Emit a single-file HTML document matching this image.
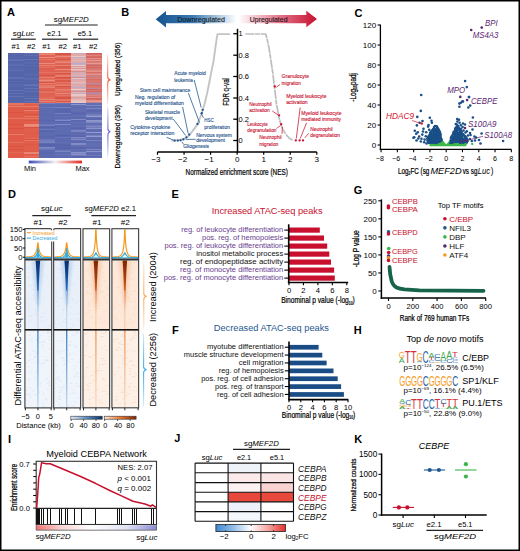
<!DOCTYPE html><html><head><meta charset="utf-8"><title>Figure</title><style>html,body{margin:0;padding:0;background:#fff;width:520px;height:551px;overflow:hidden;}svg{display:block;font-family:"Liberation Sans",sans-serif;}</style></head><body><svg width="520" height="551" viewBox="0 0 520 551" font-family="Liberation Sans, sans-serif"><defs><linearGradient id="gA"><stop offset="0" stop-color="#3d4db5"/><stop offset="0.5" stop-color="#f4f0f0"/><stop offset="1" stop-color="#e0281c"/></linearGradient><linearGradient id="br1" x1="0" y1="0" x2="0" y2="1"><stop offset="0" stop-color="#f25a3c" stop-opacity="0.2"/><stop offset="0.5" stop-color="#f25a3c"/><stop offset="1" stop-color="#f25a3c" stop-opacity="0.2"/></linearGradient><linearGradient id="br2" x1="0" y1="0" x2="0" y2="1"><stop offset="0" stop-color="#5a5acc" stop-opacity="0.2"/><stop offset="0.5" stop-color="#5a5acc"/><stop offset="1" stop-color="#5a5acc" stop-opacity="0.2"/></linearGradient><linearGradient id="gBl" x1="0" x2="1"><stop offset="0" stop-color="#15538f"/><stop offset="0.45" stop-color="#3a78b0"/><stop offset="1" stop-color="#ffffff"/></linearGradient><linearGradient id="gBr" x1="0" x2="1"><stop offset="0" stop-color="#ffffff"/><stop offset="0.55" stop-color="#de6f84"/><stop offset="1" stop-color="#c8102e"/></linearGradient><filter id="bl1" x="-1" y="-0.2" width="3" height="1.4"><feGaussianBlur stdDeviation="0.6"/></filter><filter id="bl2" x="-1" y="-0.2" width="3" height="1.4"><feGaussianBlur stdDeviation="1.5"/></filter><linearGradient id="lnB" x1="0" y1="0" x2="0" y2="1"><stop offset="0" stop-color="#3a7cc0"/><stop offset="0.5" stop-color="#7aa8d8"/><stop offset="1" stop-color="#c4d9ef"/></linearGradient><linearGradient id="lnO" x1="0" y1="0" x2="0" y2="1"><stop offset="0" stop-color="#ee9250"/><stop offset="0.5" stop-color="#f6bc92"/><stop offset="1" stop-color="#fadcc6"/></linearGradient><linearGradient id="wB" x1="0" y1="0" x2="0" y2="1"><stop offset="0" stop-color="#08306b"/><stop offset="0.3" stop-color="#0f4a92"/><stop offset="0.55" stop-color="#2f72b8"/><stop offset="0.8" stop-color="#7aaad8"/><stop offset="1" stop-color="#b9d0ea" stop-opacity="0.6"/></linearGradient><linearGradient id="wO" x1="0" y1="0" x2="0" y2="1"><stop offset="0" stop-color="#7f2704"/><stop offset="0.3" stop-color="#a23a0c"/><stop offset="0.55" stop-color="#cf6228"/><stop offset="0.8" stop-color="#eea070"/><stop offset="1" stop-color="#f6c4a2" stop-opacity="0.6"/></linearGradient><linearGradient id="cbB"><stop offset="0" stop-color="#e8eff8"/><stop offset="0.5" stop-color="#5b8fc6"/><stop offset="1" stop-color="#08306b"/></linearGradient><linearGradient id="cbO"><stop offset="0" stop-color="#fdebdd"/><stop offset="0.5" stop-color="#ee7a32"/><stop offset="1" stop-color="#7f2704"/></linearGradient><linearGradient id="br3" x1="0" y1="0" x2="0" y2="1"><stop offset="0" stop-color="#f8a850" stop-opacity="0.2"/><stop offset="0.5" stop-color="#f8a850"/><stop offset="1" stop-color="#f8a850" stop-opacity="0.2"/></linearGradient><linearGradient id="br4" x1="0" y1="0" x2="0" y2="1"><stop offset="0" stop-color="#36a8e6" stop-opacity="0.2"/><stop offset="0.5" stop-color="#36a8e6"/><stop offset="1" stop-color="#36a8e6" stop-opacity="0.2"/></linearGradient><linearGradient id="gI"><stop offset="0" stop-color="#ef7070"/><stop offset="0.2" stop-color="#f9d2d2"/><stop offset="0.45" stop-color="#ffffff"/><stop offset="0.75" stop-color="#e2e2f6"/><stop offset="1" stop-color="#8a8ad2"/></linearGradient><linearGradient id="gJ"><stop offset="0" stop-color="#3f88d4"/><stop offset="0.25" stop-color="#93bde6"/><stop offset="0.5" stop-color="#ffffff"/><stop offset="0.75" stop-color="#f4a6a2"/><stop offset="1" stop-color="#e5302a"/></linearGradient></defs><rect width="520" height="551" fill="#fff"/><text x="7.00" y="16.30" font-size="11" font-weight="bold">A</text>
<text x="53.80" y="21.60" font-size="7.3" textLength="35.00" lengthAdjust="spacingAndGlyphs">sg<tspan font-style="italic">MEF2D</tspan></text>
<line x1="45.00" y1="25.00" x2="97.70" y2="25.00" stroke="#222" stroke-width="1.2" />
<text x="12.70" y="35.60" font-size="7.3" textLength="21.60" lengthAdjust="spacingAndGlyphs">sg<tspan font-style="italic">Luc</tspan></text>
<text x="47.00" y="35.80" font-size="7.3" textLength="14.50" lengthAdjust="spacingAndGlyphs">e2.1</text>
<text x="77.70" y="35.80" font-size="7.3" textLength="14.60" lengthAdjust="spacingAndGlyphs">e5.1</text>
<line x1="11.00" y1="39.20" x2="35.80" y2="39.20" stroke="#222" stroke-width="1.2" />
<line x1="42.00" y1="39.20" x2="67.70" y2="39.20" stroke="#222" stroke-width="1.2" />
<line x1="73.00" y1="39.20" x2="98.20" y2="39.20" stroke="#222" stroke-width="1.2" />
<text x="11.50" y="48.80" font-size="7" textLength="8.50" lengthAdjust="spacingAndGlyphs">#1</text>
<text x="27.00" y="48.80" font-size="7" textLength="8.50" lengthAdjust="spacingAndGlyphs">#2</text>
<text x="42.30" y="48.80" font-size="7" textLength="8.50" lengthAdjust="spacingAndGlyphs">#1</text>
<text x="58.50" y="48.80" font-size="7" textLength="8.50" lengthAdjust="spacingAndGlyphs">#2</text>
<text x="73.00" y="48.80" font-size="7" textLength="8.50" lengthAdjust="spacingAndGlyphs">#1</text>
<text x="89.00" y="48.80" font-size="7" textLength="8.50" lengthAdjust="spacingAndGlyphs">#2</text>
<g shape-rendering="crispEdges">
<rect x="8.00" y="53.00" width="15.62" height="50.00" fill="#5464a8" />
<rect x="8.00" y="54.00" width="15.62" height="1.00" fill="#5969ac" />
<rect x="8.00" y="57.00" width="15.62" height="1.00" fill="#5868ab" />
<rect x="8.00" y="59.00" width="15.62" height="1.00" fill="#5f6eb0" />
<rect x="8.00" y="60.00" width="15.62" height="1.00" fill="#6372b4" />
<rect x="8.00" y="63.00" width="15.62" height="1.00" fill="#5968ab" />
<rect x="8.00" y="64.00" width="15.62" height="1.00" fill="#5b6bae" />
<rect x="8.00" y="65.00" width="15.62" height="1.00" fill="#5f6eb0" />
<rect x="8.00" y="68.00" width="15.62" height="1.00" fill="#5c6cae" />
<rect x="8.00" y="70.00" width="15.62" height="1.00" fill="#5f6fb1" />
<rect x="8.00" y="77.00" width="15.62" height="1.00" fill="#6070b1" />
<rect x="8.00" y="78.00" width="15.62" height="1.00" fill="#5e6eb0" />
<rect x="8.00" y="81.00" width="15.62" height="1.00" fill="#5969ac" />
<rect x="8.00" y="84.00" width="15.62" height="1.00" fill="#5d6caf" />
<rect x="8.00" y="86.00" width="15.62" height="1.00" fill="#5c6cae" />
<rect x="8.00" y="90.00" width="15.62" height="1.00" fill="#6372b4" />
<rect x="8.00" y="93.00" width="15.62" height="1.00" fill="#606fb1" />
<rect x="8.00" y="96.00" width="15.62" height="1.00" fill="#6372b3" />
<rect x="8.00" y="102.00" width="15.62" height="1.00" fill="#5a69ac" />
<rect x="23.62" y="53.00" width="15.62" height="50.00" fill="#5565a9" />
<rect x="23.62" y="53.00" width="15.62" height="1.00" fill="#6372b3" />
<rect x="23.62" y="55.00" width="15.62" height="1.00" fill="#5f6eb0" />
<rect x="23.62" y="59.00" width="15.62" height="1.00" fill="#6473b4" />
<rect x="23.62" y="62.00" width="15.62" height="1.00" fill="#5b6aad" />
<rect x="23.62" y="63.00" width="15.62" height="1.00" fill="#5969ac" />
<rect x="23.62" y="65.00" width="15.62" height="1.00" fill="#5969ac" />
<rect x="23.62" y="74.00" width="15.62" height="1.00" fill="#5d6daf" />
<rect x="23.62" y="78.00" width="15.62" height="1.00" fill="#5e6daf" />
<rect x="23.62" y="79.00" width="15.62" height="1.00" fill="#5a6aad" />
<rect x="23.62" y="84.00" width="15.62" height="1.00" fill="#606fb1" />
<rect x="23.62" y="85.00" width="15.62" height="1.00" fill="#6373b4" />
<rect x="23.62" y="88.00" width="15.62" height="1.00" fill="#6473b4" />
<rect x="23.62" y="91.00" width="15.62" height="1.00" fill="#6170b2" />
<rect x="23.62" y="96.00" width="15.62" height="1.00" fill="#5a6aad" />
<rect x="23.62" y="98.00" width="15.62" height="1.00" fill="#6473b4" />
<rect x="23.62" y="101.00" width="15.62" height="1.00" fill="#6372b3" />
<rect x="39.25" y="53.00" width="15.62" height="50.00" fill="#df6252" />
<rect x="39.25" y="53.00" width="15.62" height="1.00" fill="#e77b6b" />
<rect x="39.25" y="54.00" width="15.62" height="1.00" fill="#e88778" />
<rect x="39.25" y="57.00" width="15.62" height="1.00" fill="#ea8f81" />
<rect x="39.25" y="59.00" width="15.62" height="1.00" fill="#e57565" />
<rect x="39.25" y="63.00" width="15.62" height="1.00" fill="#e98a7c" />
<rect x="39.25" y="65.00" width="15.62" height="1.00" fill="#e88070" />
<rect x="39.25" y="67.00" width="15.62" height="1.00" fill="#e37364" />
<rect x="39.25" y="68.00" width="15.62" height="1.00" fill="#db5c4c" />
<rect x="39.25" y="72.00" width="15.62" height="1.00" fill="#e47161" />
<rect x="39.25" y="75.00" width="15.62" height="1.00" fill="#d75545" />
<rect x="39.25" y="77.00" width="15.62" height="1.00" fill="#e68071" />
<rect x="39.25" y="79.00" width="15.62" height="1.00" fill="#e47262" />
<rect x="39.25" y="80.00" width="15.62" height="1.00" fill="#e98b7d" />
<rect x="39.25" y="81.00" width="15.62" height="1.00" fill="#e37061" />
<rect x="39.25" y="82.00" width="15.62" height="1.00" fill="#d75444" />
<rect x="39.25" y="83.00" width="15.62" height="1.00" fill="#e88070" />
<rect x="39.25" y="85.00" width="15.62" height="1.00" fill="#e57666" />
<rect x="39.25" y="86.00" width="15.62" height="1.00" fill="#e67868" />
<rect x="39.25" y="87.00" width="15.62" height="1.00" fill="#e68071" />
<rect x="39.25" y="90.00" width="15.62" height="1.00" fill="#db5b4b" />
<rect x="39.25" y="91.00" width="15.62" height="1.00" fill="#e37161" />
<rect x="39.25" y="92.00" width="15.62" height="1.00" fill="#e37162" />
<rect x="39.25" y="97.00" width="15.62" height="1.00" fill="#e26c5c" />
<rect x="39.25" y="98.00" width="15.62" height="1.00" fill="#e16a5a" />
<rect x="39.25" y="99.00" width="15.62" height="1.00" fill="#e88778" />
<rect x="39.25" y="101.00" width="15.62" height="1.00" fill="#e78173" />
<rect x="54.88" y="53.00" width="15.62" height="50.00" fill="#e06454" />
<rect x="54.88" y="53.00" width="15.62" height="1.00" fill="#d85646" />
<rect x="54.88" y="54.00" width="15.62" height="1.00" fill="#d85545" />
<rect x="54.88" y="55.00" width="15.62" height="1.00" fill="#e26c5c" />
<rect x="54.88" y="56.00" width="15.62" height="1.00" fill="#ea8d7f" />
<rect x="54.88" y="57.00" width="15.62" height="1.00" fill="#e26c5c" />
<rect x="54.88" y="59.00" width="15.62" height="1.00" fill="#d95747" />
<rect x="54.88" y="60.00" width="15.62" height="1.00" fill="#e36f5f" />
<rect x="54.88" y="61.00" width="15.62" height="1.00" fill="#e57666" />
<rect x="54.88" y="62.00" width="15.62" height="1.00" fill="#e98b7c" />
<rect x="54.88" y="65.00" width="15.62" height="1.00" fill="#e77e6e" />
<rect x="54.88" y="66.00" width="15.62" height="1.00" fill="#dc5e4e" />
<rect x="54.88" y="67.00" width="15.62" height="1.00" fill="#db5b4b" />
<rect x="54.88" y="69.00" width="15.62" height="1.00" fill="#e98a7b" />
<rect x="54.88" y="72.00" width="15.62" height="1.00" fill="#e67969" />
<rect x="54.88" y="73.00" width="15.62" height="1.00" fill="#d75444" />
<rect x="54.88" y="75.00" width="15.62" height="1.00" fill="#e77f71" />
<rect x="54.88" y="76.00" width="15.62" height="1.00" fill="#e77c6c" />
<rect x="54.88" y="77.00" width="15.62" height="1.00" fill="#d65242" />
<rect x="54.88" y="78.00" width="15.62" height="1.00" fill="#dc5d4d" />
<rect x="54.88" y="79.00" width="15.62" height="1.00" fill="#e47363" />
<rect x="54.88" y="80.00" width="15.62" height="1.00" fill="#da5a4a" />
<rect x="54.88" y="81.00" width="15.62" height="1.00" fill="#da5949" />
<rect x="54.88" y="82.00" width="15.62" height="1.00" fill="#e47565" />
<rect x="54.88" y="84.00" width="15.62" height="1.00" fill="#e47464" />
<rect x="54.88" y="85.00" width="15.62" height="1.00" fill="#e57b6c" />
<rect x="54.88" y="86.00" width="15.62" height="1.00" fill="#d75444" />
<rect x="54.88" y="89.00" width="15.62" height="1.00" fill="#e87e6e" />
<rect x="54.88" y="90.00" width="15.62" height="1.00" fill="#e47262" />
<rect x="54.88" y="91.00" width="15.62" height="1.00" fill="#e36f5f" />
<rect x="54.88" y="93.00" width="15.62" height="1.00" fill="#e9887a" />
<rect x="54.88" y="95.00" width="15.62" height="1.00" fill="#e47364" />
<rect x="54.88" y="97.00" width="15.62" height="1.00" fill="#d65242" />
<rect x="54.88" y="98.00" width="15.62" height="1.00" fill="#d95747" />
<rect x="54.88" y="99.00" width="15.62" height="1.00" fill="#e37060" />
<rect x="54.88" y="100.00" width="15.62" height="1.00" fill="#e57a6b" />
<rect x="54.88" y="101.00" width="15.62" height="1.00" fill="#d95747" />
<rect x="54.88" y="102.00" width="15.62" height="1.00" fill="#e67b6c" />
<rect x="70.50" y="53.00" width="15.62" height="50.00" fill="#deaaaa" />
<rect x="70.50" y="53.00" width="15.62" height="1.00" fill="#ccabbb" />
<rect x="70.50" y="56.00" width="15.62" height="1.00" fill="#ebc8c7" />
<rect x="70.50" y="57.00" width="15.62" height="1.00" fill="#c5abc2" />
<rect x="70.50" y="58.00" width="15.62" height="1.00" fill="#e1b1b1" />
<rect x="70.50" y="60.00" width="15.62" height="1.00" fill="#e3b7b7" />
<rect x="70.50" y="63.00" width="15.62" height="1.00" fill="#b7accf" />
<rect x="70.50" y="64.00" width="15.62" height="1.00" fill="#c8abbf" />
<rect x="70.50" y="65.00" width="15.62" height="1.00" fill="#eccbca" />
<rect x="70.50" y="66.00" width="15.62" height="1.00" fill="#db9998" />
<rect x="70.50" y="67.00" width="15.62" height="1.00" fill="#e5bcbc" />
<rect x="70.50" y="68.00" width="15.62" height="1.00" fill="#da9594" />
<rect x="70.50" y="69.00" width="15.62" height="1.00" fill="#e8c1bf" />
<rect x="70.50" y="70.00" width="15.62" height="1.00" fill="#e0afaf" />
<rect x="70.50" y="71.00" width="15.62" height="1.00" fill="#d88d8b" />
<rect x="70.50" y="72.00" width="15.62" height="1.00" fill="#d3abb4" />
<rect x="70.50" y="74.00" width="15.62" height="1.00" fill="#d4abb4" />
<rect x="70.50" y="75.00" width="15.62" height="1.00" fill="#e2b3b3" />
<rect x="70.50" y="76.00" width="15.62" height="1.00" fill="#c5abc2" />
<rect x="70.50" y="77.00" width="15.62" height="1.00" fill="#d9908e" />
<rect x="70.50" y="78.00" width="15.62" height="1.00" fill="#e7bfbe" />
<rect x="70.50" y="79.00" width="15.62" height="1.00" fill="#d1abb6" />
<rect x="70.50" y="82.00" width="15.62" height="1.00" fill="#e5baba" />
<rect x="70.50" y="83.00" width="15.62" height="1.00" fill="#e1b1b1" />
<rect x="70.50" y="84.00" width="15.62" height="1.00" fill="#d3abb5" />
<rect x="70.50" y="87.00" width="15.62" height="1.00" fill="#b9accd" />
<rect x="70.50" y="89.00" width="15.62" height="1.00" fill="#eccbc9" />
<rect x="70.50" y="90.00" width="15.62" height="1.00" fill="#d1abb6" />
<rect x="70.50" y="91.00" width="15.62" height="1.00" fill="#d88d8b" />
<rect x="70.50" y="92.00" width="15.62" height="1.00" fill="#e3b7b7" />
<rect x="70.50" y="93.00" width="15.62" height="1.00" fill="#c5abc1" />
<rect x="70.50" y="94.00" width="15.62" height="1.00" fill="#ebc9c7" />
<rect x="70.50" y="95.00" width="15.62" height="1.00" fill="#eac6c5" />
<rect x="70.50" y="96.00" width="15.62" height="1.00" fill="#e2b3b3" />
<rect x="70.50" y="97.00" width="15.62" height="1.00" fill="#db9d9c" />
<rect x="70.50" y="99.00" width="15.62" height="1.00" fill="#e3b6b6" />
<rect x="70.50" y="100.00" width="15.62" height="1.00" fill="#e5bdbd" />
<rect x="70.50" y="101.00" width="15.62" height="1.00" fill="#e9c5c4" />
<rect x="70.50" y="102.00" width="15.62" height="1.00" fill="#e9c5c3" />
<rect x="86.12" y="53.00" width="15.62" height="50.00" fill="#d87670" />
<rect x="86.12" y="53.00" width="15.62" height="1.00" fill="#d3615b" />
<rect x="86.12" y="54.00" width="15.62" height="1.00" fill="#d66d67" />
<rect x="86.12" y="55.00" width="15.62" height="1.00" fill="#df857e" />
<rect x="86.12" y="56.00" width="15.62" height="1.00" fill="#d66b65" />
<rect x="86.12" y="57.00" width="15.62" height="1.00" fill="#d4655f" />
<rect x="86.12" y="58.00" width="15.62" height="1.00" fill="#e59289" />
<rect x="86.12" y="60.00" width="15.62" height="1.00" fill="#e8978e" />
<rect x="86.12" y="62.00" width="15.62" height="1.00" fill="#dd8079" />
<rect x="86.12" y="63.00" width="15.62" height="1.00" fill="#e8988e" />
<rect x="86.12" y="64.00" width="15.62" height="1.00" fill="#cf7c7f" />
<rect x="86.12" y="65.00" width="15.62" height="1.00" fill="#d4655f" />
<rect x="86.12" y="67.00" width="15.62" height="1.00" fill="#d46660" />
<rect x="86.12" y="70.00" width="15.62" height="1.00" fill="#e18980" />
<rect x="86.12" y="71.00" width="15.62" height="1.00" fill="#e49087" />
<rect x="86.12" y="72.00" width="15.62" height="1.00" fill="#d66d67" />
<rect x="86.12" y="73.00" width="15.62" height="1.00" fill="#dd827a" />
<rect x="86.12" y="74.00" width="15.62" height="1.00" fill="#e59288" />
<rect x="86.12" y="76.00" width="15.62" height="1.00" fill="#c08497" />
<rect x="86.12" y="78.00" width="15.62" height="1.00" fill="#dd8079" />
<rect x="86.12" y="79.00" width="15.62" height="1.00" fill="#d66e68" />
<rect x="86.12" y="83.00" width="15.62" height="1.00" fill="#be869c" />
<rect x="86.12" y="84.00" width="15.62" height="1.00" fill="#cb7e86" />
<rect x="86.12" y="85.00" width="15.62" height="1.00" fill="#d56963" />
<rect x="86.12" y="88.00" width="15.62" height="1.00" fill="#be859b" />
<rect x="86.12" y="89.00" width="15.62" height="1.00" fill="#d4655f" />
<rect x="86.12" y="91.00" width="15.62" height="1.00" fill="#d56761" />
<rect x="86.12" y="92.00" width="15.62" height="1.00" fill="#c28395" />
<rect x="86.12" y="93.00" width="15.62" height="1.00" fill="#bc879f" />
<rect x="86.12" y="94.00" width="15.62" height="1.00" fill="#c6818e" />
<rect x="86.12" y="95.00" width="15.62" height="1.00" fill="#df857d" />
<rect x="86.12" y="97.00" width="15.62" height="1.00" fill="#e48f86" />
<rect x="86.12" y="98.00" width="15.62" height="1.00" fill="#d3625c" />
<rect x="86.12" y="99.00" width="15.62" height="1.00" fill="#d66c66" />
<rect x="86.12" y="100.00" width="15.62" height="1.00" fill="#e38d84" />
<rect x="86.12" y="101.00" width="15.62" height="1.00" fill="#e8988e" />
<rect x="86.12" y="102.00" width="15.62" height="1.00" fill="#c48291" />
<rect x="8.00" y="103.00" width="15.62" height="55.25" fill="#e05c48" />
<rect x="8.00" y="103.00" width="15.62" height="1.00" fill="#e57561" />
<rect x="8.00" y="104.00" width="15.62" height="1.00" fill="#e57662" />
<rect x="8.00" y="106.00" width="15.62" height="1.00" fill="#e88571" />
<rect x="8.00" y="112.00" width="15.62" height="1.00" fill="#dc5441" />
<rect x="8.00" y="118.00" width="15.62" height="1.00" fill="#e57763" />
<rect x="8.00" y="124.00" width="15.62" height="1.00" fill="#db5340" />
<rect x="8.00" y="128.00" width="15.62" height="1.00" fill="#da513f" />
<rect x="8.00" y="134.00" width="15.62" height="1.00" fill="#e67c68" />
<rect x="8.00" y="142.00" width="15.62" height="1.00" fill="#e4715d" />
<rect x="8.00" y="146.00" width="15.62" height="1.00" fill="#dc5442" />
<rect x="8.00" y="149.00" width="15.62" height="1.00" fill="#dc5442" />
<rect x="8.00" y="152.00" width="15.62" height="1.00" fill="#e36955" />
<rect x="23.62" y="103.00" width="15.62" height="55.25" fill="#e15e4a" />
<rect x="23.62" y="103.00" width="15.62" height="1.00" fill="#e36b57" />
<rect x="23.62" y="106.00" width="15.62" height="1.00" fill="#e77c68" />
<rect x="23.62" y="109.00" width="15.62" height="1.00" fill="#da513f" />
<rect x="23.62" y="110.00" width="15.62" height="1.00" fill="#e8836f" />
<rect x="23.62" y="114.00" width="15.62" height="1.00" fill="#db5340" />
<rect x="23.62" y="116.00" width="15.62" height="1.00" fill="#e57561" />
<rect x="23.62" y="118.00" width="15.62" height="1.00" fill="#e57460" />
<rect x="23.62" y="120.00" width="15.62" height="1.00" fill="#dc5442" />
<rect x="23.62" y="124.00" width="15.62" height="1.00" fill="#e98b77" />
<rect x="23.62" y="125.00" width="15.62" height="1.00" fill="#ea8d79" />
<rect x="23.62" y="126.00" width="15.62" height="1.00" fill="#e88470" />
<rect x="23.62" y="127.00" width="15.62" height="1.00" fill="#db513f" />
<rect x="23.62" y="133.00" width="15.62" height="1.00" fill="#df5a47" />
<rect x="23.62" y="138.00" width="15.62" height="1.00" fill="#e46d59" />
<rect x="23.62" y="139.00" width="15.62" height="1.00" fill="#da503e" />
<rect x="23.62" y="140.00" width="15.62" height="1.00" fill="#e67864" />
<rect x="23.62" y="144.00" width="15.62" height="1.00" fill="#de5845" />
<rect x="23.62" y="151.00" width="15.62" height="1.00" fill="#df5a47" />
<rect x="23.62" y="152.00" width="15.62" height="1.00" fill="#e98773" />
<rect x="23.62" y="153.00" width="15.62" height="1.00" fill="#e88571" />
<rect x="23.62" y="156.00" width="15.62" height="1.00" fill="#e5735f" />
<rect x="39.25" y="103.00" width="15.62" height="55.25" fill="#5c6ab0" />
<rect x="39.25" y="103.00" width="15.62" height="1.00" fill="#7883c1" />
<rect x="39.25" y="107.00" width="15.62" height="1.00" fill="#6875b7" />
<rect x="39.25" y="114.00" width="15.62" height="1.00" fill="#5967ae" />
<rect x="39.25" y="120.00" width="15.62" height="1.00" fill="#5765ac" />
<rect x="39.25" y="124.00" width="15.62" height="1.00" fill="#6c78ba" />
<rect x="39.25" y="125.00" width="15.62" height="1.00" fill="#727ebd" />
<rect x="39.25" y="127.00" width="15.62" height="1.00" fill="#5563ab" />
<rect x="39.25" y="129.00" width="15.62" height="1.00" fill="#6b77b9" />
<rect x="39.25" y="130.00" width="15.62" height="1.00" fill="#5967ae" />
<rect x="39.25" y="131.00" width="15.62" height="1.00" fill="#5664ac" />
<rect x="39.25" y="136.00" width="15.62" height="1.00" fill="#5866ad" />
<rect x="39.25" y="138.00" width="15.62" height="1.00" fill="#5967ae" />
<rect x="39.25" y="139.00" width="15.62" height="1.00" fill="#6b78b9" />
<rect x="39.25" y="140.00" width="15.62" height="1.00" fill="#6e7abb" />
<rect x="39.25" y="141.00" width="15.62" height="1.00" fill="#737ebe" />
<rect x="39.25" y="142.00" width="15.62" height="1.00" fill="#7782c0" />
<rect x="39.25" y="144.00" width="15.62" height="1.00" fill="#5563ab" />
<rect x="39.25" y="145.00" width="15.62" height="1.00" fill="#5563aa" />
<rect x="39.25" y="146.00" width="15.62" height="1.00" fill="#5967ad" />
<rect x="39.25" y="147.00" width="15.62" height="1.00" fill="#7e88c5" />
<rect x="39.25" y="148.00" width="15.62" height="1.00" fill="#717dbd" />
<rect x="39.25" y="149.00" width="15.62" height="1.00" fill="#6875b7" />
<rect x="39.25" y="152.00" width="15.62" height="1.00" fill="#5866ad" />
<rect x="39.25" y="153.00" width="15.62" height="1.00" fill="#5a68ae" />
<rect x="39.25" y="158.00" width="15.62" height="0.25" fill="#5967ae" />
<rect x="54.88" y="103.00" width="15.62" height="55.25" fill="#5d6bb1" />
<rect x="54.88" y="103.00" width="15.62" height="1.00" fill="#6773b7" />
<rect x="54.88" y="106.00" width="15.62" height="1.00" fill="#5664ac" />
<rect x="54.88" y="107.00" width="15.62" height="1.00" fill="#7782c1" />
<rect x="54.88" y="108.00" width="15.62" height="1.00" fill="#5866ad" />
<rect x="54.88" y="109.00" width="15.62" height="1.00" fill="#5866ad" />
<rect x="54.88" y="110.00" width="15.62" height="1.00" fill="#5866ad" />
<rect x="54.88" y="111.00" width="15.62" height="1.00" fill="#5664ac" />
<rect x="54.88" y="112.00" width="15.62" height="1.00" fill="#5967ae" />
<rect x="54.88" y="113.00" width="15.62" height="1.00" fill="#717dbd" />
<rect x="54.88" y="115.00" width="15.62" height="1.00" fill="#5866ad" />
<rect x="54.88" y="116.00" width="15.62" height="1.00" fill="#6774b7" />
<rect x="54.88" y="117.00" width="15.62" height="1.00" fill="#5a68af" />
<rect x="54.88" y="119.00" width="15.62" height="1.00" fill="#6a76b9" />
<rect x="54.88" y="120.00" width="15.62" height="1.00" fill="#7e88c5" />
<rect x="54.88" y="121.00" width="15.62" height="1.00" fill="#5664ab" />
<rect x="54.88" y="124.00" width="15.62" height="1.00" fill="#7f89c6" />
<rect x="54.88" y="126.00" width="15.62" height="1.00" fill="#5a68af" />
<rect x="54.88" y="134.00" width="15.62" height="1.00" fill="#5a68ae" />
<rect x="54.88" y="135.00" width="15.62" height="1.00" fill="#5462aa" />
<rect x="54.88" y="136.00" width="15.62" height="1.00" fill="#5a68af" />
<rect x="54.88" y="137.00" width="15.62" height="1.00" fill="#6774b7" />
<rect x="54.88" y="140.00" width="15.62" height="1.00" fill="#5a68af" />
<rect x="54.88" y="144.00" width="15.62" height="1.00" fill="#5967ae" />
<rect x="54.88" y="145.00" width="15.62" height="1.00" fill="#5664ac" />
<rect x="54.88" y="146.00" width="15.62" height="1.00" fill="#5a68ae" />
<rect x="54.88" y="147.00" width="15.62" height="1.00" fill="#5866ad" />
<rect x="54.88" y="148.00" width="15.62" height="1.00" fill="#5563ab" />
<rect x="54.88" y="150.00" width="15.62" height="1.00" fill="#6976b8" />
<rect x="54.88" y="151.00" width="15.62" height="1.00" fill="#7b85c3" />
<rect x="54.88" y="154.00" width="15.62" height="1.00" fill="#6875b8" />
<rect x="54.88" y="158.00" width="15.62" height="0.25" fill="#5664ac" />
<rect x="70.50" y="103.00" width="15.62" height="55.25" fill="#626eb2" />
<rect x="70.50" y="104.00" width="15.62" height="1.00" fill="#8e96ce" />
<rect x="70.50" y="107.00" width="15.62" height="1.00" fill="#5d69af" />
<rect x="70.50" y="112.00" width="15.62" height="1.00" fill="#5b67ae" />
<rect x="70.50" y="113.00" width="15.62" height="1.00" fill="#5965ac" />
<rect x="70.50" y="114.00" width="15.62" height="1.00" fill="#5e6ab0" />
<rect x="70.50" y="117.00" width="15.62" height="1.00" fill="#5b67ae" />
<rect x="70.50" y="118.00" width="15.62" height="1.00" fill="#5f6bb0" />
<rect x="70.50" y="119.00" width="15.62" height="1.00" fill="#828bc6" />
<rect x="70.50" y="120.00" width="15.62" height="1.00" fill="#5965ac" />
<rect x="70.50" y="121.00" width="15.62" height="1.00" fill="#5f6bb0" />
<rect x="70.50" y="124.00" width="15.62" height="1.00" fill="#5b67ae" />
<rect x="70.50" y="127.00" width="15.62" height="1.00" fill="#5a66ad" />
<rect x="70.50" y="128.00" width="15.62" height="1.00" fill="#5864ac" />
<rect x="70.50" y="130.00" width="15.62" height="1.00" fill="#7c85c2" />
<rect x="70.50" y="131.00" width="15.62" height="1.00" fill="#7781bf" />
<rect x="70.50" y="133.00" width="15.62" height="1.00" fill="#5a66ad" />
<rect x="70.50" y="135.00" width="15.62" height="1.00" fill="#5b67ae" />
<rect x="70.50" y="136.00" width="15.62" height="1.00" fill="#5965ac" />
<rect x="70.50" y="137.00" width="15.62" height="1.00" fill="#818ac6" />
<rect x="70.50" y="138.00" width="15.62" height="1.00" fill="#6d78b9" />
<rect x="70.50" y="139.00" width="15.62" height="1.00" fill="#7e88c4" />
<rect x="70.50" y="141.00" width="15.62" height="1.00" fill="#5b67ae" />
<rect x="70.50" y="142.00" width="15.62" height="1.00" fill="#5e6ab0" />
<rect x="70.50" y="143.00" width="15.62" height="1.00" fill="#848dc8" />
<rect x="70.50" y="144.00" width="15.62" height="1.00" fill="#828bc6" />
<rect x="70.50" y="147.00" width="15.62" height="1.00" fill="#5864ac" />
<rect x="70.50" y="148.00" width="15.62" height="1.00" fill="#5b67ae" />
<rect x="70.50" y="152.00" width="15.62" height="1.00" fill="#8b93cc" />
<rect x="70.50" y="153.00" width="15.62" height="1.00" fill="#7a84c2" />
<rect x="70.50" y="154.00" width="15.62" height="1.00" fill="#8b93cc" />
<rect x="70.50" y="155.00" width="15.62" height="1.00" fill="#727cbc" />
<rect x="70.50" y="156.00" width="15.62" height="1.00" fill="#5965ad" />
<rect x="70.50" y="157.00" width="15.62" height="1.00" fill="#5f6bb0" />
<rect x="86.12" y="103.00" width="15.62" height="55.25" fill="#626eb2" />
<rect x="86.12" y="105.00" width="15.62" height="1.00" fill="#7f88c4" />
<rect x="86.12" y="106.00" width="15.62" height="1.00" fill="#5f6bb0" />
<rect x="86.12" y="108.00" width="15.62" height="1.00" fill="#7a83c1" />
<rect x="86.12" y="110.00" width="15.62" height="1.00" fill="#5a66ad" />
<rect x="86.12" y="111.00" width="15.62" height="1.00" fill="#5a66ad" />
<rect x="86.12" y="114.00" width="15.62" height="1.00" fill="#737dbd" />
<rect x="86.12" y="115.00" width="15.62" height="1.00" fill="#7a83c1" />
<rect x="86.12" y="116.00" width="15.62" height="1.00" fill="#969cd3" />
<rect x="86.12" y="118.00" width="15.62" height="1.00" fill="#5d69af" />
<rect x="86.12" y="119.00" width="15.62" height="1.00" fill="#5c68ae" />
<rect x="86.12" y="120.00" width="15.62" height="1.00" fill="#9299d0" />
<rect x="86.12" y="121.00" width="15.62" height="1.00" fill="#878fc9" />
<rect x="86.12" y="122.00" width="15.62" height="1.00" fill="#7f88c4" />
<rect x="86.12" y="125.00" width="15.62" height="1.00" fill="#717bbb" />
<rect x="86.12" y="126.00" width="15.62" height="1.00" fill="#7d86c3" />
<rect x="86.12" y="127.00" width="15.62" height="1.00" fill="#717bbb" />
<rect x="86.12" y="128.00" width="15.62" height="1.00" fill="#8c93cc" />
<rect x="86.12" y="130.00" width="15.62" height="1.00" fill="#5e6ab0" />
<rect x="86.12" y="132.00" width="15.62" height="1.00" fill="#939ad1" />
<rect x="86.12" y="135.00" width="15.62" height="1.00" fill="#7881c0" />
<rect x="86.12" y="136.00" width="15.62" height="1.00" fill="#969cd3" />
<rect x="86.12" y="139.00" width="15.62" height="1.00" fill="#5c68ae" />
<rect x="86.12" y="140.00" width="15.62" height="1.00" fill="#7b85c2" />
<rect x="86.12" y="141.00" width="15.62" height="1.00" fill="#5f6bb0" />
<rect x="86.12" y="142.00" width="15.62" height="1.00" fill="#5f6bb0" />
<rect x="86.12" y="147.00" width="15.62" height="1.00" fill="#5b67ae" />
<rect x="86.12" y="148.00" width="15.62" height="1.00" fill="#5f6bb0" />
<rect x="86.12" y="149.00" width="15.62" height="1.00" fill="#7e86c3" />
<rect x="86.12" y="151.00" width="15.62" height="1.00" fill="#8c94cd" />
<rect x="86.12" y="154.00" width="15.62" height="1.00" fill="#5f6bb0" />
<rect x="86.12" y="155.00" width="15.62" height="1.00" fill="#707abb" />
<rect x="86.12" y="156.00" width="15.62" height="1.00" fill="#5a66ad" />
</g>
<rect x="28.75" y="160.60" width="53.25" height="2.80" fill="url(#gA)" />
<text x="24.00" y="171.20" font-size="7.4" textLength="12.00" lengthAdjust="spacingAndGlyphs">Min</text>
<text x="75.50" y="171.20" font-size="7.4" textLength="14.00" lengthAdjust="spacingAndGlyphs">Max</text>
<path d="M106.70,54.50 Q107.70,54.50 107.70,59.50 L107.70,76.90 Q107.70,79.30 110.40,79.90 Q107.70,80.50 107.70,82.90 L107.70,99.00 Q107.70,104.00 106.70,104.00" stroke="url(#br1)" stroke-width="1.1" fill="none" />
<path d="M106.90,107.00 Q107.90,107.00 107.90,112.00 L107.90,128.80 Q107.90,131.20 110.30,131.80 Q107.90,132.40 107.90,134.80 L107.90,151.20 Q107.90,156.20 106.90,156.20" stroke="url(#br2)" stroke-width="1.1" fill="none" />
<text x="120.40" y="96.00" font-size="8" stroke="#000" stroke-width="0.22" textLength="53.40" lengthAdjust="spacingAndGlyphs" transform="rotate(-90 120.40 96.00)">Upregulated (356)</text>
<text x="120.40" y="168.60" font-size="8" stroke="#000" stroke-width="0.22" textLength="63.60" lengthAdjust="spacingAndGlyphs" transform="rotate(-90 120.40 168.60)">Downregulated (396)</text>
<text x="121.20" y="16.30" font-size="11" font-weight="bold">B</text>
<polygon points="155.7,19.2 166,11 166,15 236.5,15 236.5,23.2 166,23.2 166,27.4" fill="url(#gBl)"/>
<polygon points="238.5,15 306.3,15 306.3,10.8 317,19 306.3,27.2 306.3,23.2 238.5,23.2" fill="url(#gBr)"/>
<text x="177.20" y="21.80" font-size="7.2" stroke="#0f1c2c" stroke-width="0.12" fill="#0f1c2c" textLength="47.80" lengthAdjust="spacingAndGlyphs">Downregulated</text>
<text x="249.80" y="21.80" font-size="7.2" stroke="#2e0e16" stroke-width="0.12" fill="#2e0e16" textLength="37.70" lengthAdjust="spacingAndGlyphs">Upregulated</text>
<line x1="237.50" y1="28.80" x2="237.50" y2="152.60" stroke="#000" stroke-width="1.5" />
<line x1="157.50" y1="151.90" x2="316.80" y2="151.90" stroke="#000" stroke-width="1.5" />
<line x1="233.30" y1="33.70" x2="237.50" y2="33.70" stroke="#000" stroke-width="1.3" />
<text x="238.60" y="36.30" font-size="7.5">1</text>
<line x1="233.30" y1="55.20" x2="237.50" y2="55.20" stroke="#000" stroke-width="1.3" />
<text x="238.60" y="57.80" font-size="7.5">0.8</text>
<line x1="233.30" y1="76.50" x2="237.50" y2="76.50" stroke="#000" stroke-width="1.3" />
<text x="238.60" y="79.10" font-size="7.5">0.6</text>
<line x1="233.30" y1="98.00" x2="237.50" y2="98.00" stroke="#000" stroke-width="1.3" />
<text x="238.60" y="100.60" font-size="7.5">0.4</text>
<line x1="233.30" y1="119.20" x2="237.50" y2="119.20" stroke="#000" stroke-width="1.3" />
<text x="238.60" y="121.80" font-size="7.5">0.2</text>
<line x1="233.30" y1="140.50" x2="237.50" y2="140.50" stroke="#000" stroke-width="1.3" />
<text x="238.60" y="143.10" font-size="7.5">0</text>
<line x1="157.50" y1="151.90" x2="157.50" y2="154.80" stroke="#000" stroke-width="1.2" />
<text x="156.00" y="162.40" font-size="8.1" text-anchor="middle">−3</text>
<line x1="184.05" y1="151.90" x2="184.05" y2="154.80" stroke="#000" stroke-width="1.2" />
<text x="182.55" y="162.40" font-size="8.1" text-anchor="middle">−2</text>
<line x1="210.60" y1="151.90" x2="210.60" y2="154.80" stroke="#000" stroke-width="1.2" />
<text x="209.10" y="162.40" font-size="8.1" text-anchor="middle">−1</text>
<line x1="237.15" y1="151.90" x2="237.15" y2="154.80" stroke="#000" stroke-width="1.2" />
<text x="237.15" y="162.40" font-size="8.1" text-anchor="middle">0</text>
<line x1="263.70" y1="151.90" x2="263.70" y2="154.80" stroke="#000" stroke-width="1.2" />
<text x="263.70" y="162.40" font-size="8.1" text-anchor="middle">1</text>
<line x1="290.25" y1="151.90" x2="290.25" y2="154.80" stroke="#000" stroke-width="1.2" />
<text x="290.25" y="162.40" font-size="8.1" text-anchor="middle">2</text>
<line x1="316.80" y1="151.90" x2="316.80" y2="154.80" stroke="#000" stroke-width="1.2" />
<text x="316.80" y="162.40" font-size="8.1" text-anchor="middle">3</text>
<text x="185.60" y="175.40" font-size="8.6" stroke="#000" stroke-width="0.22" textLength="102.20" lengthAdjust="spacingAndGlyphs">Normalized enrichment score (NES)</text>
<text x="229.50" y="105.80" font-size="9" stroke="#000" stroke-width="0.22" textLength="27.80" lengthAdjust="spacingAndGlyphs" transform="rotate(-90 229.50 105.80)">FDR q-val</text>
<path d="M230,34.1 L217.5,34.1 C216.6,38 216,44 215.1,49.8 L213.6,60.7 L211.4,71.6 L209.3,82.5 L207.1,93.4 L204.5,104.3 L201,115.2 C199.5,119.5 198.5,121.5 197.3,124 C195.5,127.5 194.5,128.8 192.9,130.5 C191,133 190,134.5 188.5,136 C186.5,137.8 185,138.6 183.1,139.2 C180,140.2 178,140.6 171.5,140.7" stroke="#c4c4c4" stroke-width="1.9" fill="none" stroke-linejoin="round"/>
<path d="M245.4,34 L265.7,34 C267.5,40 268.6,46 269.3,49.7 L272.6,71.5 L274.3,85.6 L275.2,93.2 L276.5,104 L278.5,115 C279.3,119 280,121.5 280.7,123.6 C282,127.5 283,130 284.6,132.3 C286,134.5 287.5,136.3 289,137.8 C290.5,139 291.5,139.6 293.3,140.2" stroke="#bdbdbd" stroke-width="1.7" fill="none" stroke-dasharray="9 0.7 5 0.7" stroke-linejoin="round"/>
<circle cx="202.70" cy="109.80" r="1.15" fill="#1a4f8a"/>
<circle cx="201.80" cy="113.20" r="1.15" fill="#1a4f8a"/>
<circle cx="197.60" cy="124.00" r="1.15" fill="#1a4f8a"/>
<circle cx="189.20" cy="134.60" r="1.15" fill="#1a4f8a"/>
<circle cx="186.40" cy="137.30" r="1.15" fill="#1a4f8a"/>
<circle cx="183.40" cy="139.40" r="1.15" fill="#1a4f8a"/>
<circle cx="180.60" cy="140.30" r="1.15" fill="#1a4f8a"/>
<circle cx="177.80" cy="140.60" r="1.15" fill="#1a4f8a"/>
<circle cx="174.70" cy="140.60" r="1.15" fill="#1a4f8a"/>
<circle cx="274.80" cy="86.50" r="1.15" fill="#c8102e"/>
<circle cx="279.10" cy="115.30" r="1.15" fill="#c8102e"/>
<circle cx="281.20" cy="124.20" r="1.15" fill="#c8102e"/>
<circle cx="295.80" cy="140.40" r="1.15" fill="#c8102e"/>
<circle cx="299.60" cy="140.40" r="1.15" fill="#c8102e"/>
<circle cx="303.00" cy="140.40" r="1.15" fill="#c8102e"/>
<text x="174.30" y="75.20" font-size="5.1" stroke="#1a4f8a" stroke-width="0.12" fill="#1a4f8a" textLength="31.50" lengthAdjust="spacingAndGlyphs">Acute myeloid</text>
<text x="174.30" y="81.60" font-size="5.1" stroke="#1a4f8a" stroke-width="0.12" fill="#1a4f8a" textLength="18.50" lengthAdjust="spacingAndGlyphs">leukemia</text>
<text x="139.70" y="91.70" font-size="5.1" stroke="#1a4f8a" stroke-width="0.12" fill="#1a4f8a" textLength="50.70" lengthAdjust="spacingAndGlyphs">Stem cell maintenance</text>
<text x="135.00" y="99.00" font-size="5.1" stroke="#1a4f8a" stroke-width="0.12" fill="#1a4f8a" textLength="40.20" lengthAdjust="spacingAndGlyphs">Neg. regulation of</text>
<text x="135.00" y="105.30" font-size="5.1" stroke="#1a4f8a" stroke-width="0.12" fill="#1a4f8a" textLength="48.80" lengthAdjust="spacingAndGlyphs">myeloid differentiation</text>
<text x="144.90" y="114.00" font-size="5.1" stroke="#1a4f8a" stroke-width="0.12" fill="#1a4f8a" textLength="35.10" lengthAdjust="spacingAndGlyphs">Skeletal muscle</text>
<text x="144.90" y="120.20" font-size="5.1" stroke="#1a4f8a" stroke-width="0.12" fill="#1a4f8a" textLength="27.70" lengthAdjust="spacingAndGlyphs">development</text>
<text x="130.20" y="128.70" font-size="5.1" stroke="#1a4f8a" stroke-width="0.12" fill="#1a4f8a" textLength="40.10" lengthAdjust="spacingAndGlyphs">Cytokine-cytokine</text>
<text x="130.20" y="134.80" font-size="5.1" stroke="#1a4f8a" stroke-width="0.12" fill="#1a4f8a" textLength="44.10" lengthAdjust="spacingAndGlyphs">receptor interaction</text>
<text x="204.30" y="122.20" font-size="5.1" stroke="#1a4f8a" stroke-width="0.12" fill="#1a4f8a" textLength="9.50" lengthAdjust="spacingAndGlyphs">HSC</text>
<text x="204.30" y="129.00" font-size="5.1" stroke="#1a4f8a" stroke-width="0.12" fill="#1a4f8a" textLength="25.60" lengthAdjust="spacingAndGlyphs">proliferation</text>
<text x="196.20" y="136.60" font-size="5.1" stroke="#1a4f8a" stroke-width="0.12" fill="#1a4f8a" textLength="35.70" lengthAdjust="spacingAndGlyphs">Nervous system</text>
<text x="196.20" y="142.40" font-size="5.1" stroke="#1a4f8a" stroke-width="0.12" fill="#1a4f8a" textLength="28.70" lengthAdjust="spacingAndGlyphs">development</text>
<text x="183.20" y="147.80" font-size="5.1" stroke="#1a4f8a" stroke-width="0.12" fill="#1a4f8a" textLength="25.80" lengthAdjust="spacingAndGlyphs">Gliogenesis</text>
<line x1="194.20" y1="80.00" x2="201.20" y2="107.50" stroke="#1a4f8a" stroke-width="0.75" />
<line x1="188.40" y1="93.20" x2="199.60" y2="122.80" stroke="#1a4f8a" stroke-width="0.75" />
<line x1="182.60" y1="107.00" x2="188.20" y2="133.60" stroke="#1a4f8a" stroke-width="0.75" />
<line x1="173.30" y1="119.10" x2="185.80" y2="135.60" stroke="#1a4f8a" stroke-width="0.75" />
<line x1="166.60" y1="137.30" x2="173.80" y2="140.20" stroke="#1a4f8a" stroke-width="0.75" />
<line x1="203.50" y1="117.80" x2="200.80" y2="112.90" stroke="#1a4f8a" stroke-width="0.75" />
<line x1="195.70" y1="139.30" x2="185.80" y2="139.40" stroke="#1a4f8a" stroke-width="0.75" />
<line x1="183.50" y1="144.30" x2="182.00" y2="141.80" stroke="#1a4f8a" stroke-width="0.75" />
<text x="281.60" y="78.40" font-size="5.1" stroke="#c8102e" stroke-width="0.12" fill="#c8102e" textLength="27.40" lengthAdjust="spacingAndGlyphs">Granulocyte</text>
<text x="281.60" y="85.00" font-size="5.1" stroke="#c8102e" stroke-width="0.12" fill="#c8102e" textLength="19.20" lengthAdjust="spacingAndGlyphs">migration</text>
<text x="286.20" y="98.10" font-size="5.1" stroke="#c8102e" stroke-width="0.12" fill="#c8102e" textLength="40.30" lengthAdjust="spacingAndGlyphs">Myeloid leukocyte</text>
<text x="286.20" y="104.20" font-size="5.1" stroke="#c8102e" stroke-width="0.12" fill="#c8102e" textLength="21.50" lengthAdjust="spacingAndGlyphs">activation</text>
<text x="249.20" y="105.80" font-size="5.1" stroke="#c8102e" stroke-width="0.12" fill="#c8102e" textLength="22.50" lengthAdjust="spacingAndGlyphs">Neutrophil</text>
<text x="249.20" y="112.00" font-size="5.1" stroke="#c8102e" stroke-width="0.12" fill="#c8102e" textLength="20.60" lengthAdjust="spacingAndGlyphs">activation</text>
<text x="301.20" y="114.80" font-size="5.1" stroke="#c8102e" stroke-width="0.12" fill="#c8102e" textLength="40.30" lengthAdjust="spacingAndGlyphs">Myeloid leukocyte</text>
<text x="301.20" y="121.20" font-size="5.1" stroke="#c8102e" stroke-width="0.12" fill="#c8102e" textLength="39.80" lengthAdjust="spacingAndGlyphs">mediated immunity</text>
<text x="247.30" y="126.30" font-size="5.1" stroke="#c8102e" stroke-width="0.12" fill="#c8102e" textLength="20.50" lengthAdjust="spacingAndGlyphs">Leukocyte</text>
<text x="247.30" y="132.10" font-size="5.1" stroke="#c8102e" stroke-width="0.12" fill="#c8102e" textLength="29.20" lengthAdjust="spacingAndGlyphs">degranulation</text>
<text x="310.20" y="131.20" font-size="5.1" stroke="#c8102e" stroke-width="0.12" fill="#c8102e" textLength="22.50" lengthAdjust="spacingAndGlyphs">Neutrophil</text>
<text x="310.20" y="137.30" font-size="5.1" stroke="#c8102e" stroke-width="0.12" fill="#c8102e" textLength="29.80" lengthAdjust="spacingAndGlyphs">degranulation</text>
<text x="259.20" y="139.20" font-size="5.1" stroke="#c8102e" stroke-width="0.12" fill="#c8102e" textLength="22.50" lengthAdjust="spacingAndGlyphs">Neutrophil</text>
<text x="259.20" y="146.20" font-size="5.1" stroke="#c8102e" stroke-width="0.12" fill="#c8102e" textLength="19.20" lengthAdjust="spacingAndGlyphs">migration</text>
<line x1="280.00" y1="84.50" x2="276.30" y2="87.30" stroke="#c8102e" stroke-width="0.75" />
<line x1="272.30" y1="111.00" x2="278.40" y2="115.20" stroke="#c8102e" stroke-width="0.75" />
<line x1="276.50" y1="128.50" x2="280.60" y2="125.50" stroke="#c8102e" stroke-width="0.75" />
<line x1="282.00" y1="134.00" x2="282.40" y2="127.00" stroke="#c8102e" stroke-width="0.75" />
<line x1="300.20" y1="107.50" x2="296.30" y2="138.50" stroke="#c8102e" stroke-width="0.75" />
<line x1="306.60" y1="122.80" x2="300.20" y2="138.60" stroke="#c8102e" stroke-width="0.75" />
<line x1="308.80" y1="133.30" x2="304.80" y2="137.80" stroke="#c8102e" stroke-width="0.75" />
<text x="354.40" y="16.90" font-size="11" font-weight="bold">C</text>
<line x1="380.40" y1="24.60" x2="380.40" y2="150.00" stroke="#000" stroke-width="1.3" />
<line x1="379.80" y1="149.40" x2="511.50" y2="149.40" stroke="#000" stroke-width="1.3" />
<line x1="377.60" y1="25.00" x2="380.40" y2="25.00" stroke="#000" stroke-width="1.1" />
<text x="376.20" y="27.80" font-size="8" text-anchor="end">120</text>
<line x1="377.60" y1="45.00" x2="380.40" y2="45.00" stroke="#000" stroke-width="1.1" />
<text x="376.20" y="47.80" font-size="8" text-anchor="end">100</text>
<line x1="377.60" y1="65.00" x2="380.40" y2="65.00" stroke="#000" stroke-width="1.1" />
<text x="376.20" y="67.80" font-size="8" text-anchor="end">80</text>
<line x1="377.60" y1="85.00" x2="380.40" y2="85.00" stroke="#000" stroke-width="1.1" />
<text x="376.20" y="87.80" font-size="8" text-anchor="end">60</text>
<line x1="377.60" y1="105.00" x2="380.40" y2="105.00" stroke="#000" stroke-width="1.1" />
<text x="376.20" y="107.80" font-size="8" text-anchor="end">40</text>
<line x1="377.60" y1="125.00" x2="380.40" y2="125.00" stroke="#000" stroke-width="1.1" />
<text x="376.20" y="127.80" font-size="8" text-anchor="end">20</text>
<line x1="377.60" y1="145.00" x2="380.40" y2="145.00" stroke="#000" stroke-width="1.1" />
<text x="376.20" y="147.80" font-size="8" text-anchor="end">0</text>
<line x1="381.08" y1="149.40" x2="381.08" y2="152.20" stroke="#000" stroke-width="1.1" />
<text x="379.88" y="161.10" font-size="7.1" text-anchor="middle">−8</text>
<line x1="397.36" y1="149.40" x2="397.36" y2="152.20" stroke="#000" stroke-width="1.1" />
<text x="396.16" y="161.10" font-size="7.1" text-anchor="middle">−6</text>
<line x1="413.64" y1="149.40" x2="413.64" y2="152.20" stroke="#000" stroke-width="1.1" />
<text x="412.44" y="161.10" font-size="7.1" text-anchor="middle">−4</text>
<line x1="429.92" y1="149.40" x2="429.92" y2="152.20" stroke="#000" stroke-width="1.1" />
<text x="428.72" y="161.10" font-size="7.1" text-anchor="middle">−2</text>
<line x1="446.20" y1="149.40" x2="446.20" y2="152.20" stroke="#000" stroke-width="1.1" />
<text x="446.20" y="161.10" font-size="7.1" text-anchor="middle">0</text>
<line x1="462.48" y1="149.40" x2="462.48" y2="152.20" stroke="#000" stroke-width="1.1" />
<text x="462.48" y="161.10" font-size="7.1" text-anchor="middle">2</text>
<line x1="478.76" y1="149.40" x2="478.76" y2="152.20" stroke="#000" stroke-width="1.1" />
<text x="478.76" y="161.10" font-size="7.1" text-anchor="middle">4</text>
<line x1="495.04" y1="149.40" x2="495.04" y2="152.20" stroke="#000" stroke-width="1.1" />
<text x="495.04" y="161.10" font-size="7.1" text-anchor="middle">6</text>
<line x1="511.32" y1="149.40" x2="511.32" y2="152.20" stroke="#000" stroke-width="1.1" />
<text x="511.32" y="161.10" font-size="7.1" text-anchor="middle">8</text>
<text x="398.00" y="173.80" font-size="8.2" stroke="#000" stroke-width="0.22" textLength="31.30" lengthAdjust="spacingAndGlyphs">Log<tspan font-size="4.5" dy="1.2">2</tspan><tspan dy="-1.2">FC (sg</tspan></text>
<text x="430.40" y="173.80" font-size="8.4" font-style="italic" textLength="31.20" lengthAdjust="spacingAndGlyphs">MEF2D</text>
<text x="462.70" y="173.80" font-size="8.2" stroke="#000" stroke-width="0.22" textLength="14.70" lengthAdjust="spacingAndGlyphs">vs sg</text>
<text x="477.80" y="173.80" font-size="8.4" font-style="italic" textLength="12.20" lengthAdjust="spacingAndGlyphs">Luc</text>
<text x="490.80" y="173.80" font-size="8.2">)</text>
<text x="356.20" y="101.70" font-size="8.4" stroke="#000" stroke-width="0.22" textLength="28.70" lengthAdjust="spacingAndGlyphs" transform="rotate(-90 356.20 101.70)">-Log<tspan font-size="4.5" dy="1.2">10</tspan><tspan dy="-1.2">padj</tspan></text>
<path d="M429.5,146.3 L429.5,143.3 C433,142.6 437,142.3 439.8,141.2 C440.8,140.4 441.3,139.6 441.8,139.5 C443,140.2 444.6,142.8 446.2,144.2 C447.8,142.8 449.2,140.4 450.4,139.4 C451.2,139.6 452,140.6 453,141 C457,141.6 462,142 466.4,142.6 L466.4,146.3 Z" fill="#3fb64a"/>
<path d="M430.1,143.0 L429.4,141.5 L429.9,138.5 L431.0,135.9 L432.5,133.6 L433.9,131.8 L435.1,130.4 L436.3,130.6 L437.3,132.1 L438.2,134.4 L439.1,137.0 L439.7,140.0 L439.6,142.9 Z" fill="#1a4f87"/>
<path d="M452.7,142.9 L452.7,141.1 L453.2,138.1 L454.3,135.9 L455.5,134.0 L456.4,132.1 L457.2,130.6 L458.2,131.2 L459.3,132.9 L460.6,134.8 L462.3,136.6 L464.1,138.5 L465.3,141.1 L465.0,143.0 Z" fill="#1a4f87"/>
<circle cx="435.72" cy="142.28" r="1.25" fill="#1a4f87"/>
<circle cx="434.66" cy="135.91" r="1.25" fill="#1a4f87"/>
<circle cx="429.78" cy="139.90" r="1.25" fill="#1a4f87"/>
<circle cx="429.87" cy="141.97" r="1.25" fill="#1a4f87"/>
<circle cx="438.11" cy="134.44" r="1.25" fill="#1a4f87"/>
<circle cx="428.90" cy="141.80" r="1.25" fill="#1a4f87"/>
<circle cx="439.82" cy="138.72" r="1.25" fill="#1a4f87"/>
<circle cx="433.38" cy="137.05" r="1.25" fill="#1a4f87"/>
<circle cx="432.70" cy="131.29" r="1.25" fill="#1a4f87"/>
<circle cx="433.46" cy="135.35" r="1.25" fill="#1a4f87"/>
<circle cx="429.94" cy="142.70" r="1.25" fill="#1a4f87"/>
<circle cx="436.24" cy="142.06" r="1.25" fill="#1a4f87"/>
<circle cx="429.34" cy="136.18" r="1.25" fill="#1a4f87"/>
<circle cx="437.04" cy="136.37" r="1.25" fill="#1a4f87"/>
<circle cx="434.75" cy="140.78" r="1.25" fill="#1a4f87"/>
<circle cx="433.77" cy="135.50" r="1.25" fill="#1a4f87"/>
<circle cx="432.03" cy="133.98" r="1.25" fill="#1a4f87"/>
<circle cx="437.04" cy="130.52" r="1.25" fill="#1a4f87"/>
<circle cx="436.41" cy="137.90" r="1.25" fill="#1a4f87"/>
<circle cx="434.56" cy="130.69" r="1.25" fill="#1a4f87"/>
<circle cx="437.94" cy="140.09" r="1.25" fill="#1a4f87"/>
<circle cx="436.06" cy="138.35" r="1.25" fill="#1a4f87"/>
<circle cx="440.95" cy="138.35" r="1.25" fill="#1a4f87"/>
<circle cx="435.86" cy="132.06" r="1.25" fill="#1a4f87"/>
<circle cx="430.84" cy="142.26" r="1.25" fill="#1a4f87"/>
<circle cx="431.14" cy="142.24" r="1.25" fill="#1a4f87"/>
<circle cx="436.61" cy="129.48" r="1.25" fill="#1a4f87"/>
<circle cx="431.74" cy="131.20" r="1.25" fill="#1a4f87"/>
<circle cx="439.73" cy="133.99" r="1.25" fill="#1a4f87"/>
<circle cx="427.77" cy="140.55" r="1.25" fill="#1a4f87"/>
<circle cx="433.58" cy="129.94" r="1.25" fill="#1a4f87"/>
<circle cx="430.92" cy="140.53" r="1.25" fill="#1a4f87"/>
<circle cx="437.21" cy="136.07" r="1.25" fill="#1a4f87"/>
<circle cx="436.47" cy="140.41" r="1.25" fill="#1a4f87"/>
<circle cx="436.75" cy="137.16" r="1.25" fill="#1a4f87"/>
<circle cx="439.62" cy="136.98" r="1.25" fill="#1a4f87"/>
<circle cx="435.60" cy="130.04" r="1.25" fill="#1a4f87"/>
<circle cx="433.53" cy="130.56" r="1.25" fill="#1a4f87"/>
<circle cx="437.20" cy="141.23" r="1.25" fill="#1a4f87"/>
<circle cx="430.92" cy="132.92" r="1.25" fill="#1a4f87"/>
<circle cx="437.36" cy="128.83" r="1.25" fill="#1a4f87"/>
<circle cx="439.24" cy="134.31" r="1.25" fill="#1a4f87"/>
<circle cx="427.87" cy="140.62" r="1.25" fill="#1a4f87"/>
<circle cx="434.70" cy="137.31" r="1.25" fill="#1a4f87"/>
<circle cx="439.56" cy="141.23" r="1.25" fill="#1a4f87"/>
<circle cx="439.00" cy="141.46" r="1.25" fill="#1a4f87"/>
<circle cx="430.58" cy="138.23" r="1.25" fill="#1a4f87"/>
<circle cx="432.37" cy="140.43" r="1.25" fill="#1a4f87"/>
<circle cx="433.86" cy="129.64" r="1.25" fill="#1a4f87"/>
<circle cx="438.46" cy="132.41" r="1.25" fill="#1a4f87"/>
<circle cx="432.30" cy="138.67" r="1.25" fill="#1a4f87"/>
<circle cx="433.86" cy="142.84" r="1.25" fill="#1a4f87"/>
<circle cx="430.12" cy="134.83" r="1.25" fill="#1a4f87"/>
<circle cx="440.38" cy="138.45" r="1.25" fill="#1a4f87"/>
<circle cx="436.01" cy="136.91" r="1.25" fill="#1a4f87"/>
<circle cx="431.06" cy="132.61" r="1.25" fill="#1a4f87"/>
<circle cx="440.14" cy="136.76" r="1.25" fill="#1a4f87"/>
<circle cx="436.85" cy="135.95" r="1.25" fill="#1a4f87"/>
<circle cx="433.09" cy="142.22" r="1.25" fill="#1a4f87"/>
<circle cx="429.85" cy="141.81" r="1.25" fill="#1a4f87"/>
<circle cx="428.54" cy="139.61" r="1.25" fill="#1a4f87"/>
<circle cx="430.25" cy="136.99" r="1.25" fill="#1a4f87"/>
<circle cx="437.47" cy="139.89" r="1.25" fill="#1a4f87"/>
<circle cx="429.60" cy="137.39" r="1.25" fill="#1a4f87"/>
<circle cx="438.98" cy="139.56" r="1.25" fill="#1a4f87"/>
<circle cx="438.01" cy="137.11" r="1.25" fill="#1a4f87"/>
<circle cx="438.28" cy="134.09" r="1.25" fill="#1a4f87"/>
<circle cx="438.34" cy="130.07" r="1.25" fill="#1a4f87"/>
<circle cx="437.25" cy="137.75" r="1.25" fill="#1a4f87"/>
<circle cx="434.20" cy="139.73" r="1.25" fill="#1a4f87"/>
<circle cx="438.55" cy="132.21" r="1.25" fill="#1a4f87"/>
<circle cx="436.57" cy="131.58" r="1.25" fill="#1a4f87"/>
<circle cx="434.24" cy="136.67" r="1.25" fill="#1a4f87"/>
<circle cx="428.77" cy="141.27" r="1.25" fill="#1a4f87"/>
<circle cx="435.33" cy="131.65" r="1.25" fill="#1a4f87"/>
<circle cx="440.51" cy="135.11" r="1.25" fill="#1a4f87"/>
<circle cx="432.33" cy="135.99" r="1.25" fill="#1a4f87"/>
<circle cx="436.61" cy="129.72" r="1.25" fill="#1a4f87"/>
<circle cx="435.93" cy="135.92" r="1.25" fill="#1a4f87"/>
<circle cx="433.79" cy="139.39" r="1.25" fill="#1a4f87"/>
<circle cx="430.46" cy="132.96" r="1.25" fill="#1a4f87"/>
<circle cx="434.92" cy="136.44" r="1.25" fill="#1a4f87"/>
<circle cx="437.03" cy="142.62" r="1.25" fill="#1a4f87"/>
<circle cx="428.84" cy="141.35" r="1.25" fill="#1a4f87"/>
<circle cx="435.11" cy="136.89" r="1.25" fill="#1a4f87"/>
<circle cx="431.67" cy="134.51" r="1.25" fill="#1a4f87"/>
<circle cx="439.10" cy="137.48" r="1.25" fill="#1a4f87"/>
<circle cx="433.34" cy="140.09" r="1.25" fill="#1a4f87"/>
<circle cx="434.08" cy="135.56" r="1.25" fill="#1a4f87"/>
<circle cx="434.24" cy="141.41" r="1.25" fill="#1a4f87"/>
<circle cx="437.20" cy="130.34" r="1.25" fill="#1a4f87"/>
<circle cx="429.86" cy="136.27" r="1.25" fill="#1a4f87"/>
<circle cx="437.66" cy="128.89" r="1.25" fill="#1a4f87"/>
<circle cx="431.99" cy="137.89" r="1.25" fill="#1a4f87"/>
<circle cx="434.42" cy="131.19" r="1.25" fill="#1a4f87"/>
<circle cx="433.98" cy="133.35" r="1.25" fill="#1a4f87"/>
<circle cx="436.46" cy="126.55" r="1.25" fill="#1a4f87"/>
<circle cx="428.23" cy="138.57" r="1.25" fill="#1a4f87"/>
<circle cx="437.97" cy="128.63" r="1.25" fill="#1a4f87"/>
<circle cx="430.52" cy="133.18" r="1.25" fill="#1a4f87"/>
<circle cx="436.63" cy="131.93" r="1.25" fill="#1a4f87"/>
<circle cx="438.27" cy="135.51" r="1.25" fill="#1a4f87"/>
<circle cx="432.28" cy="130.43" r="1.25" fill="#1a4f87"/>
<circle cx="432.47" cy="134.49" r="1.25" fill="#1a4f87"/>
<circle cx="432.17" cy="142.74" r="1.25" fill="#1a4f87"/>
<circle cx="439.56" cy="131.99" r="1.25" fill="#1a4f87"/>
<circle cx="430.39" cy="134.47" r="1.25" fill="#1a4f87"/>
<circle cx="437.37" cy="128.34" r="1.25" fill="#1a4f87"/>
<circle cx="435.19" cy="133.02" r="1.25" fill="#1a4f87"/>
<circle cx="435.46" cy="132.89" r="1.25" fill="#1a4f87"/>
<circle cx="438.86" cy="134.18" r="1.25" fill="#1a4f87"/>
<circle cx="434.46" cy="135.33" r="1.25" fill="#1a4f87"/>
<circle cx="436.83" cy="137.78" r="1.25" fill="#1a4f87"/>
<circle cx="436.17" cy="129.12" r="1.25" fill="#1a4f87"/>
<circle cx="436.69" cy="140.80" r="1.25" fill="#1a4f87"/>
<circle cx="431.84" cy="138.13" r="1.25" fill="#1a4f87"/>
<circle cx="435.36" cy="135.92" r="1.25" fill="#1a4f87"/>
<circle cx="440.12" cy="134.56" r="1.25" fill="#1a4f87"/>
<circle cx="434.75" cy="140.06" r="1.25" fill="#1a4f87"/>
<circle cx="438.20" cy="133.27" r="1.25" fill="#1a4f87"/>
<circle cx="437.13" cy="133.00" r="1.25" fill="#1a4f87"/>
<circle cx="428.52" cy="137.62" r="1.25" fill="#1a4f87"/>
<circle cx="435.74" cy="142.88" r="1.25" fill="#1a4f87"/>
<circle cx="436.63" cy="128.81" r="1.25" fill="#1a4f87"/>
<circle cx="438.15" cy="135.42" r="1.25" fill="#1a4f87"/>
<circle cx="439.87" cy="136.73" r="1.25" fill="#1a4f87"/>
<circle cx="436.77" cy="142.78" r="1.25" fill="#1a4f87"/>
<circle cx="431.37" cy="135.76" r="1.25" fill="#1a4f87"/>
<circle cx="433.78" cy="138.70" r="1.25" fill="#1a4f87"/>
<circle cx="437.84" cy="137.87" r="1.25" fill="#1a4f87"/>
<circle cx="429.58" cy="138.96" r="1.25" fill="#1a4f87"/>
<circle cx="431.62" cy="135.57" r="1.25" fill="#1a4f87"/>
<circle cx="434.42" cy="137.45" r="1.25" fill="#1a4f87"/>
<circle cx="439.79" cy="141.55" r="1.25" fill="#1a4f87"/>
<circle cx="428.43" cy="141.04" r="1.25" fill="#1a4f87"/>
<circle cx="437.01" cy="136.59" r="1.25" fill="#1a4f87"/>
<circle cx="432.93" cy="131.45" r="1.25" fill="#1a4f87"/>
<circle cx="435.82" cy="142.29" r="1.25" fill="#1a4f87"/>
<circle cx="439.04" cy="136.43" r="1.25" fill="#1a4f87"/>
<circle cx="431.93" cy="142.14" r="1.25" fill="#1a4f87"/>
<circle cx="437.57" cy="134.09" r="1.25" fill="#1a4f87"/>
<circle cx="429.88" cy="142.43" r="1.25" fill="#1a4f87"/>
<circle cx="429.20" cy="142.23" r="1.25" fill="#1a4f87"/>
<circle cx="429.85" cy="139.67" r="1.25" fill="#1a4f87"/>
<circle cx="434.13" cy="139.27" r="1.25" fill="#1a4f87"/>
<circle cx="433.80" cy="130.77" r="1.25" fill="#1a4f87"/>
<circle cx="437.94" cy="131.81" r="1.25" fill="#1a4f87"/>
<circle cx="431.43" cy="136.65" r="1.25" fill="#1a4f87"/>
<circle cx="436.52" cy="139.67" r="1.25" fill="#1a4f87"/>
<circle cx="435.82" cy="140.81" r="1.25" fill="#1a4f87"/>
<circle cx="453.34" cy="140.24" r="1.25" fill="#1a4f87"/>
<circle cx="460.62" cy="142.61" r="1.25" fill="#1a4f87"/>
<circle cx="454.93" cy="132.89" r="1.25" fill="#1a4f87"/>
<circle cx="457.12" cy="139.23" r="1.25" fill="#1a4f87"/>
<circle cx="454.74" cy="133.95" r="1.25" fill="#1a4f87"/>
<circle cx="466.27" cy="139.09" r="1.25" fill="#1a4f87"/>
<circle cx="453.16" cy="141.20" r="1.25" fill="#1a4f87"/>
<circle cx="467.19" cy="139.65" r="1.25" fill="#1a4f87"/>
<circle cx="460.00" cy="139.32" r="1.25" fill="#1a4f87"/>
<circle cx="459.20" cy="135.32" r="1.25" fill="#1a4f87"/>
<circle cx="459.87" cy="134.50" r="1.25" fill="#1a4f87"/>
<circle cx="457.21" cy="139.50" r="1.25" fill="#1a4f87"/>
<circle cx="462.93" cy="142.71" r="1.25" fill="#1a4f87"/>
<circle cx="457.44" cy="138.19" r="1.25" fill="#1a4f87"/>
<circle cx="459.88" cy="135.35" r="1.25" fill="#1a4f87"/>
<circle cx="456.77" cy="127.53" r="1.25" fill="#1a4f87"/>
<circle cx="457.49" cy="135.10" r="1.25" fill="#1a4f87"/>
<circle cx="455.16" cy="140.25" r="1.25" fill="#1a4f87"/>
<circle cx="456.19" cy="134.85" r="1.25" fill="#1a4f87"/>
<circle cx="452.35" cy="139.80" r="1.25" fill="#1a4f87"/>
<circle cx="455.67" cy="136.03" r="1.25" fill="#1a4f87"/>
<circle cx="456.83" cy="139.36" r="1.25" fill="#1a4f87"/>
<circle cx="458.59" cy="127.85" r="1.25" fill="#1a4f87"/>
<circle cx="455.51" cy="136.52" r="1.25" fill="#1a4f87"/>
<circle cx="460.76" cy="136.54" r="1.25" fill="#1a4f87"/>
<circle cx="453.00" cy="140.42" r="1.25" fill="#1a4f87"/>
<circle cx="457.15" cy="126.95" r="1.25" fill="#1a4f87"/>
<circle cx="462.65" cy="134.53" r="1.25" fill="#1a4f87"/>
<circle cx="465.01" cy="141.26" r="1.25" fill="#1a4f87"/>
<circle cx="465.30" cy="137.06" r="1.25" fill="#1a4f87"/>
<circle cx="466.29" cy="138.16" r="1.25" fill="#1a4f87"/>
<circle cx="453.87" cy="140.52" r="1.25" fill="#1a4f87"/>
<circle cx="457.03" cy="130.38" r="1.25" fill="#1a4f87"/>
<circle cx="466.62" cy="142.03" r="1.25" fill="#1a4f87"/>
<circle cx="451.27" cy="141.67" r="1.25" fill="#1a4f87"/>
<circle cx="455.13" cy="134.97" r="1.25" fill="#1a4f87"/>
<circle cx="463.22" cy="139.07" r="1.25" fill="#1a4f87"/>
<circle cx="454.14" cy="138.85" r="1.25" fill="#1a4f87"/>
<circle cx="460.71" cy="133.78" r="1.25" fill="#1a4f87"/>
<circle cx="461.76" cy="134.27" r="1.25" fill="#1a4f87"/>
<circle cx="457.04" cy="132.94" r="1.25" fill="#1a4f87"/>
<circle cx="457.10" cy="132.76" r="1.25" fill="#1a4f87"/>
<circle cx="458.22" cy="139.82" r="1.25" fill="#1a4f87"/>
<circle cx="466.16" cy="141.22" r="1.25" fill="#1a4f87"/>
<circle cx="458.66" cy="141.56" r="1.25" fill="#1a4f87"/>
<circle cx="461.19" cy="132.66" r="1.25" fill="#1a4f87"/>
<circle cx="463.38" cy="139.34" r="1.25" fill="#1a4f87"/>
<circle cx="466.89" cy="141.78" r="1.25" fill="#1a4f87"/>
<circle cx="457.27" cy="126.86" r="1.25" fill="#1a4f87"/>
<circle cx="452.06" cy="142.54" r="1.25" fill="#1a4f87"/>
<circle cx="456.22" cy="130.36" r="1.25" fill="#1a4f87"/>
<circle cx="456.38" cy="138.65" r="1.25" fill="#1a4f87"/>
<circle cx="453.83" cy="133.95" r="1.25" fill="#1a4f87"/>
<circle cx="453.31" cy="133.40" r="1.25" fill="#1a4f87"/>
<circle cx="460.39" cy="131.39" r="1.25" fill="#1a4f87"/>
<circle cx="458.90" cy="129.03" r="1.25" fill="#1a4f87"/>
<circle cx="459.43" cy="136.91" r="1.25" fill="#1a4f87"/>
<circle cx="464.03" cy="141.77" r="1.25" fill="#1a4f87"/>
<circle cx="460.21" cy="140.28" r="1.25" fill="#1a4f87"/>
<circle cx="452.80" cy="138.96" r="1.25" fill="#1a4f87"/>
<circle cx="455.19" cy="130.44" r="1.25" fill="#1a4f87"/>
<circle cx="454.80" cy="132.94" r="1.25" fill="#1a4f87"/>
<circle cx="457.78" cy="129.18" r="1.25" fill="#1a4f87"/>
<circle cx="464.78" cy="142.65" r="1.25" fill="#1a4f87"/>
<circle cx="453.23" cy="137.06" r="1.25" fill="#1a4f87"/>
<circle cx="458.23" cy="134.88" r="1.25" fill="#1a4f87"/>
<circle cx="459.38" cy="133.81" r="1.25" fill="#1a4f87"/>
<circle cx="464.06" cy="142.07" r="1.25" fill="#1a4f87"/>
<circle cx="455.61" cy="132.44" r="1.25" fill="#1a4f87"/>
<circle cx="455.45" cy="129.48" r="1.25" fill="#1a4f87"/>
<circle cx="460.89" cy="140.18" r="1.25" fill="#1a4f87"/>
<circle cx="465.74" cy="138.56" r="1.25" fill="#1a4f87"/>
<circle cx="453.10" cy="137.55" r="1.25" fill="#1a4f87"/>
<circle cx="462.43" cy="135.07" r="1.25" fill="#1a4f87"/>
<circle cx="464.93" cy="141.62" r="1.25" fill="#1a4f87"/>
<circle cx="459.51" cy="132.24" r="1.25" fill="#1a4f87"/>
<circle cx="455.53" cy="137.05" r="1.25" fill="#1a4f87"/>
<circle cx="457.68" cy="139.09" r="1.25" fill="#1a4f87"/>
<circle cx="453.04" cy="137.48" r="1.25" fill="#1a4f87"/>
<circle cx="454.97" cy="135.79" r="1.25" fill="#1a4f87"/>
<circle cx="462.60" cy="135.99" r="1.25" fill="#1a4f87"/>
<circle cx="466.46" cy="142.48" r="1.25" fill="#1a4f87"/>
<circle cx="454.91" cy="140.20" r="1.25" fill="#1a4f87"/>
<circle cx="466.13" cy="139.36" r="1.25" fill="#1a4f87"/>
<circle cx="452.61" cy="138.56" r="1.25" fill="#1a4f87"/>
<circle cx="456.04" cy="135.66" r="1.25" fill="#1a4f87"/>
<circle cx="466.36" cy="138.69" r="1.25" fill="#1a4f87"/>
<circle cx="455.19" cy="140.32" r="1.25" fill="#1a4f87"/>
<circle cx="461.50" cy="134.16" r="1.25" fill="#1a4f87"/>
<circle cx="454.80" cy="133.83" r="1.25" fill="#1a4f87"/>
<circle cx="456.69" cy="128.05" r="1.25" fill="#1a4f87"/>
<circle cx="458.61" cy="136.17" r="1.25" fill="#1a4f87"/>
<circle cx="452.84" cy="141.09" r="1.25" fill="#1a4f87"/>
<circle cx="459.90" cy="130.25" r="1.25" fill="#1a4f87"/>
<circle cx="454.61" cy="137.53" r="1.25" fill="#1a4f87"/>
<circle cx="458.56" cy="133.04" r="1.25" fill="#1a4f87"/>
<circle cx="461.47" cy="137.95" r="1.25" fill="#1a4f87"/>
<circle cx="460.83" cy="136.45" r="1.25" fill="#1a4f87"/>
<circle cx="451.41" cy="142.51" r="1.25" fill="#1a4f87"/>
<circle cx="457.53" cy="140.34" r="1.25" fill="#1a4f87"/>
<circle cx="462.82" cy="140.41" r="1.25" fill="#1a4f87"/>
<circle cx="460.28" cy="142.77" r="1.25" fill="#1a4f87"/>
<circle cx="456.19" cy="133.11" r="1.25" fill="#1a4f87"/>
<circle cx="460.23" cy="131.86" r="1.25" fill="#1a4f87"/>
<circle cx="453.26" cy="137.72" r="1.25" fill="#1a4f87"/>
<circle cx="456.74" cy="140.86" r="1.25" fill="#1a4f87"/>
<circle cx="456.25" cy="129.81" r="1.25" fill="#1a4f87"/>
<circle cx="457.87" cy="133.05" r="1.25" fill="#1a4f87"/>
<circle cx="451.59" cy="142.67" r="1.25" fill="#1a4f87"/>
<circle cx="465.34" cy="136.75" r="1.25" fill="#1a4f87"/>
<circle cx="461.35" cy="139.80" r="1.25" fill="#1a4f87"/>
<circle cx="466.91" cy="141.70" r="1.25" fill="#1a4f87"/>
<circle cx="460.72" cy="141.88" r="1.25" fill="#1a4f87"/>
<circle cx="458.19" cy="134.94" r="1.25" fill="#1a4f87"/>
<circle cx="465.67" cy="141.61" r="1.25" fill="#1a4f87"/>
<circle cx="460.50" cy="131.02" r="1.25" fill="#1a4f87"/>
<circle cx="463.16" cy="138.72" r="1.25" fill="#1a4f87"/>
<circle cx="455.62" cy="133.99" r="1.25" fill="#1a4f87"/>
<circle cx="457.30" cy="135.55" r="1.25" fill="#1a4f87"/>
<circle cx="456.96" cy="141.21" r="1.25" fill="#1a4f87"/>
<circle cx="455.90" cy="134.38" r="1.25" fill="#1a4f87"/>
<circle cx="456.41" cy="129.62" r="1.25" fill="#1a4f87"/>
<circle cx="459.97" cy="142.50" r="1.25" fill="#1a4f87"/>
<circle cx="457.46" cy="141.75" r="1.25" fill="#1a4f87"/>
<circle cx="453.53" cy="142.21" r="1.25" fill="#1a4f87"/>
<circle cx="456.24" cy="131.87" r="1.25" fill="#1a4f87"/>
<circle cx="455.33" cy="140.99" r="1.25" fill="#1a4f87"/>
<circle cx="460.98" cy="132.24" r="1.25" fill="#1a4f87"/>
<circle cx="461.85" cy="135.03" r="1.25" fill="#1a4f87"/>
<circle cx="463.62" cy="135.10" r="1.25" fill="#1a4f87"/>
<circle cx="454.20" cy="136.58" r="1.25" fill="#1a4f87"/>
<circle cx="455.45" cy="140.34" r="1.25" fill="#1a4f87"/>
<circle cx="452.40" cy="140.63" r="1.25" fill="#1a4f87"/>
<circle cx="466.29" cy="142.93" r="1.25" fill="#1a4f87"/>
<circle cx="455.31" cy="136.91" r="1.25" fill="#1a4f87"/>
<circle cx="461.42" cy="138.11" r="1.25" fill="#1a4f87"/>
<circle cx="457.74" cy="128.21" r="1.25" fill="#1a4f87"/>
<circle cx="457.70" cy="135.57" r="1.25" fill="#1a4f87"/>
<circle cx="465.11" cy="137.93" r="1.25" fill="#1a4f87"/>
<circle cx="455.64" cy="132.32" r="1.25" fill="#1a4f87"/>
<circle cx="456.73" cy="135.18" r="1.25" fill="#1a4f87"/>
<circle cx="460.80" cy="137.20" r="1.25" fill="#1a4f87"/>
<circle cx="455.84" cy="135.36" r="1.25" fill="#1a4f87"/>
<circle cx="457.13" cy="130.33" r="1.25" fill="#1a4f87"/>
<circle cx="454.88" cy="131.88" r="1.25" fill="#1a4f87"/>
<circle cx="467.13" cy="141.21" r="1.25" fill="#1a4f87"/>
<circle cx="455.11" cy="141.28" r="1.25" fill="#1a4f87"/>
<circle cx="455.84" cy="135.35" r="1.25" fill="#1a4f87"/>
<circle cx="456.05" cy="136.73" r="1.25" fill="#1a4f87"/>
<circle cx="458.14" cy="140.12" r="1.25" fill="#1a4f87"/>
<circle cx="428.68" cy="142.94" r="1.2" fill="#1a4f87"/>
<circle cx="428.02" cy="141.63" r="1.2" fill="#1a4f87"/>
<circle cx="427.74" cy="140.96" r="1.2" fill="#1a4f87"/>
<circle cx="427.56" cy="138.65" r="1.2" fill="#1a4f87"/>
<circle cx="428.08" cy="136.93" r="1.2" fill="#1a4f87"/>
<circle cx="429.05" cy="135.37" r="1.2" fill="#1a4f87"/>
<circle cx="430.14" cy="133.22" r="1.2" fill="#1a4f87"/>
<circle cx="430.55" cy="131.94" r="1.2" fill="#1a4f87"/>
<circle cx="431.72" cy="130.71" r="1.2" fill="#1a4f87"/>
<circle cx="433.02" cy="129.32" r="1.2" fill="#1a4f87"/>
<circle cx="433.75" cy="128.20" r="1.2" fill="#1a4f87"/>
<circle cx="434.07" cy="126.99" r="1.2" fill="#1a4f87"/>
<circle cx="435.09" cy="125.86" r="1.2" fill="#1a4f87"/>
<circle cx="435.85" cy="126.09" r="1.2" fill="#1a4f87"/>
<circle cx="436.92" cy="126.34" r="1.2" fill="#1a4f87"/>
<circle cx="437.37" cy="127.85" r="1.2" fill="#1a4f87"/>
<circle cx="438.21" cy="128.88" r="1.2" fill="#1a4f87"/>
<circle cx="438.90" cy="130.02" r="1.2" fill="#1a4f87"/>
<circle cx="439.65" cy="131.27" r="1.2" fill="#1a4f87"/>
<circle cx="440.31" cy="133.18" r="1.2" fill="#1a4f87"/>
<circle cx="440.25" cy="135.05" r="1.2" fill="#1a4f87"/>
<circle cx="440.64" cy="137.06" r="1.2" fill="#1a4f87"/>
<circle cx="441.41" cy="139.18" r="1.2" fill="#1a4f87"/>
<circle cx="441.40" cy="140.51" r="1.2" fill="#1a4f87"/>
<circle cx="450.40" cy="142.97" r="1.2" fill="#1a4f87"/>
<circle cx="450.84" cy="141.98" r="1.2" fill="#1a4f87"/>
<circle cx="450.72" cy="140.18" r="1.2" fill="#1a4f87"/>
<circle cx="450.76" cy="138.12" r="1.2" fill="#1a4f87"/>
<circle cx="451.24" cy="136.72" r="1.2" fill="#1a4f87"/>
<circle cx="452.30" cy="135.30" r="1.2" fill="#1a4f87"/>
<circle cx="453.32" cy="133.51" r="1.2" fill="#1a4f87"/>
<circle cx="453.51" cy="132.01" r="1.2" fill="#1a4f87"/>
<circle cx="454.68" cy="130.72" r="1.2" fill="#1a4f87"/>
<circle cx="455.21" cy="129.76" r="1.2" fill="#1a4f87"/>
<circle cx="455.42" cy="128.16" r="1.2" fill="#1a4f87"/>
<circle cx="456.66" cy="127.49" r="1.2" fill="#1a4f87"/>
<circle cx="456.77" cy="126.44" r="1.2" fill="#1a4f87"/>
<circle cx="457.74" cy="126.97" r="1.2" fill="#1a4f87"/>
<circle cx="458.35" cy="127.26" r="1.2" fill="#1a4f87"/>
<circle cx="458.62" cy="128.14" r="1.2" fill="#1a4f87"/>
<circle cx="459.42" cy="129.13" r="1.2" fill="#1a4f87"/>
<circle cx="460.60" cy="131.04" r="1.2" fill="#1a4f87"/>
<circle cx="461.76" cy="131.65" r="1.2" fill="#1a4f87"/>
<circle cx="462.25" cy="133.35" r="1.2" fill="#1a4f87"/>
<circle cx="463.22" cy="134.28" r="1.2" fill="#1a4f87"/>
<circle cx="464.72" cy="135.96" r="1.2" fill="#1a4f87"/>
<circle cx="465.64" cy="136.64" r="1.2" fill="#1a4f87"/>
<circle cx="466.59" cy="138.53" r="1.2" fill="#1a4f87"/>
<circle cx="467.33" cy="140.57" r="1.2" fill="#1a4f87"/>
<circle cx="467.14" cy="141.35" r="1.2" fill="#1a4f87"/>
<circle cx="420.80" cy="110.90" r="1.3" fill="#1a4f87"/>
<circle cx="417.30" cy="116.90" r="1.3" fill="#1a4f87"/>
<circle cx="429.80" cy="117.70" r="1.3" fill="#1a4f87"/>
<circle cx="431.50" cy="120.80" r="1.3" fill="#1a4f87"/>
<circle cx="431.90" cy="122.70" r="1.3" fill="#1a4f87"/>
<circle cx="422.50" cy="121.00" r="1.3" fill="#1a4f87"/>
<circle cx="419.60" cy="122.70" r="1.3" fill="#1a4f87"/>
<circle cx="416.90" cy="125.40" r="1.3" fill="#1a4f87"/>
<circle cx="428.50" cy="125.00" r="1.3" fill="#1a4f87"/>
<circle cx="428.10" cy="126.60" r="1.3" fill="#1a4f87"/>
<circle cx="423.50" cy="128.70" r="1.3" fill="#1a4f87"/>
<circle cx="429.20" cy="129.80" r="1.3" fill="#1a4f87"/>
<circle cx="414.80" cy="130.80" r="1.3" fill="#1a4f87"/>
<circle cx="417.70" cy="132.30" r="1.3" fill="#1a4f87"/>
<circle cx="416.20" cy="133.80" r="1.3" fill="#1a4f87"/>
<circle cx="414.20" cy="137.30" r="1.3" fill="#1a4f87"/>
<circle cx="419.20" cy="136.50" r="1.3" fill="#1a4f87"/>
<circle cx="422.30" cy="134.60" r="1.3" fill="#1a4f87"/>
<circle cx="420.80" cy="141.50" r="1.3" fill="#1a4f87"/>
<circle cx="424.60" cy="139.60" r="1.3" fill="#1a4f87"/>
<circle cx="424.20" cy="142.30" r="1.3" fill="#1a4f87"/>
<circle cx="426.20" cy="132.30" r="1.3" fill="#1a4f87"/>
<circle cx="425.80" cy="136.20" r="1.3" fill="#1a4f87"/>
<circle cx="427.30" cy="138.50" r="1.3" fill="#1a4f87"/>
<circle cx="418.30" cy="138.50" r="1.3" fill="#1a4f87"/>
<circle cx="421.50" cy="138.80" r="1.3" fill="#1a4f87"/>
<circle cx="426.50" cy="143.50" r="1.3" fill="#1a4f87"/>
<circle cx="423.00" cy="131.50" r="1.3" fill="#1a4f87"/>
<circle cx="421.20" cy="95.00" r="1.3" fill="#1a4f87"/>
<circle cx="413.50" cy="137.80" r="1.3" fill="#1a4f87"/>
<circle cx="416.50" cy="140.50" r="1.3" fill="#1a4f87"/>
<circle cx="457.20" cy="119.00" r="1.3" fill="#1a4f87"/>
<circle cx="472.90" cy="117.50" r="1.3" fill="#1a4f87"/>
<circle cx="455.80" cy="124.00" r="1.3" fill="#1a4f87"/>
<circle cx="459.60" cy="122.80" r="1.3" fill="#1a4f87"/>
<circle cx="457.40" cy="121.50" r="1.3" fill="#1a4f87"/>
<circle cx="463.00" cy="123.50" r="1.3" fill="#1a4f87"/>
<circle cx="465.00" cy="124.50" r="1.3" fill="#1a4f87"/>
<circle cx="472.50" cy="129.50" r="1.3" fill="#1a4f87"/>
<circle cx="470.00" cy="133.00" r="1.3" fill="#1a4f87"/>
<circle cx="470.50" cy="135.00" r="1.3" fill="#1a4f87"/>
<circle cx="474.50" cy="136.50" r="1.3" fill="#1a4f87"/>
<circle cx="476.00" cy="137.50" r="1.3" fill="#1a4f87"/>
<circle cx="481.60" cy="133.50" r="1.3" fill="#1a4f87"/>
<circle cx="479.00" cy="140.00" r="1.3" fill="#1a4f87"/>
<circle cx="480.50" cy="143.50" r="1.3" fill="#1a4f87"/>
<circle cx="458.00" cy="126.00" r="1.3" fill="#1a4f87"/>
<circle cx="461.00" cy="128.80" r="1.3" fill="#1a4f87"/>
<circle cx="463.50" cy="130.50" r="1.3" fill="#1a4f87"/>
<circle cx="465.50" cy="132.50" r="1.3" fill="#1a4f87"/>
<circle cx="468.00" cy="135.50" r="1.3" fill="#1a4f87"/>
<circle cx="469.80" cy="139.00" r="1.3" fill="#1a4f87"/>
<circle cx="466.80" cy="131.20" r="1.3" fill="#1a4f87"/>
<circle cx="455.50" cy="128.50" r="1.3" fill="#1a4f87"/>
<circle cx="471.80" cy="141.00" r="1.3" fill="#1a4f87"/>
<circle cx="475.00" cy="140.50" r="1.3" fill="#1a4f87"/>
<circle cx="460.80" cy="125.20" r="1.3" fill="#1a4f87"/>
<circle cx="462.60" cy="127.00" r="1.3" fill="#1a4f87"/>
<circle cx="456.80" cy="124.50" r="1.3" fill="#1a4f87"/>
<circle cx="459.00" cy="119.80" r="1.3" fill="#1a4f87"/>
<circle cx="465.10" cy="81.10" r="1.3" fill="#1a4f87"/>
<circle cx="466.80" cy="87.10" r="1.3" fill="#1a4f87"/>
<circle cx="469.00" cy="97.10" r="1.3" fill="#1a4f87"/>
<circle cx="462.50" cy="101.20" r="1.3" fill="#1a4f87"/>
<circle cx="460.80" cy="102.70" r="1.3" fill="#1a4f87"/>
<circle cx="459.40" cy="103.60" r="1.3" fill="#1a4f87"/>
<circle cx="459.40" cy="106.70" r="1.3" fill="#1a4f87"/>
<circle cx="470.20" cy="105.60" r="1.3" fill="#1a4f87"/>
<circle cx="468.30" cy="107.50" r="1.3" fill="#1a4f87"/>
<circle cx="469.00" cy="97.00" r="1.3" fill="#1a4f87"/>
<circle cx="463.00" cy="101.50" r="1.3" fill="#1a4f87"/>
<circle cx="503.10" cy="141.00" r="1.3" fill="#1a4f87"/>
<circle cx="465.50" cy="143.80" r="1.15" fill="#3fb64a"/>
<circle cx="472.20" cy="144.00" r="1.15" fill="#3fb64a"/>
<circle cx="481.70" cy="27.60" r="1.3" fill="#5c2670"/>
<circle cx="471.20" cy="30.00" r="1.3" fill="#5c2670"/>
<circle cx="460.30" cy="96.90" r="1.3" fill="#5c2670"/>
<circle cx="467.10" cy="100.10" r="1.3" fill="#5c2670"/>
<circle cx="465.00" cy="128.00" r="1.3" fill="#5c2670"/>
<circle cx="460.50" cy="141.00" r="1.3" fill="#5c2670"/>
<circle cx="465.50" cy="140.50" r="1.3" fill="#5c2670"/>
<circle cx="421.70" cy="123.50" r="1.25" fill="#d7152f"/>
<text x="485.00" y="26.30" font-size="8.2" fill="#5c2670" font-style="italic" textLength="12.60" lengthAdjust="spacingAndGlyphs">BPI</text>
<text x="472.70" y="37.60" font-size="8.2" fill="#5c2670" font-style="italic" textLength="25.70" lengthAdjust="spacingAndGlyphs">MS4A3</text>
<text x="447.20" y="93.40" font-size="8.2" fill="#5c2670" font-style="italic" textLength="17.90" lengthAdjust="spacingAndGlyphs">MPO</text>
<text x="470.90" y="103.60" font-size="8.2" fill="#5c2670" font-style="italic" textLength="26.50" lengthAdjust="spacingAndGlyphs">CEBPE</text>
<text x="468.00" y="126.60" font-size="8.2" fill="#5c2670" font-style="italic" textLength="28.50" lengthAdjust="spacingAndGlyphs">S100A9</text>
<text x="484.30" y="138.10" font-size="8.2" fill="#5c2670" font-style="italic" textLength="27.70" lengthAdjust="spacingAndGlyphs">S100A8</text>
<text x="386.00" y="119.00" font-size="8.2" fill="#d7152f" font-style="italic" textLength="28.00" lengthAdjust="spacingAndGlyphs">HDAC9</text>
<line x1="412.00" y1="120.50" x2="420.30" y2="123.30" stroke="#d7152f" stroke-width="0.7" />
<line x1="483.00" y1="136.30" x2="462.50" y2="141.50" stroke="#5c2670" stroke-width="0.7" />
<text x="8.00" y="198.20" font-size="11" font-weight="bold">D</text>
<text x="41.00" y="210.70" font-size="7.8" textLength="21.60" lengthAdjust="spacingAndGlyphs">sg<tspan font-style="italic">Luc</tspan></text>
<text x="84.70" y="210.80" font-size="7.8" textLength="51.20" lengthAdjust="spacingAndGlyphs">sg<tspan font-style="italic">MEF2D</tspan> e2.1</text>
<line x1="32.30" y1="215.60" x2="70.80" y2="215.60" stroke="#222" stroke-width="1.2" />
<line x1="91.40" y1="215.60" x2="136.00" y2="215.60" stroke="#222" stroke-width="1.2" />
<text x="33.40" y="224.70" font-size="7.5" textLength="9.00" lengthAdjust="spacingAndGlyphs">#1</text>
<text x="58.50" y="224.70" font-size="7.5" textLength="9.00" lengthAdjust="spacingAndGlyphs">#2</text>
<text x="92.50" y="224.70" font-size="7.5" textLength="9.00" lengthAdjust="spacingAndGlyphs">#1</text>
<text x="120.80" y="224.70" font-size="7.5" textLength="9.00" lengthAdjust="spacingAndGlyphs">#2</text>
<rect x="24.90" y="260.60" width="26.80" height="69.20" fill="#e9f0f9" />
<rect x="24.90" y="329.80" width="26.80" height="78.00" fill="#f0f5fc" />
<rect x="45.67" y="327.73" width="1.84" height="0.80" fill="#dbe6f4" />
<rect x="31.64" y="390.37" width="2.96" height="0.80" fill="#dbe6f4" />
<rect x="27.44" y="359.94" width="2.35" height="0.80" fill="#dbe6f4" />
<rect x="39.23" y="321.64" width="1.80" height="0.80" fill="#dbe6f4" />
<rect x="42.13" y="264.86" width="2.74" height="0.80" fill="#dbe6f4" />
<rect x="27.89" y="286.27" width="1.76" height="0.80" fill="#dbe6f4" />
<rect x="26.07" y="389.71" width="1.79" height="0.80" fill="#dbe6f4" />
<rect x="34.17" y="310.24" width="2.74" height="0.80" fill="#dbe6f4" />
<rect x="33.56" y="356.17" width="2.92" height="0.80" fill="#dbe6f4" />
<rect x="35.53" y="394.17" width="2.11" height="0.80" fill="#dbe6f4" />
<rect x="34.73" y="329.41" width="1.69" height="0.80" fill="#dbe6f4" />
<rect x="35.83" y="302.13" width="1.05" height="0.80" fill="#dbe6f4" />
<rect x="44.25" y="296.71" width="1.26" height="0.80" fill="#dbe6f4" />
<rect x="30.38" y="340.71" width="2.57" height="0.80" fill="#dbe6f4" />
<rect x="38.55" y="329.42" width="2.59" height="0.80" fill="#dbe6f4" />
<rect x="31.38" y="315.02" width="1.43" height="0.80" fill="#dbe6f4" />
<rect x="35.14" y="352.98" width="2.16" height="0.80" fill="#dbe6f4" />
<rect x="32.68" y="330.71" width="1.41" height="0.80" fill="#dbe6f4" />
<rect x="45.47" y="359.65" width="2.88" height="0.80" fill="#dbe6f4" />
<rect x="48.65" y="348.13" width="1.88" height="0.80" fill="#dbe6f4" />
<rect x="48.47" y="339.23" width="1.81" height="0.80" fill="#dbe6f4" />
<rect x="37.53" y="279.83" width="2.50" height="0.80" fill="#dbe6f4" />
<rect x="41.36" y="274.88" width="2.70" height="0.80" fill="#dbe6f4" />
<rect x="42.68" y="372.65" width="1.06" height="0.80" fill="#dbe6f4" />
<rect x="42.28" y="282.66" width="1.03" height="0.80" fill="#dbe6f4" />
<rect x="42.10" y="362.47" width="2.55" height="0.80" fill="#dbe6f4" />
<rect x="31.18" y="288.94" width="2.78" height="0.80" fill="#dbe6f4" />
<rect x="27.45" y="394.29" width="2.61" height="0.80" fill="#dbe6f4" />
<rect x="43.19" y="289.60" width="2.44" height="0.80" fill="#dbe6f4" />
<rect x="27.91" y="303.50" width="2.63" height="0.80" fill="#dbe6f4" />
<rect x="35.00" y="313.28" width="2.69" height="0.80" fill="#dbe6f4" />
<rect x="36.49" y="352.79" width="2.26" height="0.80" fill="#dbe6f4" />
<rect x="45.58" y="397.61" width="1.35" height="0.80" fill="#dbe6f4" />
<rect x="34.26" y="377.67" width="2.38" height="0.80" fill="#dbe6f4" />
<rect x="46.35" y="265.27" width="2.41" height="0.80" fill="#dbe6f4" />
<rect x="36.45" y="406.79" width="1.80" height="0.80" fill="#dbe6f4" />
<rect x="46.56" y="275.79" width="1.58" height="0.80" fill="#dbe6f4" />
<rect x="32.08" y="350.01" width="1.44" height="0.80" fill="#dbe6f4" />
<rect x="41.35" y="320.36" width="2.22" height="0.80" fill="#dbe6f4" />
<rect x="35.72" y="371.51" width="1.31" height="0.80" fill="#dbe6f4" />
<rect x="42.73" y="341.80" width="2.26" height="0.80" fill="#dbe6f4" />
<rect x="47.37" y="343.57" width="1.46" height="0.80" fill="#dbe6f4" />
<rect x="37.25" y="337.22" width="2.85" height="0.80" fill="#dbe6f4" />
<rect x="41.18" y="345.13" width="2.87" height="0.80" fill="#dbe6f4" />
<rect x="28.45" y="372.49" width="2.31" height="0.80" fill="#dbe6f4" />
<rect x="46.44" y="388.67" width="2.17" height="0.80" fill="#dbe6f4" />
<rect x="41.77" y="403.04" width="2.36" height="0.80" fill="#dbe6f4" />
<rect x="26.75" y="307.85" width="2.55" height="0.80" fill="#dbe6f4" />
<rect x="33.78" y="394.26" width="1.83" height="0.80" fill="#dbe6f4" />
<rect x="42.86" y="406.53" width="2.23" height="0.80" fill="#dbe6f4" />
<rect x="30.93" y="338.17" width="1.70" height="0.80" fill="#dbe6f4" />
<rect x="47.55" y="325.86" width="1.68" height="0.80" fill="#dbe6f4" />
<rect x="37.37" y="361.56" width="2.68" height="0.80" fill="#dbe6f4" />
<rect x="40.17" y="335.46" width="2.35" height="0.80" fill="#dbe6f4" />
<rect x="30.60" y="359.34" width="2.69" height="0.80" fill="#dbe6f4" />
<rect x="43.64" y="332.68" width="1.38" height="0.80" fill="#dbe6f4" />
<rect x="47.61" y="381.42" width="2.12" height="0.80" fill="#dbe6f4" />
<rect x="29.88" y="285.37" width="2.56" height="0.80" fill="#dbe6f4" />
<rect x="31.28" y="299.39" width="2.93" height="0.80" fill="#dbe6f4" />
<rect x="29.73" y="312.02" width="1.19" height="0.80" fill="#dbe6f4" />
<rect x="40.41" y="281.52" width="2.37" height="0.80" fill="#dbe6f4" />
<rect x="36.99" y="331.70" width="2.41" height="0.80" fill="#dbe6f4" />
<rect x="26.03" y="362.01" width="1.27" height="0.80" fill="#dbe6f4" />
<rect x="40.51" y="362.96" width="1.27" height="0.80" fill="#dbe6f4" />
<rect x="42.04" y="346.91" width="1.48" height="0.80" fill="#dbe6f4" />
<rect x="40.25" y="278.73" width="1.85" height="0.80" fill="#dbe6f4" />
<rect x="47.36" y="359.90" width="1.31" height="0.80" fill="#dbe6f4" />
<rect x="48.23" y="383.49" width="1.81" height="0.80" fill="#dbe6f4" />
<rect x="30.60" y="361.81" width="1.02" height="0.80" fill="#dbe6f4" />
<rect x="36.99" y="267.90" width="2.79" height="0.80" fill="#dbe6f4" />
<rect x="32.83" y="277.66" width="1.62" height="0.80" fill="#dbe6f4" />
<rect x="47.85" y="285.02" width="1.89" height="0.80" fill="#dbe6f4" />
<rect x="38.88" y="303.64" width="2.12" height="0.80" fill="#dbe6f4" />
<rect x="26.94" y="329.63" width="2.96" height="0.80" fill="#dbe6f4" />
<rect x="36.97" y="370.11" width="1.66" height="0.80" fill="#dbe6f4" />
<rect x="42.75" y="300.00" width="2.29" height="0.80" fill="#dbe6f4" />
<rect x="47.71" y="332.51" width="2.57" height="0.80" fill="#dbe6f4" />
<rect x="33.24" y="313.77" width="1.18" height="0.80" fill="#dbe6f4" />
<rect x="32.42" y="350.66" width="2.46" height="0.80" fill="#dbe6f4" />
<rect x="41.85" y="356.43" width="1.16" height="0.80" fill="#dbe6f4" />
<rect x="42.94" y="265.27" width="1.79" height="0.80" fill="#dbe6f4" />
<rect x="29.21" y="315.02" width="2.92" height="0.80" fill="#dbe6f4" />
<rect x="37.88" y="391.64" width="2.36" height="0.80" fill="#dbe6f4" />
<rect x="28.23" y="365.98" width="1.62" height="0.80" fill="#dbe6f4" />
<rect x="39.96" y="316.69" width="2.29" height="0.80" fill="#dbe6f4" />
<rect x="34.02" y="295.03" width="1.27" height="0.80" fill="#dbe6f4" />
<rect x="46.87" y="383.25" width="1.51" height="0.80" fill="#dbe6f4" />
<rect x="27.22" y="277.17" width="2.61" height="0.80" fill="#dbe6f4" />
<rect x="46.90" y="406.78" width="1.81" height="0.80" fill="#dbe6f4" />
<rect x="27.05" y="293.03" width="1.85" height="0.80" fill="#dbe6f4" />
<rect x="42.56" y="406.17" width="2.21" height="0.80" fill="#dbe6f4" />
<rect x="40.18" y="282.20" width="1.45" height="0.80" fill="#dbe6f4" />
<rect x="29.05" y="354.06" width="1.80" height="0.80" fill="#dbe6f4" />
<rect x="48.22" y="385.12" width="1.96" height="0.80" fill="#dbe6f4" />
<rect x="30.88" y="315.69" width="1.06" height="0.80" fill="#dbe6f4" />
<rect x="39.82" y="382.63" width="2.02" height="0.80" fill="#dbe6f4" />
<rect x="29.16" y="272.05" width="1.11" height="0.80" fill="#dbe6f4" />
<rect x="42.11" y="390.92" width="1.13" height="0.80" fill="#dbe6f4" />
<rect x="26.10" y="400.41" width="1.35" height="0.80" fill="#dbe6f4" />
<rect x="42.42" y="316.61" width="1.01" height="0.80" fill="#dbe6f4" />
<rect x="44.23" y="359.65" width="2.14" height="0.80" fill="#dbe6f4" />
<rect x="36.59" y="340.40" width="2.03" height="0.80" fill="#dbe6f4" />
<rect x="35.67" y="339.24" width="2.25" height="0.80" fill="#dbe6f4" />
<rect x="29.42" y="319.88" width="2.22" height="0.80" fill="#dbe6f4" />
<rect x="27.76" y="379.17" width="2.45" height="0.80" fill="#dbe6f4" />
<rect x="33.46" y="357.20" width="2.13" height="0.80" fill="#dbe6f4" />
<rect x="35.50" y="315.13" width="2.31" height="0.80" fill="#dbe6f4" />
<rect x="29.02" y="387.24" width="2.06" height="0.80" fill="#dbe6f4" />
<rect x="40.35" y="384.75" width="1.44" height="0.80" fill="#dbe6f4" />
<rect x="42.77" y="361.99" width="1.29" height="0.80" fill="#dbe6f4" />
<rect x="39.10" y="342.17" width="2.89" height="0.80" fill="#dbe6f4" />
<rect x="34.11" y="296.48" width="1.88" height="0.80" fill="#dbe6f4" />
<rect x="31.85" y="294.60" width="2.94" height="0.80" fill="#dbe6f4" />
<rect x="30.52" y="370.48" width="1.44" height="0.80" fill="#dbe6f4" />
<rect x="44.99" y="355.93" width="1.38" height="0.80" fill="#dbe6f4" />
<rect x="41.18" y="364.56" width="1.45" height="0.80" fill="#dbe6f4" />
<rect x="36.35" y="340.19" width="2.39" height="0.80" fill="#dbe6f4" />
<rect x="42.67" y="393.62" width="2.13" height="0.80" fill="#dbe6f4" />
<rect x="45.32" y="360.26" width="2.60" height="0.80" fill="#dbe6f4" />
<rect x="28.96" y="334.65" width="2.01" height="0.80" fill="#dbe6f4" />
<rect x="45.02" y="399.26" width="2.25" height="0.80" fill="#dbe6f4" />
<rect x="47.80" y="336.40" width="1.92" height="0.80" fill="#dbe6f4" />
<rect x="41.54" y="340.63" width="2.94" height="0.80" fill="#dbe6f4" />
<rect x="30.27" y="330.59" width="1.19" height="0.80" fill="#dbe6f4" />
<rect x="34.41" y="351.45" width="1.81" height="0.80" fill="#dbe6f4" />
<rect x="26.98" y="267.66" width="2.40" height="0.80" fill="#dbe6f4" />
<rect x="47.69" y="328.35" width="1.24" height="0.80" fill="#dbe6f4" />
<rect x="28.99" y="393.52" width="1.18" height="0.80" fill="#dbe6f4" />
<rect x="48.44" y="290.87" width="1.23" height="0.80" fill="#dbe6f4" />
<rect x="42.50" y="313.10" width="1.73" height="0.80" fill="#dbe6f4" />
<rect x="45.09" y="378.36" width="2.47" height="0.80" fill="#dbe6f4" />
<rect x="26.17" y="298.72" width="1.48" height="0.80" fill="#dbe6f4" />
<rect x="37.60" y="337.79" width="1.71" height="0.80" fill="#dbe6f4" />
<rect x="37.05" y="380.16" width="1.71" height="0.80" fill="#dbe6f4" />
<rect x="34.01" y="309.13" width="2.21" height="0.80" fill="#dbe6f4" />
<rect x="26.68" y="393.77" width="1.48" height="0.80" fill="#dbe6f4" />
<rect x="33.98" y="362.36" width="1.04" height="0.80" fill="#dbe6f4" />
<rect x="48.44" y="325.47" width="2.58" height="0.80" fill="#dbe6f4" />
<rect x="37.03" y="272.31" width="1.52" height="0.80" fill="#dbe6f4" />
<rect x="29.33" y="396.80" width="2.75" height="0.80" fill="#dbe6f4" />
<polygon points="31.90,260.60 43.90,260.60 38.90,305.60 36.90,305.60" fill="#bcd2ee" opacity="0.8" filter="url(#bl2)"/>
<path d="M35.60,260.60 L40.20,260.60 Q38.80,276.60 38.40,312.60 L37.40,312.60 Q37.00,276.60 35.60,260.60 Z" fill="url(#wB)" filter="url(#bl1)"/>
<line x1="37.90" y1="290.60" x2="37.90" y2="329.80" stroke="#b9d0ea" stroke-width="0.9" />
<rect x="37.25" y="329.80" width="1.30" height="78.00" fill="url(#lnB)" />
<rect x="47.40" y="330.80" width="1.00" height="3.00" fill="#d4e2f2" />
<path d="M25.50,257.00 L31.40,256.70 C35.40,256.00 37.20,252.60 37.70,243.20 L38.10,243.20 C38.60,252.60 40.40,256.00 44.40,256.70 L51.10,257.00" stroke="#f39a1e" stroke-width="1.2" fill="none" />
<path d="M25.50,257.60 L33.90,257.30 C36.40,256.10 37.40,254.60 37.90,248.00 C38.40,254.60 39.40,256.10 41.90,257.30 L51.10,257.60" stroke="#35a9dc" stroke-width="1.1" fill="none" />
<path d="M36.30,257.60 L37.90,248.00 L39.50,257.60 Z" fill="#35a9dc"/>
<line x1="24.90" y1="257.90" x2="51.70" y2="257.90" stroke="#35a9dc" stroke-width="1.1" />
<path d="M51.70,241.5 L51.70,407.80 L24.90,407.80 L24.90,228.70 L50.20,228.70 Q51.70,228.70 51.70,230.20" fill="none" stroke="#4a4a4a" stroke-width="1.2"/>
<line x1="24.90" y1="259.50" x2="51.70" y2="259.50" stroke="#333" stroke-width="2" />
<line x1="24.90" y1="329.80" x2="51.70" y2="329.80" stroke="#111" stroke-width="1.6" />
<line x1="25.40" y1="407.80" x2="25.40" y2="410.30" stroke="#222" stroke-width="1" />
<line x1="37.90" y1="407.80" x2="37.90" y2="410.30" stroke="#222" stroke-width="1" />
<line x1="51.20" y1="407.80" x2="51.20" y2="410.30" stroke="#222" stroke-width="1" />
<rect x="53.60" y="260.60" width="27.00" height="69.20" fill="#e9f0f9" />
<rect x="53.60" y="329.80" width="27.00" height="78.00" fill="#f0f5fc" />
<rect x="70.00" y="383.02" width="2.18" height="0.80" fill="#dbe6f4" />
<rect x="60.36" y="406.40" width="2.52" height="0.80" fill="#dbe6f4" />
<rect x="60.78" y="326.08" width="1.05" height="0.80" fill="#dbe6f4" />
<rect x="77.47" y="332.34" width="1.97" height="0.80" fill="#dbe6f4" />
<rect x="55.33" y="383.16" width="1.15" height="0.80" fill="#dbe6f4" />
<rect x="68.87" y="355.21" width="2.20" height="0.80" fill="#dbe6f4" />
<rect x="73.99" y="402.09" width="2.39" height="0.80" fill="#dbe6f4" />
<rect x="64.92" y="294.88" width="2.92" height="0.80" fill="#dbe6f4" />
<rect x="66.49" y="314.01" width="2.06" height="0.80" fill="#dbe6f4" />
<rect x="61.76" y="280.61" width="2.25" height="0.80" fill="#dbe6f4" />
<rect x="59.46" y="380.54" width="2.45" height="0.80" fill="#dbe6f4" />
<rect x="62.22" y="329.61" width="2.87" height="0.80" fill="#dbe6f4" />
<rect x="61.83" y="310.32" width="1.97" height="0.80" fill="#dbe6f4" />
<rect x="59.81" y="297.72" width="2.75" height="0.80" fill="#dbe6f4" />
<rect x="68.60" y="353.20" width="2.45" height="0.80" fill="#dbe6f4" />
<rect x="57.90" y="317.42" width="1.13" height="0.80" fill="#dbe6f4" />
<rect x="77.40" y="313.41" width="2.15" height="0.80" fill="#dbe6f4" />
<rect x="68.04" y="281.80" width="2.40" height="0.80" fill="#dbe6f4" />
<rect x="75.65" y="392.66" width="1.19" height="0.80" fill="#dbe6f4" />
<rect x="59.18" y="323.49" width="2.14" height="0.80" fill="#dbe6f4" />
<rect x="56.88" y="376.58" width="2.59" height="0.80" fill="#dbe6f4" />
<rect x="60.07" y="377.28" width="1.28" height="0.80" fill="#dbe6f4" />
<rect x="56.26" y="401.42" width="1.68" height="0.80" fill="#dbe6f4" />
<rect x="62.94" y="385.49" width="1.49" height="0.80" fill="#dbe6f4" />
<rect x="74.68" y="365.52" width="1.67" height="0.80" fill="#dbe6f4" />
<rect x="70.80" y="359.14" width="2.77" height="0.80" fill="#dbe6f4" />
<rect x="72.60" y="334.74" width="2.79" height="0.80" fill="#dbe6f4" />
<rect x="73.21" y="406.31" width="1.30" height="0.80" fill="#dbe6f4" />
<rect x="59.32" y="390.65" width="2.34" height="0.80" fill="#dbe6f4" />
<rect x="63.91" y="319.11" width="2.54" height="0.80" fill="#dbe6f4" />
<rect x="75.98" y="346.80" width="1.29" height="0.80" fill="#dbe6f4" />
<rect x="71.16" y="298.21" width="2.14" height="0.80" fill="#dbe6f4" />
<rect x="69.75" y="401.84" width="1.15" height="0.80" fill="#dbe6f4" />
<rect x="58.98" y="395.88" width="2.17" height="0.80" fill="#dbe6f4" />
<rect x="61.60" y="312.93" width="1.94" height="0.80" fill="#dbe6f4" />
<rect x="76.92" y="361.83" width="2.44" height="0.80" fill="#dbe6f4" />
<rect x="75.80" y="383.36" width="1.64" height="0.80" fill="#dbe6f4" />
<rect x="58.63" y="391.95" width="2.09" height="0.80" fill="#dbe6f4" />
<rect x="72.05" y="352.56" width="1.47" height="0.80" fill="#dbe6f4" />
<rect x="55.06" y="268.53" width="1.90" height="0.80" fill="#dbe6f4" />
<rect x="75.14" y="302.64" width="2.00" height="0.80" fill="#dbe6f4" />
<rect x="56.89" y="296.70" width="1.11" height="0.80" fill="#dbe6f4" />
<rect x="57.57" y="268.66" width="1.15" height="0.80" fill="#dbe6f4" />
<rect x="73.38" y="345.16" width="2.44" height="0.80" fill="#dbe6f4" />
<rect x="54.72" y="300.90" width="2.28" height="0.80" fill="#dbe6f4" />
<rect x="54.95" y="308.48" width="1.06" height="0.80" fill="#dbe6f4" />
<rect x="62.00" y="387.59" width="1.05" height="0.80" fill="#dbe6f4" />
<rect x="65.79" y="350.14" width="2.60" height="0.80" fill="#dbe6f4" />
<rect x="58.61" y="386.95" width="2.59" height="0.80" fill="#dbe6f4" />
<rect x="56.61" y="350.58" width="2.55" height="0.80" fill="#dbe6f4" />
<rect x="77.32" y="319.62" width="2.88" height="0.80" fill="#dbe6f4" />
<rect x="74.69" y="265.34" width="1.63" height="0.80" fill="#dbe6f4" />
<rect x="69.64" y="307.11" width="1.83" height="0.80" fill="#dbe6f4" />
<rect x="70.93" y="382.83" width="1.31" height="0.80" fill="#dbe6f4" />
<rect x="55.03" y="292.16" width="2.06" height="0.80" fill="#dbe6f4" />
<rect x="73.93" y="313.56" width="1.72" height="0.80" fill="#dbe6f4" />
<rect x="62.51" y="360.36" width="2.73" height="0.80" fill="#dbe6f4" />
<rect x="58.13" y="404.10" width="2.15" height="0.80" fill="#dbe6f4" />
<rect x="59.89" y="351.43" width="2.63" height="0.80" fill="#dbe6f4" />
<rect x="65.58" y="266.19" width="2.29" height="0.80" fill="#dbe6f4" />
<rect x="69.59" y="341.39" width="2.41" height="0.80" fill="#dbe6f4" />
<rect x="67.46" y="314.07" width="2.06" height="0.80" fill="#dbe6f4" />
<rect x="60.90" y="298.32" width="2.12" height="0.80" fill="#dbe6f4" />
<rect x="56.90" y="379.10" width="2.95" height="0.80" fill="#dbe6f4" />
<rect x="58.06" y="352.92" width="1.80" height="0.80" fill="#dbe6f4" />
<rect x="77.12" y="397.65" width="2.25" height="0.80" fill="#dbe6f4" />
<rect x="57.41" y="340.48" width="1.41" height="0.80" fill="#dbe6f4" />
<rect x="72.48" y="299.22" width="2.21" height="0.80" fill="#dbe6f4" />
<rect x="71.56" y="392.69" width="2.74" height="0.80" fill="#dbe6f4" />
<rect x="74.28" y="374.72" width="2.06" height="0.80" fill="#dbe6f4" />
<rect x="62.67" y="364.64" width="1.88" height="0.80" fill="#dbe6f4" />
<rect x="74.38" y="292.55" width="2.82" height="0.80" fill="#dbe6f4" />
<rect x="75.32" y="318.09" width="1.42" height="0.80" fill="#dbe6f4" />
<rect x="72.77" y="265.44" width="2.32" height="0.80" fill="#dbe6f4" />
<rect x="54.96" y="378.74" width="2.83" height="0.80" fill="#dbe6f4" />
<rect x="70.11" y="312.52" width="1.46" height="0.80" fill="#dbe6f4" />
<rect x="63.25" y="393.30" width="1.75" height="0.80" fill="#dbe6f4" />
<rect x="69.71" y="386.52" width="1.06" height="0.80" fill="#dbe6f4" />
<rect x="55.08" y="364.59" width="1.48" height="0.80" fill="#dbe6f4" />
<rect x="62.75" y="308.94" width="1.85" height="0.80" fill="#dbe6f4" />
<rect x="61.01" y="389.29" width="2.00" height="0.80" fill="#dbe6f4" />
<rect x="77.17" y="376.43" width="1.95" height="0.80" fill="#dbe6f4" />
<rect x="76.08" y="373.29" width="2.91" height="0.80" fill="#dbe6f4" />
<rect x="57.74" y="305.17" width="1.18" height="0.80" fill="#dbe6f4" />
<rect x="54.69" y="388.23" width="1.50" height="0.80" fill="#dbe6f4" />
<rect x="61.95" y="350.21" width="2.91" height="0.80" fill="#dbe6f4" />
<rect x="59.48" y="269.17" width="2.56" height="0.80" fill="#dbe6f4" />
<rect x="74.18" y="368.40" width="1.09" height="0.80" fill="#dbe6f4" />
<rect x="72.40" y="325.35" width="1.87" height="0.80" fill="#dbe6f4" />
<rect x="57.82" y="397.54" width="2.37" height="0.80" fill="#dbe6f4" />
<rect x="73.12" y="283.66" width="2.83" height="0.80" fill="#dbe6f4" />
<rect x="57.67" y="305.55" width="2.01" height="0.80" fill="#dbe6f4" />
<rect x="62.69" y="370.69" width="1.93" height="0.80" fill="#dbe6f4" />
<rect x="63.74" y="321.74" width="2.28" height="0.80" fill="#dbe6f4" />
<rect x="69.90" y="319.20" width="1.67" height="0.80" fill="#dbe6f4" />
<rect x="75.18" y="346.58" width="1.40" height="0.80" fill="#dbe6f4" />
<rect x="69.03" y="263.83" width="1.27" height="0.80" fill="#dbe6f4" />
<rect x="68.29" y="345.07" width="2.40" height="0.80" fill="#dbe6f4" />
<rect x="71.36" y="268.62" width="2.79" height="0.80" fill="#dbe6f4" />
<rect x="56.08" y="277.62" width="2.91" height="0.80" fill="#dbe6f4" />
<rect x="76.92" y="337.89" width="1.01" height="0.80" fill="#dbe6f4" />
<rect x="59.75" y="340.07" width="2.27" height="0.80" fill="#dbe6f4" />
<rect x="67.15" y="405.84" width="2.06" height="0.80" fill="#dbe6f4" />
<rect x="73.91" y="400.59" width="1.15" height="0.80" fill="#dbe6f4" />
<rect x="76.92" y="385.48" width="2.94" height="0.80" fill="#dbe6f4" />
<rect x="59.75" y="272.11" width="2.41" height="0.80" fill="#dbe6f4" />
<rect x="54.95" y="300.66" width="2.93" height="0.80" fill="#dbe6f4" />
<rect x="59.12" y="268.55" width="2.58" height="0.80" fill="#dbe6f4" />
<rect x="76.49" y="300.40" width="1.65" height="0.80" fill="#dbe6f4" />
<rect x="55.55" y="327.48" width="1.56" height="0.80" fill="#dbe6f4" />
<rect x="62.21" y="321.19" width="2.99" height="0.80" fill="#dbe6f4" />
<rect x="71.74" y="300.60" width="1.84" height="0.80" fill="#dbe6f4" />
<rect x="67.02" y="317.21" width="1.30" height="0.80" fill="#dbe6f4" />
<rect x="72.10" y="389.62" width="2.61" height="0.80" fill="#dbe6f4" />
<rect x="75.26" y="353.80" width="1.48" height="0.80" fill="#dbe6f4" />
<rect x="66.12" y="405.15" width="2.39" height="0.80" fill="#dbe6f4" />
<rect x="71.39" y="405.49" width="2.65" height="0.80" fill="#dbe6f4" />
<rect x="69.86" y="274.21" width="2.24" height="0.80" fill="#dbe6f4" />
<rect x="55.37" y="365.62" width="1.81" height="0.80" fill="#dbe6f4" />
<rect x="67.45" y="361.04" width="1.88" height="0.80" fill="#dbe6f4" />
<rect x="69.96" y="327.74" width="2.16" height="0.80" fill="#dbe6f4" />
<rect x="65.49" y="355.59" width="1.94" height="0.80" fill="#dbe6f4" />
<rect x="62.47" y="340.91" width="1.76" height="0.80" fill="#dbe6f4" />
<rect x="73.57" y="376.51" width="2.74" height="0.80" fill="#dbe6f4" />
<rect x="62.77" y="270.91" width="2.95" height="0.80" fill="#dbe6f4" />
<rect x="60.73" y="357.37" width="2.65" height="0.80" fill="#dbe6f4" />
<rect x="56.26" y="377.37" width="2.33" height="0.80" fill="#dbe6f4" />
<rect x="75.85" y="372.73" width="1.52" height="0.80" fill="#dbe6f4" />
<rect x="73.94" y="386.14" width="1.70" height="0.80" fill="#dbe6f4" />
<rect x="68.16" y="344.47" width="3.00" height="0.80" fill="#dbe6f4" />
<rect x="56.11" y="371.55" width="1.73" height="0.80" fill="#dbe6f4" />
<rect x="59.31" y="286.16" width="1.73" height="0.80" fill="#dbe6f4" />
<rect x="70.09" y="283.74" width="2.32" height="0.80" fill="#dbe6f4" />
<rect x="58.69" y="399.16" width="2.71" height="0.80" fill="#dbe6f4" />
<rect x="69.60" y="393.81" width="1.64" height="0.80" fill="#dbe6f4" />
<rect x="62.92" y="387.00" width="1.86" height="0.80" fill="#dbe6f4" />
<rect x="64.03" y="363.62" width="1.75" height="0.80" fill="#dbe6f4" />
<rect x="62.99" y="357.87" width="2.05" height="0.80" fill="#dbe6f4" />
<rect x="61.56" y="357.76" width="1.55" height="0.80" fill="#dbe6f4" />
<rect x="61.28" y="326.39" width="1.22" height="0.80" fill="#dbe6f4" />
<polygon points="60.70,260.60 72.70,260.60 67.70,305.60 65.70,305.60" fill="#bcd2ee" opacity="0.8" filter="url(#bl2)"/>
<path d="M64.40,260.60 L69.00,260.60 Q67.60,276.60 67.20,312.60 L66.20,312.60 Q65.80,276.60 64.40,260.60 Z" fill="url(#wB)" filter="url(#bl1)"/>
<line x1="66.70" y1="290.60" x2="66.70" y2="329.80" stroke="#b9d0ea" stroke-width="0.9" />
<rect x="66.05" y="329.80" width="1.30" height="78.00" fill="url(#lnB)" />
<rect x="76.20" y="330.80" width="1.00" height="3.00" fill="#d4e2f2" />
<path d="M54.20,257.00 L60.20,256.70 C64.20,256.00 66.00,252.60 66.50,243.20 L66.90,243.20 C67.40,252.60 69.20,256.00 73.20,256.70 L80.00,257.00" stroke="#f39a1e" stroke-width="1.2" fill="none" />
<path d="M54.20,257.60 L62.70,257.30 C65.20,256.10 66.20,254.60 66.70,248.00 C67.20,254.60 68.20,256.10 70.70,257.30 L80.00,257.60" stroke="#35a9dc" stroke-width="1.1" fill="none" />
<path d="M65.10,257.60 L66.70,248.00 L68.30,257.60 Z" fill="#35a9dc"/>
<line x1="53.60" y1="257.90" x2="80.60" y2="257.90" stroke="#35a9dc" stroke-width="1.1" />
<path d="M53.60,241.5 L53.60,407.80 L80.60,407.80 L80.60,228.70 L55.10,228.70 Q53.60,228.70 53.60,230.20" fill="none" stroke="#4a4a4a" stroke-width="1.2"/>
<line x1="53.60" y1="259.50" x2="80.60" y2="259.50" stroke="#333" stroke-width="2" />
<line x1="53.60" y1="329.80" x2="80.60" y2="329.80" stroke="#111" stroke-width="1.6" />
<line x1="54.10" y1="407.80" x2="54.10" y2="410.30" stroke="#222" stroke-width="1" />
<line x1="66.70" y1="407.80" x2="66.70" y2="410.30" stroke="#222" stroke-width="1" />
<line x1="80.10" y1="407.80" x2="80.10" y2="410.30" stroke="#222" stroke-width="1" />
<rect x="83.00" y="260.60" width="26.60" height="69.20" fill="#fde8d9" />
<rect x="83.00" y="329.80" width="26.60" height="78.00" fill="#fdf0e6" />
<rect x="98.34" y="367.69" width="1.35" height="0.80" fill="#f9dcc6" />
<rect x="95.69" y="262.46" width="1.26" height="0.80" fill="#f9dcc6" />
<rect x="95.05" y="357.47" width="2.25" height="0.80" fill="#f9dcc6" />
<rect x="95.83" y="377.99" width="1.51" height="0.80" fill="#f9dcc6" />
<rect x="96.57" y="261.72" width="1.52" height="0.80" fill="#f9dcc6" />
<rect x="97.35" y="306.11" width="2.09" height="0.80" fill="#f9dcc6" />
<rect x="104.72" y="298.72" width="1.53" height="0.80" fill="#f9dcc6" />
<rect x="93.90" y="337.86" width="1.99" height="0.80" fill="#f9dcc6" />
<rect x="86.01" y="280.23" width="2.92" height="0.80" fill="#f9dcc6" />
<rect x="90.56" y="375.01" width="2.84" height="0.80" fill="#f9dcc6" />
<rect x="100.21" y="316.16" width="1.08" height="0.80" fill="#f9dcc6" />
<rect x="101.02" y="402.41" width="1.86" height="0.80" fill="#f9dcc6" />
<rect x="97.73" y="298.89" width="1.48" height="0.80" fill="#f9dcc6" />
<rect x="103.20" y="280.40" width="2.24" height="0.80" fill="#f9dcc6" />
<rect x="106.10" y="385.27" width="2.16" height="0.80" fill="#f9dcc6" />
<rect x="85.43" y="291.09" width="2.72" height="0.80" fill="#f9dcc6" />
<rect x="85.81" y="326.29" width="1.79" height="0.80" fill="#f9dcc6" />
<rect x="93.37" y="397.47" width="2.29" height="0.80" fill="#f9dcc6" />
<rect x="101.89" y="277.25" width="2.13" height="0.80" fill="#f9dcc6" />
<rect x="105.13" y="363.38" width="1.87" height="0.80" fill="#f9dcc6" />
<rect x="106.49" y="287.19" width="1.13" height="0.80" fill="#f9dcc6" />
<rect x="92.99" y="281.24" width="2.51" height="0.80" fill="#f9dcc6" />
<rect x="84.21" y="295.35" width="1.40" height="0.80" fill="#f9dcc6" />
<rect x="96.24" y="396.02" width="1.59" height="0.80" fill="#f9dcc6" />
<rect x="91.46" y="317.86" width="1.92" height="0.80" fill="#f9dcc6" />
<rect x="86.04" y="384.71" width="2.14" height="0.80" fill="#f9dcc6" />
<rect x="84.35" y="333.76" width="2.70" height="0.80" fill="#f9dcc6" />
<rect x="88.87" y="327.56" width="2.65" height="0.80" fill="#f9dcc6" />
<rect x="88.52" y="310.33" width="2.73" height="0.80" fill="#f9dcc6" />
<rect x="96.44" y="370.20" width="2.69" height="0.80" fill="#f9dcc6" />
<rect x="87.17" y="320.69" width="1.10" height="0.80" fill="#f9dcc6" />
<rect x="98.16" y="308.13" width="1.38" height="0.80" fill="#f9dcc6" />
<rect x="106.20" y="288.63" width="2.08" height="0.80" fill="#f9dcc6" />
<rect x="95.75" y="274.18" width="1.77" height="0.80" fill="#f9dcc6" />
<rect x="99.01" y="304.98" width="1.79" height="0.80" fill="#f9dcc6" />
<rect x="104.02" y="360.49" width="1.61" height="0.80" fill="#f9dcc6" />
<rect x="89.62" y="316.81" width="1.87" height="0.80" fill="#f9dcc6" />
<rect x="96.19" y="305.88" width="1.26" height="0.80" fill="#f9dcc6" />
<rect x="88.69" y="356.31" width="2.86" height="0.80" fill="#f9dcc6" />
<rect x="98.83" y="364.67" width="1.28" height="0.80" fill="#f9dcc6" />
<rect x="105.03" y="311.22" width="1.91" height="0.80" fill="#f9dcc6" />
<rect x="99.98" y="358.00" width="2.46" height="0.80" fill="#f9dcc6" />
<rect x="84.19" y="271.42" width="2.90" height="0.80" fill="#f9dcc6" />
<rect x="102.61" y="266.73" width="1.44" height="0.80" fill="#f9dcc6" />
<rect x="93.92" y="290.72" width="1.42" height="0.80" fill="#f9dcc6" />
<rect x="105.99" y="350.28" width="1.81" height="0.80" fill="#f9dcc6" />
<rect x="100.45" y="291.20" width="1.41" height="0.80" fill="#f9dcc6" />
<rect x="88.07" y="386.20" width="1.25" height="0.80" fill="#f9dcc6" />
<rect x="87.10" y="389.37" width="2.63" height="0.80" fill="#f9dcc6" />
<rect x="95.24" y="263.66" width="2.44" height="0.80" fill="#f9dcc6" />
<rect x="100.66" y="285.43" width="1.44" height="0.80" fill="#f9dcc6" />
<rect x="100.28" y="370.31" width="2.60" height="0.80" fill="#f9dcc6" />
<rect x="96.08" y="284.68" width="2.56" height="0.80" fill="#f9dcc6" />
<rect x="100.17" y="336.56" width="1.93" height="0.80" fill="#f9dcc6" />
<rect x="88.56" y="274.89" width="1.10" height="0.80" fill="#f9dcc6" />
<rect x="89.06" y="382.63" width="2.41" height="0.80" fill="#f9dcc6" />
<rect x="94.00" y="323.25" width="2.74" height="0.80" fill="#f9dcc6" />
<rect x="104.88" y="280.97" width="1.32" height="0.80" fill="#f9dcc6" />
<rect x="94.09" y="371.69" width="2.75" height="0.80" fill="#f9dcc6" />
<rect x="102.02" y="364.25" width="2.44" height="0.80" fill="#f9dcc6" />
<rect x="91.00" y="299.07" width="2.10" height="0.80" fill="#f9dcc6" />
<rect x="88.85" y="398.89" width="2.33" height="0.80" fill="#f9dcc6" />
<rect x="89.22" y="403.05" width="1.66" height="0.80" fill="#f9dcc6" />
<rect x="87.53" y="303.86" width="2.31" height="0.80" fill="#f9dcc6" />
<rect x="99.69" y="290.37" width="1.30" height="0.80" fill="#f9dcc6" />
<rect x="88.16" y="309.98" width="1.80" height="0.80" fill="#f9dcc6" />
<rect x="84.88" y="312.68" width="2.31" height="0.80" fill="#f9dcc6" />
<rect x="88.76" y="356.87" width="2.05" height="0.80" fill="#f9dcc6" />
<rect x="85.65" y="332.74" width="1.04" height="0.80" fill="#f9dcc6" />
<rect x="101.66" y="390.74" width="2.83" height="0.80" fill="#f9dcc6" />
<rect x="88.53" y="302.26" width="1.61" height="0.80" fill="#f9dcc6" />
<rect x="97.20" y="371.41" width="1.40" height="0.80" fill="#f9dcc6" />
<rect x="94.63" y="373.08" width="2.53" height="0.80" fill="#f9dcc6" />
<rect x="104.44" y="345.64" width="1.60" height="0.80" fill="#f9dcc6" />
<rect x="97.11" y="276.22" width="1.00" height="0.80" fill="#f9dcc6" />
<rect x="88.39" y="283.70" width="1.60" height="0.80" fill="#f9dcc6" />
<rect x="87.89" y="312.45" width="1.96" height="0.80" fill="#f9dcc6" />
<rect x="91.45" y="314.46" width="1.22" height="0.80" fill="#f9dcc6" />
<rect x="102.80" y="379.07" width="2.45" height="0.80" fill="#f9dcc6" />
<rect x="94.28" y="370.06" width="1.23" height="0.80" fill="#f9dcc6" />
<rect x="87.65" y="318.70" width="1.07" height="0.80" fill="#f9dcc6" />
<rect x="84.90" y="345.71" width="1.83" height="0.80" fill="#f9dcc6" />
<rect x="99.74" y="321.91" width="2.67" height="0.80" fill="#f9dcc6" />
<rect x="85.72" y="367.25" width="2.47" height="0.80" fill="#f9dcc6" />
<rect x="92.12" y="357.83" width="1.18" height="0.80" fill="#f9dcc6" />
<rect x="84.11" y="355.22" width="2.67" height="0.80" fill="#f9dcc6" />
<rect x="90.86" y="299.54" width="1.21" height="0.80" fill="#f9dcc6" />
<rect x="89.40" y="283.83" width="1.54" height="0.80" fill="#f9dcc6" />
<rect x="96.23" y="308.68" width="1.49" height="0.80" fill="#f9dcc6" />
<rect x="96.85" y="267.71" width="1.51" height="0.80" fill="#f9dcc6" />
<rect x="105.46" y="302.76" width="2.11" height="0.80" fill="#f9dcc6" />
<rect x="106.33" y="393.50" width="2.45" height="0.80" fill="#f9dcc6" />
<rect x="96.09" y="296.40" width="1.19" height="0.80" fill="#f9dcc6" />
<rect x="86.39" y="269.39" width="2.58" height="0.80" fill="#f9dcc6" />
<rect x="99.85" y="292.23" width="2.49" height="0.80" fill="#f9dcc6" />
<rect x="85.97" y="286.47" width="2.68" height="0.80" fill="#f9dcc6" />
<rect x="106.56" y="323.17" width="2.25" height="0.80" fill="#f9dcc6" />
<rect x="86.48" y="344.34" width="1.24" height="0.80" fill="#f9dcc6" />
<rect x="99.00" y="293.20" width="1.49" height="0.80" fill="#f9dcc6" />
<rect x="101.51" y="336.08" width="2.64" height="0.80" fill="#f9dcc6" />
<rect x="102.56" y="272.21" width="1.67" height="0.80" fill="#f9dcc6" />
<rect x="86.22" y="292.80" width="2.55" height="0.80" fill="#f9dcc6" />
<rect x="87.95" y="305.68" width="1.17" height="0.80" fill="#f9dcc6" />
<rect x="101.16" y="347.54" width="1.37" height="0.80" fill="#f9dcc6" />
<rect x="91.18" y="396.84" width="2.57" height="0.80" fill="#f9dcc6" />
<rect x="84.73" y="376.11" width="1.30" height="0.80" fill="#f9dcc6" />
<rect x="95.56" y="285.87" width="2.60" height="0.80" fill="#f9dcc6" />
<rect x="101.41" y="291.18" width="2.85" height="0.80" fill="#f9dcc6" />
<rect x="99.50" y="364.49" width="1.13" height="0.80" fill="#f9dcc6" />
<rect x="84.06" y="389.48" width="1.08" height="0.80" fill="#f9dcc6" />
<rect x="95.88" y="309.52" width="1.14" height="0.80" fill="#f9dcc6" />
<rect x="97.64" y="270.70" width="2.73" height="0.80" fill="#f9dcc6" />
<rect x="85.14" y="314.69" width="1.82" height="0.80" fill="#f9dcc6" />
<rect x="98.71" y="402.64" width="2.17" height="0.80" fill="#f9dcc6" />
<rect x="102.16" y="333.12" width="2.54" height="0.80" fill="#f9dcc6" />
<rect x="95.21" y="299.25" width="2.39" height="0.80" fill="#f9dcc6" />
<rect x="90.85" y="269.26" width="1.93" height="0.80" fill="#f9dcc6" />
<rect x="101.82" y="360.35" width="1.33" height="0.80" fill="#f9dcc6" />
<rect x="92.72" y="354.49" width="2.88" height="0.80" fill="#f9dcc6" />
<rect x="95.59" y="370.21" width="2.19" height="0.80" fill="#f9dcc6" />
<rect x="98.81" y="353.44" width="1.14" height="0.80" fill="#f9dcc6" />
<rect x="101.70" y="378.09" width="2.50" height="0.80" fill="#f9dcc6" />
<rect x="103.15" y="296.46" width="2.18" height="0.80" fill="#f9dcc6" />
<rect x="96.69" y="389.02" width="2.15" height="0.80" fill="#f9dcc6" />
<rect x="105.09" y="390.76" width="1.10" height="0.80" fill="#f9dcc6" />
<rect x="99.00" y="318.93" width="2.25" height="0.80" fill="#f9dcc6" />
<rect x="101.49" y="311.35" width="1.76" height="0.80" fill="#f9dcc6" />
<rect x="105.43" y="294.76" width="2.34" height="0.80" fill="#f9dcc6" />
<rect x="101.89" y="357.91" width="2.81" height="0.80" fill="#f9dcc6" />
<rect x="93.64" y="305.85" width="1.60" height="0.80" fill="#f9dcc6" />
<rect x="97.65" y="399.68" width="2.76" height="0.80" fill="#f9dcc6" />
<rect x="94.74" y="321.25" width="1.60" height="0.80" fill="#f9dcc6" />
<rect x="87.30" y="340.79" width="1.17" height="0.80" fill="#f9dcc6" />
<rect x="92.90" y="329.25" width="1.07" height="0.80" fill="#f9dcc6" />
<rect x="91.59" y="405.71" width="1.37" height="0.80" fill="#f9dcc6" />
<rect x="104.10" y="320.76" width="2.08" height="0.80" fill="#f9dcc6" />
<rect x="89.46" y="293.01" width="2.25" height="0.80" fill="#f9dcc6" />
<rect x="92.49" y="391.77" width="1.78" height="0.80" fill="#f9dcc6" />
<rect x="91.52" y="283.51" width="1.33" height="0.80" fill="#f9dcc6" />
<rect x="91.95" y="380.06" width="2.76" height="0.80" fill="#f9dcc6" />
<polygon points="89.90,260.60 101.90,260.60 96.90,305.60 94.90,305.60" fill="#f7c8a6" opacity="0.8" filter="url(#bl2)"/>
<path d="M93.60,260.60 L98.20,260.60 Q96.80,276.60 96.40,312.60 L95.40,312.60 Q95.00,276.60 93.60,260.60 Z" fill="url(#wO)" filter="url(#bl1)"/>
<line x1="95.90" y1="290.60" x2="95.90" y2="329.80" stroke="#f6c4a2" stroke-width="0.9" />
<rect x="95.25" y="329.80" width="1.30" height="78.00" fill="url(#lnO)" />
<rect x="105.40" y="330.80" width="1.00" height="3.00" fill="#fbd8c0" />
<path d="M83.60,257.00 L89.40,256.70 C93.40,256.00 95.20,252.60 95.70,230.20 L96.10,230.20 C96.60,252.60 98.40,256.00 102.40,256.70 L109.00,257.00" stroke="#f39a1e" stroke-width="1.2" fill="none" />
<path d="M83.60,257.60 L91.90,257.30 C94.40,256.10 95.40,254.60 95.90,252.50 C96.40,254.60 97.40,256.10 99.90,257.30 L109.00,257.60" stroke="#35a9dc" stroke-width="1.1" fill="none" />
<line x1="83.00" y1="257.90" x2="109.60" y2="257.90" stroke="#35a9dc" stroke-width="1.1" />
<rect x="83.00" y="228.70" width="26.60" height="179.10" fill="none" stroke="#4a4a4a" stroke-width="1.2"/>
<line x1="83.00" y1="259.50" x2="109.60" y2="259.50" stroke="#333" stroke-width="2" />
<line x1="83.00" y1="329.80" x2="109.60" y2="329.80" stroke="#111" stroke-width="1.6" />
<line x1="83.50" y1="407.80" x2="83.50" y2="410.30" stroke="#222" stroke-width="1" />
<line x1="95.90" y1="407.80" x2="95.90" y2="410.30" stroke="#222" stroke-width="1" />
<line x1="109.10" y1="407.80" x2="109.10" y2="410.30" stroke="#222" stroke-width="1" />
<rect x="111.90" y="260.60" width="26.70" height="69.20" fill="#fde8d9" />
<rect x="111.90" y="329.80" width="26.70" height="78.00" fill="#fdf0e6" />
<rect x="134.70" y="306.40" width="1.64" height="0.80" fill="#f9dcc6" />
<rect x="132.79" y="376.42" width="2.21" height="0.80" fill="#f9dcc6" />
<rect x="132.35" y="402.19" width="1.78" height="0.80" fill="#f9dcc6" />
<rect x="113.11" y="385.53" width="1.21" height="0.80" fill="#f9dcc6" />
<rect x="118.48" y="343.68" width="2.31" height="0.80" fill="#f9dcc6" />
<rect x="129.62" y="359.79" width="2.97" height="0.80" fill="#f9dcc6" />
<rect x="129.57" y="370.96" width="2.33" height="0.80" fill="#f9dcc6" />
<rect x="115.97" y="370.98" width="1.51" height="0.80" fill="#f9dcc6" />
<rect x="122.34" y="336.27" width="1.66" height="0.80" fill="#f9dcc6" />
<rect x="118.95" y="304.56" width="1.61" height="0.80" fill="#f9dcc6" />
<rect x="129.00" y="361.25" width="2.88" height="0.80" fill="#f9dcc6" />
<rect x="131.26" y="270.27" width="2.31" height="0.80" fill="#f9dcc6" />
<rect x="124.10" y="362.02" width="1.04" height="0.80" fill="#f9dcc6" />
<rect x="132.77" y="390.55" width="1.24" height="0.80" fill="#f9dcc6" />
<rect x="121.46" y="306.78" width="2.02" height="0.80" fill="#f9dcc6" />
<rect x="116.36" y="349.75" width="1.92" height="0.80" fill="#f9dcc6" />
<rect x="134.42" y="331.65" width="1.01" height="0.80" fill="#f9dcc6" />
<rect x="134.16" y="301.02" width="1.38" height="0.80" fill="#f9dcc6" />
<rect x="133.74" y="335.36" width="3.00" height="0.80" fill="#f9dcc6" />
<rect x="116.84" y="347.21" width="2.96" height="0.80" fill="#f9dcc6" />
<rect x="127.14" y="296.70" width="2.55" height="0.80" fill="#f9dcc6" />
<rect x="113.49" y="341.20" width="1.82" height="0.80" fill="#f9dcc6" />
<rect x="114.81" y="399.54" width="2.28" height="0.80" fill="#f9dcc6" />
<rect x="124.09" y="403.11" width="1.72" height="0.80" fill="#f9dcc6" />
<rect x="133.39" y="308.67" width="2.67" height="0.80" fill="#f9dcc6" />
<rect x="124.15" y="268.62" width="2.06" height="0.80" fill="#f9dcc6" />
<rect x="133.19" y="290.75" width="2.61" height="0.80" fill="#f9dcc6" />
<rect x="114.30" y="306.32" width="2.04" height="0.80" fill="#f9dcc6" />
<rect x="128.37" y="393.38" width="2.17" height="0.80" fill="#f9dcc6" />
<rect x="134.95" y="374.43" width="1.72" height="0.80" fill="#f9dcc6" />
<rect x="128.64" y="301.15" width="2.78" height="0.80" fill="#f9dcc6" />
<rect x="123.68" y="351.73" width="2.86" height="0.80" fill="#f9dcc6" />
<rect x="122.05" y="360.56" width="1.72" height="0.80" fill="#f9dcc6" />
<rect x="120.16" y="376.78" width="1.95" height="0.80" fill="#f9dcc6" />
<rect x="115.45" y="396.03" width="2.25" height="0.80" fill="#f9dcc6" />
<rect x="124.28" y="320.88" width="1.32" height="0.80" fill="#f9dcc6" />
<rect x="133.16" y="267.98" width="1.56" height="0.80" fill="#f9dcc6" />
<rect x="125.06" y="357.63" width="2.70" height="0.80" fill="#f9dcc6" />
<rect x="122.25" y="272.70" width="1.78" height="0.80" fill="#f9dcc6" />
<rect x="129.18" y="319.03" width="2.62" height="0.80" fill="#f9dcc6" />
<rect x="132.23" y="279.18" width="1.90" height="0.80" fill="#f9dcc6" />
<rect x="113.17" y="338.87" width="2.40" height="0.80" fill="#f9dcc6" />
<rect x="119.84" y="349.03" width="1.72" height="0.80" fill="#f9dcc6" />
<rect x="135.16" y="390.23" width="2.75" height="0.80" fill="#f9dcc6" />
<rect x="115.09" y="349.12" width="2.66" height="0.80" fill="#f9dcc6" />
<rect x="131.84" y="364.95" width="2.86" height="0.80" fill="#f9dcc6" />
<rect x="116.67" y="287.22" width="2.45" height="0.80" fill="#f9dcc6" />
<rect x="129.75" y="278.71" width="1.81" height="0.80" fill="#f9dcc6" />
<rect x="132.00" y="376.27" width="2.68" height="0.80" fill="#f9dcc6" />
<rect x="121.98" y="334.17" width="1.67" height="0.80" fill="#f9dcc6" />
<rect x="132.54" y="365.01" width="1.29" height="0.80" fill="#f9dcc6" />
<rect x="129.60" y="321.66" width="2.85" height="0.80" fill="#f9dcc6" />
<rect x="119.45" y="292.54" width="2.36" height="0.80" fill="#f9dcc6" />
<rect x="133.89" y="271.30" width="1.01" height="0.80" fill="#f9dcc6" />
<rect x="125.93" y="295.80" width="1.87" height="0.80" fill="#f9dcc6" />
<rect x="117.76" y="367.42" width="2.57" height="0.80" fill="#f9dcc6" />
<rect x="128.33" y="385.45" width="1.26" height="0.80" fill="#f9dcc6" />
<rect x="117.94" y="384.97" width="1.48" height="0.80" fill="#f9dcc6" />
<rect x="115.74" y="302.63" width="1.07" height="0.80" fill="#f9dcc6" />
<rect x="134.92" y="396.67" width="1.76" height="0.80" fill="#f9dcc6" />
<rect x="119.43" y="355.61" width="2.75" height="0.80" fill="#f9dcc6" />
<rect x="121.62" y="391.74" width="2.42" height="0.80" fill="#f9dcc6" />
<rect x="130.41" y="349.42" width="2.02" height="0.80" fill="#f9dcc6" />
<rect x="126.69" y="392.84" width="1.62" height="0.80" fill="#f9dcc6" />
<rect x="121.07" y="344.22" width="2.78" height="0.80" fill="#f9dcc6" />
<rect x="114.69" y="264.99" width="2.03" height="0.80" fill="#f9dcc6" />
<rect x="115.67" y="400.11" width="1.44" height="0.80" fill="#f9dcc6" />
<rect x="123.29" y="372.53" width="1.89" height="0.80" fill="#f9dcc6" />
<rect x="124.33" y="403.50" width="2.18" height="0.80" fill="#f9dcc6" />
<rect x="126.42" y="266.28" width="2.08" height="0.80" fill="#f9dcc6" />
<rect x="123.51" y="331.84" width="1.59" height="0.80" fill="#f9dcc6" />
<rect x="134.15" y="401.68" width="2.06" height="0.80" fill="#f9dcc6" />
<rect x="118.13" y="342.42" width="2.64" height="0.80" fill="#f9dcc6" />
<rect x="119.29" y="403.01" width="2.16" height="0.80" fill="#f9dcc6" />
<rect x="129.09" y="293.98" width="1.35" height="0.80" fill="#f9dcc6" />
<rect x="131.30" y="300.52" width="1.75" height="0.80" fill="#f9dcc6" />
<rect x="134.57" y="301.35" width="1.18" height="0.80" fill="#f9dcc6" />
<rect x="115.45" y="318.27" width="2.91" height="0.80" fill="#f9dcc6" />
<rect x="122.18" y="358.41" width="2.76" height="0.80" fill="#f9dcc6" />
<rect x="114.14" y="315.52" width="2.06" height="0.80" fill="#f9dcc6" />
<rect x="127.83" y="298.15" width="2.28" height="0.80" fill="#f9dcc6" />
<rect x="125.97" y="324.23" width="2.94" height="0.80" fill="#f9dcc6" />
<rect x="132.88" y="351.29" width="1.38" height="0.80" fill="#f9dcc6" />
<rect x="126.88" y="277.85" width="1.33" height="0.80" fill="#f9dcc6" />
<rect x="130.14" y="272.70" width="2.79" height="0.80" fill="#f9dcc6" />
<rect x="113.28" y="374.48" width="2.58" height="0.80" fill="#f9dcc6" />
<rect x="129.77" y="373.89" width="1.40" height="0.80" fill="#f9dcc6" />
<rect x="130.05" y="383.28" width="1.59" height="0.80" fill="#f9dcc6" />
<rect x="130.75" y="264.93" width="2.48" height="0.80" fill="#f9dcc6" />
<rect x="126.82" y="263.89" width="1.71" height="0.80" fill="#f9dcc6" />
<rect x="122.39" y="382.91" width="2.28" height="0.80" fill="#f9dcc6" />
<rect x="129.87" y="339.68" width="2.12" height="0.80" fill="#f9dcc6" />
<rect x="127.15" y="343.69" width="1.63" height="0.80" fill="#f9dcc6" />
<rect x="120.95" y="276.88" width="2.48" height="0.80" fill="#f9dcc6" />
<rect x="128.59" y="322.73" width="1.06" height="0.80" fill="#f9dcc6" />
<rect x="129.09" y="373.80" width="1.69" height="0.80" fill="#f9dcc6" />
<rect x="132.38" y="314.43" width="2.77" height="0.80" fill="#f9dcc6" />
<rect x="123.93" y="273.61" width="1.68" height="0.80" fill="#f9dcc6" />
<rect x="120.13" y="391.89" width="2.95" height="0.80" fill="#f9dcc6" />
<rect x="132.19" y="338.31" width="1.50" height="0.80" fill="#f9dcc6" />
<rect x="121.73" y="312.97" width="2.31" height="0.80" fill="#f9dcc6" />
<rect x="134.18" y="289.64" width="1.56" height="0.80" fill="#f9dcc6" />
<rect x="131.40" y="336.96" width="2.55" height="0.80" fill="#f9dcc6" />
<rect x="129.37" y="284.97" width="2.79" height="0.80" fill="#f9dcc6" />
<rect x="122.81" y="281.68" width="1.22" height="0.80" fill="#f9dcc6" />
<rect x="129.42" y="338.74" width="1.06" height="0.80" fill="#f9dcc6" />
<rect x="131.36" y="402.91" width="1.17" height="0.80" fill="#f9dcc6" />
<rect x="130.61" y="291.21" width="2.15" height="0.80" fill="#f9dcc6" />
<rect x="133.65" y="386.26" width="1.68" height="0.80" fill="#f9dcc6" />
<rect x="125.60" y="328.65" width="2.54" height="0.80" fill="#f9dcc6" />
<rect x="133.42" y="262.67" width="1.41" height="0.80" fill="#f9dcc6" />
<rect x="120.95" y="389.46" width="1.20" height="0.80" fill="#f9dcc6" />
<rect x="132.82" y="398.79" width="1.88" height="0.80" fill="#f9dcc6" />
<rect x="125.89" y="395.25" width="2.37" height="0.80" fill="#f9dcc6" />
<rect x="133.65" y="372.20" width="2.14" height="0.80" fill="#f9dcc6" />
<rect x="129.23" y="386.72" width="1.34" height="0.80" fill="#f9dcc6" />
<rect x="127.70" y="386.75" width="2.98" height="0.80" fill="#f9dcc6" />
<rect x="129.17" y="329.78" width="2.76" height="0.80" fill="#f9dcc6" />
<rect x="126.65" y="278.79" width="2.00" height="0.80" fill="#f9dcc6" />
<rect x="121.56" y="363.20" width="2.60" height="0.80" fill="#f9dcc6" />
<rect x="133.09" y="262.31" width="2.13" height="0.80" fill="#f9dcc6" />
<rect x="129.82" y="294.15" width="2.48" height="0.80" fill="#f9dcc6" />
<rect x="127.60" y="296.83" width="2.82" height="0.80" fill="#f9dcc6" />
<rect x="117.44" y="261.74" width="1.93" height="0.80" fill="#f9dcc6" />
<rect x="122.03" y="398.26" width="2.92" height="0.80" fill="#f9dcc6" />
<rect x="130.50" y="268.02" width="2.11" height="0.80" fill="#f9dcc6" />
<rect x="126.02" y="321.67" width="1.08" height="0.80" fill="#f9dcc6" />
<rect x="123.52" y="331.13" width="2.91" height="0.80" fill="#f9dcc6" />
<rect x="130.14" y="389.71" width="1.19" height="0.80" fill="#f9dcc6" />
<rect x="116.15" y="338.43" width="2.23" height="0.80" fill="#f9dcc6" />
<rect x="120.24" y="335.62" width="2.91" height="0.80" fill="#f9dcc6" />
<rect x="121.56" y="389.22" width="1.14" height="0.80" fill="#f9dcc6" />
<rect x="113.57" y="355.73" width="1.17" height="0.80" fill="#f9dcc6" />
<rect x="125.65" y="350.58" width="2.58" height="0.80" fill="#f9dcc6" />
<rect x="125.10" y="364.10" width="2.32" height="0.80" fill="#f9dcc6" />
<rect x="126.86" y="327.97" width="2.34" height="0.80" fill="#f9dcc6" />
<rect x="125.61" y="291.88" width="1.37" height="0.80" fill="#f9dcc6" />
<rect x="124.41" y="383.17" width="1.42" height="0.80" fill="#f9dcc6" />
<rect x="128.97" y="368.40" width="2.34" height="0.80" fill="#f9dcc6" />
<rect x="135.22" y="350.56" width="1.17" height="0.80" fill="#f9dcc6" />
<polygon points="118.85,260.60 130.85,260.60 125.85,305.60 123.85,305.60" fill="#f7c8a6" opacity="0.8" filter="url(#bl2)"/>
<path d="M122.55,260.60 L127.15,260.60 Q125.75,276.60 125.35,312.60 L124.35,312.60 Q123.95,276.60 122.55,260.60 Z" fill="url(#wO)" filter="url(#bl1)"/>
<line x1="124.85" y1="290.60" x2="124.85" y2="329.80" stroke="#f6c4a2" stroke-width="0.9" />
<rect x="124.20" y="329.80" width="1.30" height="78.00" fill="url(#lnO)" />
<rect x="134.35" y="330.80" width="1.00" height="3.00" fill="#fbd8c0" />
<path d="M112.50,257.00 L118.35,256.70 C122.35,256.00 124.15,252.60 124.65,230.20 L125.05,230.20 C125.55,252.60 127.35,256.00 131.35,256.70 L138.00,257.00" stroke="#f39a1e" stroke-width="1.2" fill="none" />
<path d="M112.50,257.60 L120.85,257.30 C123.35,256.10 124.35,254.60 124.85,252.50 C125.35,254.60 126.35,256.10 128.85,257.30 L138.00,257.60" stroke="#35a9dc" stroke-width="1.1" fill="none" />
<line x1="111.90" y1="257.90" x2="138.60" y2="257.90" stroke="#35a9dc" stroke-width="1.1" />
<rect x="111.90" y="228.70" width="26.70" height="179.10" fill="none" stroke="#4a4a4a" stroke-width="1.2"/>
<line x1="111.90" y1="259.50" x2="138.60" y2="259.50" stroke="#333" stroke-width="2" />
<line x1="111.90" y1="329.80" x2="138.60" y2="329.80" stroke="#111" stroke-width="1.6" />
<line x1="112.40" y1="407.80" x2="112.40" y2="410.30" stroke="#222" stroke-width="1" />
<line x1="124.85" y1="407.80" x2="124.85" y2="410.30" stroke="#222" stroke-width="1" />
<line x1="138.10" y1="407.80" x2="138.10" y2="410.30" stroke="#222" stroke-width="1" />
<line x1="22.80" y1="229.40" x2="24.90" y2="229.40" stroke="#000" stroke-width="1" />
<text x="22.40" y="231.90" font-size="7.6" text-anchor="end">150</text>
<line x1="22.80" y1="238.70" x2="24.90" y2="238.70" stroke="#000" stroke-width="1" />
<text x="22.40" y="241.20" font-size="7.6" text-anchor="end">100</text>
<line x1="22.80" y1="248.00" x2="24.90" y2="248.00" stroke="#000" stroke-width="1" />
<text x="22.40" y="250.50" font-size="7.6" text-anchor="end">50</text>
<line x1="22.80" y1="257.20" x2="24.90" y2="257.20" stroke="#000" stroke-width="1" />
<text x="22.40" y="259.70" font-size="7.6" text-anchor="end">0</text>
<line x1="26.90" y1="232.70" x2="30.90" y2="232.70" stroke="#f39a1e" stroke-width="1.1" />
<text x="32.60" y="234.80" font-size="5.8" fill="#f39a1e" textLength="22.00" lengthAdjust="spacingAndGlyphs">Increased</text>
<line x1="26.90" y1="238.10" x2="30.90" y2="238.10" stroke="#35a9dc" stroke-width="1.1" />
<text x="32.60" y="240.20" font-size="5.8" fill="#35a9dc" textLength="24.80" lengthAdjust="spacingAndGlyphs">Decreased</text>
<text x="25.40" y="418.50" font-size="7.4" text-anchor="middle">−5</text>
<text x="37.70" y="418.50" font-size="7.4" text-anchor="middle">0</text>
<text x="50.80" y="418.50" font-size="7.4" text-anchor="middle">5</text>
<text x="16.20" y="428.10" font-size="7.6" textLength="44.60" lengthAdjust="spacingAndGlyphs">Distance (kb)</text>
<rect x="70.8" y="416.2" width="31.4" height="3" fill="url(#cbB)" stroke="#333" stroke-width="0.6"/>
<rect x="104.2" y="416.2" width="31.9" height="3" fill="url(#cbO)" stroke="#333" stroke-width="0.6"/>
<line x1="71.20" y1="419.20" x2="71.20" y2="421.00" stroke="#333" stroke-width="0.8" />
<line x1="83.60" y1="419.20" x2="83.60" y2="421.00" stroke="#333" stroke-width="0.8" />
<line x1="96.00" y1="419.20" x2="96.00" y2="421.00" stroke="#333" stroke-width="0.8" />
<line x1="104.60" y1="419.20" x2="104.60" y2="421.00" stroke="#333" stroke-width="0.8" />
<line x1="117.60" y1="419.20" x2="117.60" y2="421.00" stroke="#333" stroke-width="0.8" />
<line x1="130.20" y1="419.20" x2="130.20" y2="421.00" stroke="#333" stroke-width="0.8" />
<text x="71.50" y="428.40" font-size="7.4" text-anchor="middle">0</text>
<text x="83.50" y="428.40" font-size="7.4" text-anchor="middle">40</text>
<text x="95.80" y="428.40" font-size="7.4" text-anchor="middle">80</text>
<text x="105.30" y="428.40" font-size="7.4" text-anchor="middle">0</text>
<text x="118.00" y="428.40" font-size="7.4" text-anchor="middle">40</text>
<text x="130.40" y="428.40" font-size="7.4" text-anchor="middle">80</text>
<path d="M142.40,262.50 Q143.80,262.50 143.80,267.50 L143.80,293.40 Q143.80,295.80 146.50,296.40 Q143.80,297.00 143.80,299.40 L143.80,324.50 Q143.80,329.50 142.40,329.50" stroke="url(#br3)" stroke-width="1.1" fill="none" />
<path d="M142.40,333.00 Q143.60,333.00 143.60,338.00 L143.60,366.70 Q143.60,369.10 146.50,369.70 Q143.60,370.30 143.60,372.70 L143.60,401.70 Q143.60,406.70 142.40,406.70" stroke="url(#br4)" stroke-width="1.1" fill="none" />
<text x="156.40" y="321.90" font-size="9.2" textLength="69.80" lengthAdjust="spacingAndGlyphs" transform="rotate(-90 156.40 321.90)">Increased (2004)</text>
<text x="156.40" y="406.60" font-size="9.2" textLength="73.80" lengthAdjust="spacingAndGlyphs" transform="rotate(-90 156.40 406.60)">Decreased (2256)</text>
<text x="20.60" y="405.50" font-size="9.2" textLength="139.50" lengthAdjust="spacingAndGlyphs" transform="rotate(-90 20.60 405.50)">Differential ATAC-seq accessibility</text>
<text x="171.60" y="198.20" font-size="11" font-weight="bold">E</text>
<text x="211.80" y="213.70" font-size="9.2" fill="#c8102e" textLength="110.70" lengthAdjust="spacingAndGlyphs">Increased ATAC-seq peaks</text>
<text x="283.20" y="232.20" font-size="7.5" fill="#6a3d8f" text-anchor="end" textLength="101.95" lengthAdjust="spacingAndGlyphs">reg. of leukocyte differentiation</text>
<rect x="288.70" y="227.50" width="31.10" height="5.20" fill="#c8102e" />
<line x1="284.30" y1="230.10" x2="288.70" y2="230.10" stroke="#000" stroke-width="1.1" />
<text x="283.20" y="240.20" font-size="7.5" fill="#6a3d8f" text-anchor="end" textLength="81.20" lengthAdjust="spacingAndGlyphs">pos. reg. of hemopoiesis</text>
<rect x="288.70" y="235.50" width="35.30" height="5.20" fill="#c8102e" />
<line x1="284.30" y1="238.10" x2="288.70" y2="238.10" stroke="#000" stroke-width="1.1" />
<text x="283.20" y="248.20" font-size="7.5" fill="#6a3d8f" text-anchor="end" textLength="118.70" lengthAdjust="spacingAndGlyphs">pos. reg. of leukocyte differentiation</text>
<rect x="288.70" y="243.50" width="38.50" height="5.20" fill="#c8102e" />
<line x1="284.30" y1="246.10" x2="288.70" y2="246.10" stroke="#000" stroke-width="1.1" />
<text x="283.20" y="256.20" font-size="7.5" fill="#111" text-anchor="end" textLength="86.95" lengthAdjust="spacingAndGlyphs">inositol metabolic process</text>
<rect x="288.70" y="251.50" width="40.60" height="5.20" fill="#c8102e" />
<line x1="284.30" y1="254.10" x2="288.70" y2="254.10" stroke="#000" stroke-width="1.1" />
<text x="283.20" y="264.20" font-size="7.5" fill="#111" text-anchor="end" textLength="103.20" lengthAdjust="spacingAndGlyphs">reg. of endopeptidase activity</text>
<rect x="288.70" y="259.50" width="42.30" height="5.20" fill="#c8102e" />
<line x1="284.30" y1="262.10" x2="288.70" y2="262.10" stroke="#000" stroke-width="1.1" />
<text x="283.20" y="272.20" font-size="7.5" fill="#6a3d8f" text-anchor="end" textLength="103.20" lengthAdjust="spacingAndGlyphs">reg. of monocyte differentiation</text>
<rect x="288.70" y="267.50" width="45.40" height="5.20" fill="#c8102e" />
<line x1="284.30" y1="270.10" x2="288.70" y2="270.10" stroke="#000" stroke-width="1.1" />
<text x="283.20" y="280.20" font-size="7.5" fill="#6a3d8f" text-anchor="end" textLength="119.45" lengthAdjust="spacingAndGlyphs">pos. reg. of monocyte differentiation</text>
<rect x="288.70" y="275.50" width="46.10" height="5.20" fill="#c8102e" />
<line x1="284.30" y1="278.10" x2="288.70" y2="278.10" stroke="#000" stroke-width="1.1" />
<line x1="288.70" y1="224.30" x2="288.70" y2="283.30" stroke="#000" stroke-width="1.6" />
<line x1="287.90" y1="282.50" x2="348.20" y2="282.50" stroke="#000" stroke-width="1.6" />
<line x1="289.00" y1="282.50" x2="289.00" y2="285.30" stroke="#000" stroke-width="1.1" />
<text x="289.00" y="293.40" font-size="7.6" text-anchor="middle">0</text>
<line x1="303.45" y1="282.50" x2="303.45" y2="285.30" stroke="#000" stroke-width="1.1" />
<text x="303.45" y="293.40" font-size="7.6" text-anchor="middle">2</text>
<line x1="317.90" y1="282.50" x2="317.90" y2="285.30" stroke="#000" stroke-width="1.1" />
<text x="317.90" y="293.40" font-size="7.6" text-anchor="middle">4</text>
<line x1="332.35" y1="282.50" x2="332.35" y2="285.30" stroke="#000" stroke-width="1.1" />
<text x="332.35" y="293.40" font-size="7.6" text-anchor="middle">6</text>
<line x1="346.80" y1="282.50" x2="346.80" y2="285.30" stroke="#000" stroke-width="1.1" />
<text x="346.80" y="293.40" font-size="7.6" text-anchor="middle">8</text>
<text x="281.20" y="303.40" font-size="8.8" stroke="#000" stroke-width="0.22" textLength="73.60" lengthAdjust="spacingAndGlyphs">Binominal p value (-log<tspan font-size="4.5" dy="1.2">10</tspan><tspan dy="-1.2">)</tspan></text>
<text x="172.00" y="333.70" font-size="11" font-weight="bold">F</text>
<text x="213.75" y="330.60" font-size="9.2" fill="#1f5791" textLength="115.25" lengthAdjust="spacingAndGlyphs">Decreased ATAC-seq peaks</text>
<text x="283.60" y="349.30" font-size="7.5" fill="#111" text-anchor="end" textLength="76.60" lengthAdjust="spacingAndGlyphs">myotube differentiation</text>
<rect x="289.00" y="344.90" width="29.60" height="4.70" fill="#1a4c86" />
<line x1="284.80" y1="347.20" x2="289.00" y2="347.20" stroke="#000" stroke-width="1.1" />
<text x="283.60" y="357.17" font-size="7.5" fill="#111" text-anchor="end" textLength="99.85" lengthAdjust="spacingAndGlyphs">muscle structure development</text>
<rect x="289.00" y="352.77" width="33.30" height="4.70" fill="#1a4c86" />
<line x1="284.80" y1="355.07" x2="289.00" y2="355.07" stroke="#000" stroke-width="1.1" />
<text x="283.60" y="365.04" font-size="7.5" fill="#111" text-anchor="end" textLength="44.85" lengthAdjust="spacingAndGlyphs">cell migration</text>
<rect x="289.00" y="360.64" width="37.60" height="4.70" fill="#1a4c86" />
<line x1="284.80" y1="362.94" x2="289.00" y2="362.94" stroke="#000" stroke-width="1.1" />
<text x="283.60" y="372.91" font-size="7.5" fill="#111" text-anchor="end" textLength="64.85" lengthAdjust="spacingAndGlyphs">reg. of hemopoiesis</text>
<rect x="289.00" y="368.51" width="44.50" height="4.70" fill="#1a4c86" />
<line x1="284.80" y1="370.81" x2="289.00" y2="370.81" stroke="#000" stroke-width="1.1" />
<text x="283.60" y="380.78" font-size="7.5" fill="#111" text-anchor="end" textLength="82.35" lengthAdjust="spacingAndGlyphs">pos. reg. of cell adhesion</text>
<rect x="289.00" y="376.38" width="48.70" height="4.70" fill="#1a4c86" />
<line x1="284.80" y1="378.68" x2="289.00" y2="378.68" stroke="#000" stroke-width="1.1" />
<text x="283.60" y="388.65" font-size="7.5" fill="#111" text-anchor="end" textLength="68.60" lengthAdjust="spacingAndGlyphs">pos. reg. of transport</text>
<rect x="289.00" y="384.25" width="52.10" height="4.70" fill="#1a4c86" />
<line x1="284.80" y1="386.55" x2="289.00" y2="386.55" stroke="#000" stroke-width="1.1" />
<text x="283.60" y="396.52" font-size="7.5" fill="#111" text-anchor="end" textLength="66.60" lengthAdjust="spacingAndGlyphs">reg. of cell adhesion</text>
<rect x="289.00" y="392.12" width="54.90" height="4.70" fill="#1a4c86" />
<line x1="284.80" y1="394.42" x2="289.00" y2="394.42" stroke="#000" stroke-width="1.1" />
<line x1="289.00" y1="341.40" x2="289.00" y2="400.30" stroke="#000" stroke-width="1.6" />
<line x1="288.20" y1="399.60" x2="348.30" y2="399.60" stroke="#000" stroke-width="1.6" />
<line x1="289.00" y1="399.60" x2="289.00" y2="402.30" stroke="#000" stroke-width="1.1" />
<text x="289.00" y="410.30" font-size="7.6" text-anchor="middle">0</text>
<line x1="300.80" y1="399.60" x2="300.80" y2="402.30" stroke="#000" stroke-width="1.1" />
<text x="300.80" y="410.30" font-size="7.6" text-anchor="middle">2</text>
<line x1="312.60" y1="399.60" x2="312.60" y2="402.30" stroke="#000" stroke-width="1.1" />
<text x="312.60" y="410.30" font-size="7.6" text-anchor="middle">4</text>
<line x1="324.40" y1="399.60" x2="324.40" y2="402.30" stroke="#000" stroke-width="1.1" />
<text x="324.40" y="410.30" font-size="7.6" text-anchor="middle">6</text>
<line x1="336.20" y1="399.60" x2="336.20" y2="402.30" stroke="#000" stroke-width="1.1" />
<text x="336.20" y="410.30" font-size="7.6" text-anchor="middle">8</text>
<line x1="348.00" y1="399.60" x2="348.00" y2="402.30" stroke="#000" stroke-width="1.1" />
<text x="348.00" y="410.30" font-size="7.6" text-anchor="middle">10</text>
<text x="281.80" y="418.10" font-size="8.8" stroke="#000" stroke-width="0.22" textLength="73.50" lengthAdjust="spacingAndGlyphs">Binominal p value (-log<tspan font-size="4.5" dy="1.2">10</tspan><tspan dy="-1.2">)</tspan></text>
<text x="353.80" y="193.60" font-size="11" font-weight="bold">G</text>
<line x1="381.40" y1="199.40" x2="381.40" y2="298.80" stroke="#000" stroke-width="1.5" />
<line x1="380.70" y1="298.10" x2="486.00" y2="298.10" stroke="#000" stroke-width="1.5" />
<line x1="378.30" y1="200.80" x2="381.40" y2="200.80" stroke="#000" stroke-width="1.1" />
<text x="376.80" y="203.60" font-size="8" text-anchor="end">250</text>
<line x1="378.30" y1="218.84" x2="381.40" y2="218.84" stroke="#000" stroke-width="1.1" />
<text x="376.80" y="221.64" font-size="8" text-anchor="end">200</text>
<line x1="378.30" y1="236.88" x2="381.40" y2="236.88" stroke="#000" stroke-width="1.1" />
<text x="376.80" y="239.68" font-size="8" text-anchor="end">150</text>
<line x1="378.30" y1="254.92" x2="381.40" y2="254.92" stroke="#000" stroke-width="1.1" />
<text x="376.80" y="257.72" font-size="8" text-anchor="end">100</text>
<line x1="378.30" y1="272.96" x2="381.40" y2="272.96" stroke="#000" stroke-width="1.1" />
<text x="376.80" y="275.76" font-size="8" text-anchor="end">50</text>
<line x1="378.30" y1="291.00" x2="381.40" y2="291.00" stroke="#000" stroke-width="1.1" />
<text x="376.80" y="293.80" font-size="8" text-anchor="end">0</text>
<line x1="388.50" y1="298.10" x2="388.50" y2="300.90" stroke="#000" stroke-width="1.1" />
<text x="388.50" y="309.30" font-size="7.6" text-anchor="middle">0</text>
<line x1="412.80" y1="298.10" x2="412.80" y2="300.90" stroke="#000" stroke-width="1.1" />
<text x="412.80" y="309.30" font-size="7.6" text-anchor="middle">200</text>
<line x1="437.10" y1="298.10" x2="437.10" y2="300.90" stroke="#000" stroke-width="1.1" />
<text x="437.10" y="309.30" font-size="7.6" text-anchor="middle">400</text>
<line x1="461.40" y1="298.10" x2="461.40" y2="300.90" stroke="#000" stroke-width="1.1" />
<text x="461.40" y="309.30" font-size="7.6" text-anchor="middle">600</text>
<line x1="485.70" y1="298.10" x2="485.70" y2="300.90" stroke="#000" stroke-width="1.1" />
<text x="485.70" y="309.30" font-size="7.6" text-anchor="middle">800</text>
<text x="399.70" y="320.80" font-size="8.4" stroke="#000" stroke-width="0.22" textLength="69.60" lengthAdjust="spacingAndGlyphs">Rank of 769 human TFs</text>
<text x="358.90" y="267.20" font-size="8.4" stroke="#000" stroke-width="0.22" textLength="37.00" lengthAdjust="spacingAndGlyphs" transform="rotate(-90 358.90 267.20)">-Log P value</text>
<path d="M389.5,267 C389.7,272 390.5,277 391.8,281.5 C393,285 394.5,286.6 396.5,287.5 C399,288.6 401.5,289 404.5,289.3 L419.2,290.3 L483.5,290.8" stroke="#14634a" stroke-width="3.8" fill="none" stroke-linecap="round"/>
<circle cx="388.40" cy="206.00" r="1.8" fill="#c8102e"/>
<circle cx="388.40" cy="207.80" r="1.8" fill="#c8102e"/>
<circle cx="388.50" cy="231.90" r="1.8" fill="#1f5791"/>
<circle cx="388.50" cy="234.00" r="1.8" fill="#c8102e"/>
<circle cx="388.70" cy="248.50" r="1.8" fill="#3cb44b"/>
<circle cx="388.70" cy="252.50" r="1.8" fill="#c8102e"/>
<circle cx="388.50" cy="256.10" r="1.8" fill="#4b2a7b"/>
<circle cx="388.50" cy="257.80" r="1.8" fill="#f39a1e"/>
<circle cx="388.50" cy="260.40" r="1.8" fill="#c8102e"/>
<text x="391.90" y="203.90" font-size="8" fill="#c8102e" textLength="25.90" lengthAdjust="spacingAndGlyphs">CEBPB</text>
<text x="391.90" y="211.50" font-size="8" fill="#c8102e" textLength="25.90" lengthAdjust="spacingAndGlyphs">CEBPA</text>
<text x="391.90" y="235.40" font-size="8" fill="#c8102e" textLength="25.90" lengthAdjust="spacingAndGlyphs">CEBPD</text>
<text x="391.90" y="254.20" font-size="8" fill="#c8102e" textLength="25.90" lengthAdjust="spacingAndGlyphs">CEBPG</text>
<text x="391.90" y="263.40" font-size="8" fill="#c8102e" textLength="25.90" lengthAdjust="spacingAndGlyphs">CEBPE</text>
<text x="437.70" y="207.70" font-size="7.6" textLength="45.80" lengthAdjust="spacingAndGlyphs">Top TF motifs</text>
<circle cx="444.90" cy="218.80" r="1.8" fill="#c8102e"/>
<text x="449.20" y="221.50" font-size="8" fill="#c8102e">C/EBP</text>
<circle cx="444.90" cy="227.85" r="1.8" fill="#1f5791"/>
<text x="449.20" y="230.55" font-size="8" fill="#111">NFIL3</text>
<circle cx="444.90" cy="236.90" r="1.8" fill="#3cb44b"/>
<text x="449.20" y="239.60" font-size="8" fill="#111">DBP</text>
<circle cx="444.90" cy="245.95" r="1.8" fill="#4b2a7b"/>
<text x="449.20" y="248.65" font-size="8" fill="#111">HLF</text>
<circle cx="444.90" cy="255.00" r="1.8" fill="#f39a1e"/>
<text x="449.20" y="257.70" font-size="8" fill="#111">ATF4</text>
<text x="353.80" y="333.70" font-size="11" font-weight="bold">H</text>
<text x="406.40" y="342.20" font-size="9.2" textLength="77.30" lengthAdjust="spacingAndGlyphs">Top <tspan font-style="italic">de novo</tspan> motifs</text>
<text x="0" y="0" font-size="10" fill="#3aa64a" transform="translate(398.80 363.00) scale(0.888 0.752)">A</text>
<text x="0" y="0" font-size="10" fill="#f3a02c" transform="translate(398.80 357.74) scale(0.789 0.836)">G</text>
<text x="0" y="0" font-size="10" fill="#d6303c" transform="translate(404.72 363.00) scale(0.969 1.671)">T</text>
<text x="0" y="0" font-size="10" fill="#d6303c" transform="translate(410.64 363.00) scale(0.969 1.671)">T</text>
<text x="0" y="0" font-size="10" fill="#3aa64a" transform="translate(416.56 363.00) scale(0.888 0.167)">A</text>
<text x="0" y="0" font-size="10" fill="#2765a8" transform="translate(416.56 361.83) scale(0.846 0.167)">C</text>
<text x="0" y="0" font-size="10" fill="#f3a02c" transform="translate(416.56 360.66) scale(0.789 1.003)">G</text>
<text x="0" y="0" font-size="10" fill="#2765a8" transform="translate(422.48 363.00) scale(0.846 1.671)">C</text>
<text x="0" y="0" font-size="10" fill="#2765a8" transform="translate(428.40 363.00) scale(0.846 0.418)">C</text>
<text x="0" y="0" font-size="10" fill="#d6303c" transform="translate(428.40 360.07) scale(0.969 0.334)">T</text>
<text x="0" y="0" font-size="10" fill="#3aa64a" transform="translate(428.40 357.74) scale(0.888 0.752)">A</text>
<text x="0" y="0" font-size="10" fill="#f3a02c" transform="translate(434.32 363.00) scale(0.789 0.251)">G</text>
<text x="0" y="0" font-size="10" fill="#2765a8" transform="translate(434.32 361.25) scale(0.846 0.501)">C</text>
<text x="0" y="0" font-size="10" fill="#2765a8" transform="translate(434.32 357.74) scale(0.846 0.585)">C</text>
<text x="0" y="0" font-size="10" fill="#2765a8" transform="translate(440.24 363.00) scale(0.846 0.334)">C</text>
<text x="0" y="0" font-size="10" fill="#3aa64a" transform="translate(440.24 360.66) scale(0.888 1.254)">A</text>
<text x="0" y="0" font-size="10" fill="#2765a8" transform="translate(446.16 363.00) scale(0.846 0.501)">C</text>
<text x="0" y="0" font-size="10" fill="#3aa64a" transform="translate(446.16 359.49) scale(0.888 1.003)">A</text>
<text x="0" y="0" font-size="10" fill="#2765a8" transform="translate(452.08 363.00) scale(0.846 0.418)">C</text>
<text x="0" y="0" font-size="10" fill="#2765a8" transform="translate(452.08 360.07) scale(0.846 0.418)">C</text>
<text x="0" y="0" font-size="10" fill="#d6303c" transform="translate(452.08 357.15) scale(0.969 0.752)">T</text>
<text x="0" y="0" font-size="10" fill="#f3a02c" transform="translate(399.30 386.20) scale(0.783 1.543)">G</text>
<text x="0" y="0" font-size="10" fill="#f3a02c" transform="translate(405.17 386.20) scale(0.783 1.543)">G</text>
<text x="0" y="0" font-size="10" fill="#f3a02c" transform="translate(411.04 386.20) scale(0.783 1.543)">G</text>
<text x="0" y="0" font-size="10" fill="#f3a02c" transform="translate(416.91 386.20) scale(0.783 1.543)">G</text>
<text x="0" y="0" font-size="10" fill="#2765a8" transform="translate(422.78 386.20) scale(0.839 1.543)">C</text>
<text x="0" y="0" font-size="10" fill="#f3a02c" transform="translate(428.65 386.20) scale(0.783 1.543)">G</text>
<text x="0" y="0" font-size="10" fill="#f3a02c" transform="translate(434.52 386.20) scale(0.783 1.543)">G</text>
<text x="0" y="0" font-size="10" fill="#f3a02c" transform="translate(440.39 386.20) scale(0.783 1.543)">G</text>
<text x="0" y="0" font-size="10" fill="#f3a02c" transform="translate(446.26 386.20) scale(0.783 1.389)">G</text>
<text x="0" y="0" font-size="10" fill="#2765a8" transform="translate(452.13 386.20) scale(0.839 1.543)">C</text>
<text x="0" y="0" font-size="10" fill="#3aa64a" transform="translate(399.30 408.80) scale(0.880 0.294)">A</text>
<text x="0" y="0" font-size="10" fill="#f3a02c" transform="translate(399.30 406.74) scale(0.783 0.368)">G</text>
<text x="0" y="0" font-size="10" fill="#2765a8" transform="translate(399.30 404.17) scale(0.839 0.221)">C</text>
<text x="0" y="0" font-size="10" fill="#3aa64a" transform="translate(399.30 402.62) scale(0.880 0.515)">A</text>
<text x="0" y="0" font-size="10" fill="#d6303c" transform="translate(405.17 408.80) scale(0.961 0.221)">T</text>
<text x="0" y="0" font-size="10" fill="#f3a02c" transform="translate(405.17 407.25) scale(0.783 0.294)">G</text>
<text x="0" y="0" font-size="10" fill="#2765a8" transform="translate(405.17 405.19) scale(0.839 0.662)">C</text>
<text x="0" y="0" font-size="10" fill="#d6303c" transform="translate(411.04 408.80) scale(0.961 1.471)">T</text>
<text x="0" y="0" font-size="10" fill="#d6303c" transform="translate(416.91 408.80) scale(0.961 1.471)">T</text>
<text x="0" y="0" font-size="10" fill="#2765a8" transform="translate(422.78 408.80) scale(0.839 1.471)">C</text>
<text x="0" y="0" font-size="10" fill="#2765a8" transform="translate(428.65 408.80) scale(0.839 1.471)">C</text>
<text x="0" y="0" font-size="10" fill="#2765a8" transform="translate(434.52 408.80) scale(0.839 0.147)">C</text>
<text x="0" y="0" font-size="10" fill="#d6303c" transform="translate(434.52 407.77) scale(0.961 1.251)">T</text>
<text x="0" y="0" font-size="10" fill="#3aa64a" transform="translate(440.39 408.80) scale(0.880 0.221)">A</text>
<text x="0" y="0" font-size="10" fill="#d6303c" transform="translate(440.39 407.25) scale(0.961 0.515)">T</text>
<text x="0" y="0" font-size="10" fill="#2765a8" transform="translate(440.39 403.65) scale(0.839 0.662)">C</text>
<text x="0" y="0" font-size="10" fill="#3aa64a" transform="translate(446.26 408.80) scale(0.880 0.294)">A</text>
<text x="0" y="0" font-size="10" fill="#d6303c" transform="translate(446.26 406.74) scale(0.961 1.177)">T</text>
<text x="0" y="0" font-size="10" fill="#3aa64a" transform="translate(452.13 408.80) scale(0.880 0.294)">A</text>
<text x="0" y="0" font-size="10" fill="#d6303c" transform="translate(452.13 406.74) scale(0.961 1.177)">T</text>
<text x="462.30" y="360.70" font-size="9.5" textLength="26.70" lengthAdjust="spacingAndGlyphs">C/EBP</text>
<text x="462.30" y="383.80" font-size="9.5" textLength="36.40" lengthAdjust="spacingAndGlyphs">SP1/KLF</text>
<text x="462.30" y="405.90" font-size="9.5" textLength="40.20" lengthAdjust="spacingAndGlyphs">PU.1/ETS</text>
<text x="403.50" y="370.10" font-size="7.6" textLength="80.50" lengthAdjust="spacingAndGlyphs">p=10<tspan font-size="4.2" dy="-2.8">−124</tspan><tspan dy="2.8">, 26.5% (6.5%)</tspan></text>
<text x="403.50" y="392.90" font-size="7.6" textLength="78.10" lengthAdjust="spacingAndGlyphs">p=10<tspan font-size="4.2" dy="-2.8">−69</tspan><tspan dy="2.8">, 16.1% (4.4%)</tspan></text>
<text x="403.50" y="416.20" font-size="7.6" textLength="78.50" lengthAdjust="spacingAndGlyphs">p=10<tspan font-size="4.2" dy="-2.8">−50</tspan><tspan dy="2.8">, 22.8% (9.0%)</tspan></text>
<text x="8.00" y="442.80" font-size="11" font-weight="bold">I</text>
<text x="46.30" y="456.90" font-size="9.2" textLength="100.50" lengthAdjust="spacingAndGlyphs">Myeloid CEBPA Network</text>
<rect x="36.2" y="461.3" width="120.3" height="63.2" fill="none" stroke="#333" stroke-width="1.1"/>
<line x1="36.20" y1="508.40" x2="156.50" y2="508.40" stroke="#222" stroke-width="1.1" />
<line x1="33.20" y1="464.00" x2="36.20" y2="464.00" stroke="#000" stroke-width="1" />
<line x1="33.20" y1="470.30" x2="36.20" y2="470.30" stroke="#000" stroke-width="1" />
<line x1="33.20" y1="476.60" x2="36.20" y2="476.60" stroke="#000" stroke-width="1" />
<line x1="33.20" y1="482.90" x2="36.20" y2="482.90" stroke="#000" stroke-width="1" />
<line x1="33.20" y1="489.20" x2="36.20" y2="489.20" stroke="#000" stroke-width="1" />
<line x1="33.20" y1="495.50" x2="36.20" y2="495.50" stroke="#000" stroke-width="1" />
<line x1="33.20" y1="501.80" x2="36.20" y2="501.80" stroke="#000" stroke-width="1" />
<line x1="33.20" y1="508.10" x2="36.20" y2="508.10" stroke="#000" stroke-width="1" />
<text x="29.70" y="466.50" font-size="7.6" text-anchor="end">0.7</text>
<text x="29.90" y="510.60" font-size="7.6" text-anchor="end">0.0</text>
<text x="16.80" y="511.00" font-size="8.4" stroke="#000" stroke-width="0.22" textLength="47.00" lengthAdjust="spacingAndGlyphs" transform="rotate(-90 16.80 511.00)">Enrichment score</text>
<g shape-rendering="crispEdges">
<line x1="36.50" y1="508.90" x2="36.50" y2="524.00" stroke="#111" stroke-width="1" />
<line x1="37.50" y1="508.90" x2="37.50" y2="524.00" stroke="#111" stroke-width="1" />
<line x1="37.50" y1="508.90" x2="37.50" y2="524.00" stroke="#111" stroke-width="1" />
<line x1="38.50" y1="508.90" x2="38.50" y2="524.00" stroke="#111" stroke-width="1" />
<line x1="39.50" y1="508.90" x2="39.50" y2="524.00" stroke="#111" stroke-width="1" />
<line x1="41.50" y1="508.90" x2="41.50" y2="524.00" stroke="#111" stroke-width="1" />
<line x1="43.50" y1="508.90" x2="43.50" y2="524.00" stroke="#111" stroke-width="1" />
<line x1="47.50" y1="508.90" x2="47.50" y2="524.00" stroke="#111" stroke-width="1" />
<line x1="50.50" y1="508.90" x2="50.50" y2="524.00" stroke="#111" stroke-width="1" />
<line x1="59.50" y1="508.90" x2="59.50" y2="524.00" stroke="#111" stroke-width="1" />
<line x1="61.50" y1="508.90" x2="61.50" y2="524.00" stroke="#111" stroke-width="1" />
<line x1="65.50" y1="508.90" x2="65.50" y2="524.00" stroke="#111" stroke-width="1" />
<line x1="67.50" y1="508.90" x2="67.50" y2="524.00" stroke="#111" stroke-width="1" />
<line x1="74.50" y1="508.90" x2="74.50" y2="524.00" stroke="#111" stroke-width="1" />
<line x1="81.50" y1="508.90" x2="81.50" y2="524.00" stroke="#111" stroke-width="1" />
<line x1="95.50" y1="508.90" x2="95.50" y2="524.00" stroke="#111" stroke-width="1" />
<line x1="117.50" y1="508.90" x2="117.50" y2="524.00" stroke="#111" stroke-width="1" />
<line x1="119.50" y1="508.90" x2="119.50" y2="524.00" stroke="#111" stroke-width="1" />
<line x1="121.50" y1="508.90" x2="121.50" y2="524.00" stroke="#111" stroke-width="1" />
<line x1="132.50" y1="508.90" x2="132.50" y2="524.00" stroke="#111" stroke-width="1" />
<line x1="134.50" y1="508.90" x2="134.50" y2="524.00" stroke="#111" stroke-width="1" />
<line x1="136.50" y1="508.90" x2="136.50" y2="524.00" stroke="#111" stroke-width="1" />
<line x1="151.50" y1="508.90" x2="151.50" y2="524.00" stroke="#111" stroke-width="1" />
<line x1="153.50" y1="508.90" x2="153.50" y2="524.00" stroke="#111" stroke-width="1" />
</g>
<rect x="36.20" y="525.20" width="120.30" height="4.80" fill="url(#gI)" />
<line x1="36.20" y1="530.20" x2="156.50" y2="530.20" stroke="#555" stroke-width="0.8" />
<line x1="36.20" y1="525.20" x2="36.20" y2="530.20" stroke="#555" stroke-width="0.8" />
<line x1="156.50" y1="525.20" x2="156.50" y2="530.20" stroke="#555" stroke-width="0.8" />
<path d="M36.7,508 L37.3,500 L38.1,488 L38.7,477.5 L39.6,474.6 L40.6,468.8 L41.5,462.8 L46.3,463.7 L50.2,463.7 L64.6,469.8 L80,476.2 L95.4,483.3 L110.8,491 L120.4,495.4 L133,501.2 L145,504 L150.8,506.3 L152.3,504.8 L156.2,507.4" stroke="#c8102e" stroke-width="1.5" fill="none" stroke-linejoin="round"/>
<text x="117.50" y="469.70" font-size="7.6" textLength="35.00" lengthAdjust="spacingAndGlyphs">NES: 2.07</text>
<text x="117.50" y="480.50" font-size="7.6" textLength="33.40" lengthAdjust="spacingAndGlyphs"><tspan font-style="italic">p</tspan> &lt; 0.001</text>
<text x="117.50" y="490.60" font-size="7.6" textLength="33.60" lengthAdjust="spacingAndGlyphs"><tspan font-style="italic">q</tspan> = 0.002</text>
<text x="35.70" y="539.30" font-size="7.6" textLength="35.00" lengthAdjust="spacingAndGlyphs">sg<tspan font-style="italic">MEF2D</tspan></text>
<text x="136.20" y="539.70" font-size="7.6" textLength="21.20" lengthAdjust="spacingAndGlyphs">sg<tspan font-style="italic">Luc</tspan></text>
<text x="174.20" y="442.40" font-size="11" font-weight="bold">J</text>
<text x="244.00" y="445.80" font-size="7.6" textLength="34.80" lengthAdjust="spacingAndGlyphs">sg<tspan font-style="italic">MEF2D</tspan></text>
<line x1="233.00" y1="449.30" x2="290.00" y2="449.30" stroke="#222" stroke-width="1.2" />
<text x="201.70" y="460.00" font-size="7.6" textLength="20.60" lengthAdjust="spacingAndGlyphs">sg<tspan font-style="italic">Luc</tspan></text>
<text x="236.90" y="460.00" font-size="7.6" textLength="14.30" lengthAdjust="spacingAndGlyphs">e2.1</text>
<text x="269.80" y="459.70" font-size="7.6" textLength="14.40" lengthAdjust="spacingAndGlyphs">e5.1</text>
<rect x="195.10" y="463.10" width="33.00" height="9.70" fill="#fff" />
<rect x="228.10" y="463.10" width="32.80" height="9.70" fill="#eef3fa" />
<rect x="260.90" y="463.10" width="32.60" height="9.70" fill="#fff" />
<rect x="195.10" y="472.80" width="33.00" height="9.80" fill="#fff" />
<rect x="228.10" y="472.80" width="32.80" height="9.80" fill="#fce9e9" />
<rect x="260.90" y="472.80" width="32.60" height="9.80" fill="#fbe5e5" />
<rect x="195.10" y="482.60" width="33.00" height="9.70" fill="#fff" />
<rect x="228.10" y="482.60" width="32.80" height="9.70" fill="#fdf1f1" />
<rect x="260.90" y="482.60" width="32.60" height="9.70" fill="#f9d2d2" />
<rect x="195.10" y="492.30" width="33.00" height="9.60" fill="#fff" />
<rect x="228.10" y="492.30" width="32.80" height="9.60" fill="#e8473b" />
<rect x="260.90" y="492.30" width="32.60" height="9.60" fill="#e8493c" />
<rect x="195.10" y="501.90" width="33.00" height="9.70" fill="#fff" />
<rect x="228.10" y="501.90" width="32.80" height="9.70" fill="#edf2fa" />
<rect x="260.90" y="501.90" width="32.60" height="9.70" fill="#fff" />
<rect x="195.10" y="511.60" width="33.00" height="9.70" fill="#fff" />
<rect x="228.10" y="511.60" width="32.80" height="9.70" fill="#f4f7fc" />
<rect x="260.90" y="511.60" width="32.60" height="9.70" fill="#fff" />
<line x1="195.10" y1="463.10" x2="293.50" y2="463.10" stroke="#111" stroke-width="1.1" />
<line x1="195.10" y1="472.80" x2="293.50" y2="472.80" stroke="#111" stroke-width="1.1" />
<line x1="195.10" y1="482.60" x2="293.50" y2="482.60" stroke="#111" stroke-width="1.1" />
<line x1="195.10" y1="492.30" x2="293.50" y2="492.30" stroke="#111" stroke-width="1.1" />
<line x1="195.10" y1="501.90" x2="293.50" y2="501.90" stroke="#111" stroke-width="1.1" />
<line x1="195.10" y1="511.60" x2="293.50" y2="511.60" stroke="#111" stroke-width="1.1" />
<line x1="195.10" y1="521.30" x2="293.50" y2="521.30" stroke="#111" stroke-width="1.1" />
<line x1="195.10" y1="463.10" x2="195.10" y2="521.30" stroke="#111" stroke-width="1.1" />
<line x1="228.10" y1="463.10" x2="228.10" y2="521.30" stroke="#111" stroke-width="1.1" />
<line x1="260.90" y1="463.10" x2="260.90" y2="521.30" stroke="#111" stroke-width="1.1" />
<line x1="293.50" y1="463.10" x2="293.50" y2="521.30" stroke="#111" stroke-width="1.1" />
<text x="298.00" y="471.70" font-size="8.4" fill="#111" font-style="italic" textLength="28.50" lengthAdjust="spacingAndGlyphs">CEBPA</text>
<text x="298.00" y="481.30" font-size="8.4" fill="#111" font-style="italic" textLength="28.50" lengthAdjust="spacingAndGlyphs">CEBPB</text>
<text x="298.00" y="490.90" font-size="8.4" fill="#111" font-style="italic" textLength="28.50" lengthAdjust="spacingAndGlyphs">CEBPD</text>
<text x="298.00" y="500.50" font-size="8.4" fill="#c8102e" font-style="italic" textLength="28.50" lengthAdjust="spacingAndGlyphs">CEBPE</text>
<text x="298.00" y="510.10" font-size="8.4" fill="#111" font-style="italic" textLength="28.50" lengthAdjust="spacingAndGlyphs">CEBPG</text>
<text x="298.00" y="519.70" font-size="8.4" fill="#111" font-style="italic" textLength="28.50" lengthAdjust="spacingAndGlyphs">CEBPZ</text>
<rect x="215.9" y="524.6" width="69.5" height="7" fill="url(#gJ)" stroke="#222" stroke-width="0.8"/>
<line x1="225.60" y1="524.60" x2="225.60" y2="526.00" stroke="#222" stroke-width="0.9" />
<line x1="225.60" y1="530.30" x2="225.60" y2="531.60" stroke="#222" stroke-width="0.9" />
<text x="224.20" y="539.40" font-size="7.8" text-anchor="middle">−2</text>
<line x1="251.20" y1="524.60" x2="251.20" y2="526.00" stroke="#222" stroke-width="0.9" />
<line x1="251.20" y1="530.30" x2="251.20" y2="531.60" stroke="#222" stroke-width="0.9" />
<text x="251.20" y="539.40" font-size="7.8" text-anchor="middle">0</text>
<line x1="273.60" y1="524.60" x2="273.60" y2="526.00" stroke="#222" stroke-width="0.9" />
<line x1="273.60" y1="530.30" x2="273.60" y2="531.60" stroke="#222" stroke-width="0.9" />
<text x="273.60" y="539.40" font-size="7.8" text-anchor="middle">2</text>
<text x="285.60" y="539.20" font-size="7.6" textLength="23.00" lengthAdjust="spacingAndGlyphs">log<tspan font-size="4.5" dy="1.2">2</tspan><tspan dy="-1.2">FC</tspan></text>
<text x="354.30" y="443.20" font-size="11" font-weight="bold">K</text>
<text x="418.80" y="448.90" font-size="9.4" font-style="italic" textLength="30.50" lengthAdjust="spacingAndGlyphs">CEBPE</text>
<line x1="381.60" y1="453.50" x2="381.60" y2="515.70" stroke="#000" stroke-width="1.5" />
<line x1="380.90" y1="515.00" x2="486.70" y2="515.00" stroke="#000" stroke-width="1.5" />
<line x1="378.50" y1="454.10" x2="381.60" y2="454.10" stroke="#000" stroke-width="1.1" />
<text x="377.20" y="456.90" font-size="8.2" text-anchor="end">1500</text>
<line x1="378.50" y1="474.40" x2="381.60" y2="474.40" stroke="#000" stroke-width="1.1" />
<text x="377.20" y="477.20" font-size="8.2" text-anchor="end">1000</text>
<line x1="378.50" y1="494.70" x2="381.60" y2="494.70" stroke="#000" stroke-width="1.1" />
<text x="377.20" y="497.50" font-size="8.2" text-anchor="end">500</text>
<line x1="378.50" y1="515.00" x2="381.60" y2="515.00" stroke="#000" stroke-width="1.1" />
<text x="377.20" y="517.80" font-size="8.2" text-anchor="end">0</text>
<line x1="403.10" y1="515.00" x2="403.10" y2="518.00" stroke="#000" stroke-width="1.1" />
<line x1="434.30" y1="515.00" x2="434.30" y2="518.00" stroke="#000" stroke-width="1.1" />
<line x1="465.50" y1="515.00" x2="465.50" y2="518.00" stroke="#000" stroke-width="1.1" />
<text x="356.20" y="511.50" font-size="7" stroke="#000" stroke-width="0.22" textLength="53.00" lengthAdjust="spacingAndGlyphs" transform="rotate(-90 356.20 511.50)">Normalized counts</text>
<line x1="392.70" y1="507.40" x2="414.00" y2="507.40" stroke="#c8102e" stroke-width="1.1" />
<circle cx="398.90" cy="507.40" r="2.1" fill="#c8102e"/>
<circle cx="407.30" cy="507.40" r="2.1" fill="#c8102e"/>
<line x1="423.90" y1="470.00" x2="445.10" y2="470.00" stroke="#1f5791" stroke-width="1.1" />
<circle cx="429.70" cy="470.00" r="2.1" fill="#1f5791"/>
<circle cx="438.90" cy="470.00" r="2.1" fill="#1f5791"/>
<line x1="455.00" y1="470.00" x2="476.50" y2="470.00" stroke="#3cb44b" stroke-width="1.1" />
<circle cx="465.90" cy="464.20" r="2.1" fill="#3cb44b"/>
<circle cx="465.90" cy="476.50" r="2.1" fill="#3cb44b"/>
<text x="392.60" y="527.00" font-size="7.4" textLength="21.40" lengthAdjust="spacingAndGlyphs">sg<tspan font-style="italic">Luc</tspan></text>
<text x="426.40" y="527.00" font-size="7.4" textLength="15.20" lengthAdjust="spacingAndGlyphs">e2.1</text>
<text x="458.00" y="527.00" font-size="7.4" textLength="14.50" lengthAdjust="spacingAndGlyphs">e5.1</text>
<line x1="426.40" y1="530.30" x2="483.10" y2="530.30" stroke="#222" stroke-width="1.2" />
<text x="434.10" y="538.50" font-size="7.8" textLength="42.10" lengthAdjust="spacingAndGlyphs">sg<tspan font-style="italic">MEF2D</tspan></text>
<rect x="0.75" y="0.75" width="518.5" height="549.5" fill="none" stroke="#000" stroke-width="1.5"/></svg></body></html>
